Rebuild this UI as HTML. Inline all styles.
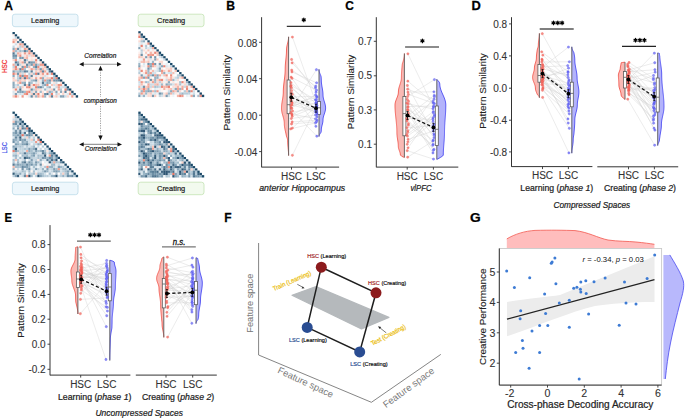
<!DOCTYPE html>
<html><head><meta charset="utf-8"><style>
html,body{margin:0;padding:0;background:#fff;}
svg{display:block;font-family:"Liberation Sans", sans-serif;}
</style></head><body>
<svg width="685" height="418" viewBox="0 0 685 418">
<rect width="685" height="418" fill="#fff"/>
<text x="0" y="0" font-size="12.5" font-weight="bold" fill="#000" stroke="#000" stroke-width="0.25" transform="translate(4.16 10.00) scale(0.960 1)">A</text>
<rect x="12.4" y="14.2" width="65.6" height="12.5" rx="2.5" fill="#eef7fc" stroke="#bcdbe8" stroke-width="0.8"/>
<text x="45.20" y="22.90" font-size="7.8" fill="#222" text-anchor="middle" stroke="#222" stroke-width="0.22" textLength="28.3" lengthAdjust="spacingAndGlyphs" >Learning</text>
<rect x="138.2" y="14.2" width="65.8" height="12.5" rx="2.5" fill="#f2faee" stroke="#c3e2b3" stroke-width="0.8"/>
<text x="171.10" y="22.90" font-size="7.8" fill="#222" text-anchor="middle" stroke="#222" stroke-width="0.22" textLength="28.2" lengthAdjust="spacingAndGlyphs" >Creating</text>
<rect x="12.4" y="182.2" width="65.6" height="12.5" rx="2.5" fill="#eef7fc" stroke="#bcdbe8" stroke-width="0.8"/>
<text x="45.20" y="190.90" font-size="7.8" fill="#222" text-anchor="middle" stroke="#222" stroke-width="0.22" textLength="28.3" lengthAdjust="spacingAndGlyphs" >Learning</text>
<rect x="138.2" y="182.2" width="65.8" height="12.5" rx="2.5" fill="#f2faee" stroke="#c3e2b3" stroke-width="0.8"/>
<text x="171.10" y="190.90" font-size="7.8" fill="#222" text-anchor="middle" stroke="#222" stroke-width="0.22" textLength="28.2" lengthAdjust="spacingAndGlyphs" >Creating</text>
<defs><filter id="mblur" x="-5%" y="-5%" width="110%" height="110%"><feGaussianBlur stdDeviation="0.3"/></filter></defs>
<g filter="url(#mblur)"><rect x="12.50" y="32.00" width="2.36" height="2.36" fill="#1b4a68"/><rect x="12.50" y="34.26" width="2.36" height="2.36" fill="#fceae5"/><rect x="14.76" y="34.26" width="2.36" height="2.36" fill="#1b4a68"/><rect x="12.50" y="36.52" width="2.36" height="2.36" fill="#f4f7fa"/><rect x="14.76" y="36.52" width="2.36" height="2.36" fill="#c6d7e1"/><rect x="17.02" y="36.52" width="2.36" height="2.36" fill="#1b4a68"/><rect x="12.50" y="38.78" width="2.36" height="2.36" fill="#f6c2b7"/><rect x="14.76" y="38.78" width="2.36" height="2.36" fill="#f8ccc2"/><rect x="17.02" y="38.78" width="2.36" height="2.36" fill="#fdf0ed"/><rect x="19.28" y="38.78" width="2.36" height="2.36" fill="#1b4a68"/><rect x="12.50" y="41.03" width="2.36" height="2.36" fill="#ee9787"/><rect x="14.76" y="41.03" width="2.36" height="2.36" fill="#fce3dd"/><rect x="17.02" y="41.03" width="2.36" height="2.36" fill="#5c8098"/><rect x="19.28" y="41.03" width="2.36" height="2.36" fill="#c1d3de"/><rect x="21.53" y="41.03" width="2.36" height="2.36" fill="#1b4a68"/><rect x="12.50" y="43.29" width="2.36" height="2.36" fill="#f8fafc"/><rect x="14.76" y="43.29" width="2.36" height="2.36" fill="#d3e0e9"/><rect x="17.02" y="43.29" width="2.36" height="2.36" fill="#fdede9"/><rect x="19.28" y="43.29" width="2.36" height="2.36" fill="#ee9889"/><rect x="21.53" y="43.29" width="2.36" height="2.36" fill="#f5b9ac"/><rect x="23.79" y="43.29" width="2.36" height="2.36" fill="#1b4a68"/><rect x="12.50" y="45.55" width="2.36" height="2.36" fill="#c5d6e1"/><rect x="14.76" y="45.55" width="2.36" height="2.36" fill="#f5f8fa"/><rect x="17.02" y="45.55" width="2.36" height="2.36" fill="#fce5df"/><rect x="19.28" y="45.55" width="2.36" height="2.36" fill="#bbcfdb"/><rect x="21.53" y="45.55" width="2.36" height="2.36" fill="#f4b8ac"/><rect x="23.79" y="45.55" width="2.36" height="2.36" fill="#d1dfe8"/><rect x="26.05" y="45.55" width="2.36" height="2.36" fill="#1b4a68"/><rect x="12.50" y="47.81" width="2.36" height="2.36" fill="#8ba9bb"/><rect x="14.76" y="47.81" width="2.36" height="2.36" fill="#f5b9ad"/><rect x="17.02" y="47.81" width="2.36" height="2.36" fill="#6a8da4"/><rect x="19.28" y="47.81" width="2.36" height="2.36" fill="#d3e1e9"/><rect x="21.53" y="47.81" width="2.36" height="2.36" fill="#edf3f6"/><rect x="23.79" y="47.81" width="2.36" height="2.36" fill="#f0a293"/><rect x="26.05" y="47.81" width="2.36" height="2.36" fill="#f7c5ba"/><rect x="28.31" y="47.81" width="2.36" height="2.36" fill="#1b4a68"/><rect x="12.50" y="50.07" width="2.36" height="2.36" fill="#f2ada0"/><rect x="14.76" y="50.07" width="2.36" height="2.36" fill="#a3bccc"/><rect x="17.02" y="50.07" width="2.36" height="2.36" fill="#cfdde7"/><rect x="19.28" y="50.07" width="2.36" height="2.36" fill="#9fb9c9"/><rect x="21.53" y="50.07" width="2.36" height="2.36" fill="#b6cbd8"/><rect x="23.79" y="50.07" width="2.36" height="2.36" fill="#5c8099"/><rect x="26.05" y="50.07" width="2.36" height="2.36" fill="#92aec0"/><rect x="28.31" y="50.07" width="2.36" height="2.36" fill="#f2a99b"/><rect x="30.57" y="50.07" width="2.36" height="2.36" fill="#1b4a68"/><rect x="12.50" y="52.33" width="2.36" height="2.36" fill="#527791"/><rect x="14.76" y="52.33" width="2.36" height="2.36" fill="#d3e1ea"/><rect x="17.02" y="52.33" width="2.36" height="2.36" fill="#f2ada0"/><rect x="19.28" y="52.33" width="2.36" height="2.36" fill="#f7c8be"/><rect x="21.53" y="52.33" width="2.36" height="2.36" fill="#fdede9"/><rect x="23.79" y="52.33" width="2.36" height="2.36" fill="#f0a091"/><rect x="26.05" y="52.33" width="2.36" height="2.36" fill="#fbe0da"/><rect x="28.31" y="52.33" width="2.36" height="2.36" fill="#ec8f80"/><rect x="30.57" y="52.33" width="2.36" height="2.36" fill="#f8cabf"/><rect x="32.83" y="52.33" width="2.36" height="2.36" fill="#1b4a68"/><rect x="12.50" y="54.59" width="2.36" height="2.36" fill="#698ca3"/><rect x="14.76" y="54.59" width="2.36" height="2.36" fill="#6c8fa5"/><rect x="17.02" y="54.59" width="2.36" height="2.36" fill="#f9cec4"/><rect x="19.28" y="54.59" width="2.36" height="2.36" fill="#ec8d7e"/><rect x="21.53" y="54.59" width="2.36" height="2.36" fill="#e8eff4"/><rect x="23.79" y="54.59" width="2.36" height="2.36" fill="#fbe2dc"/><rect x="26.05" y="54.59" width="2.36" height="2.36" fill="#f7c5ba"/><rect x="28.31" y="54.59" width="2.36" height="2.36" fill="#d7e3eb"/><rect x="30.57" y="54.59" width="2.36" height="2.36" fill="#f8cec4"/><rect x="32.83" y="54.59" width="2.36" height="2.36" fill="#f5bbae"/><rect x="35.09" y="54.59" width="2.36" height="2.36" fill="#1b4a68"/><rect x="12.50" y="56.84" width="2.36" height="2.36" fill="#8daabc"/><rect x="14.76" y="56.84" width="2.36" height="2.36" fill="#9bb5c6"/><rect x="17.02" y="56.84" width="2.36" height="2.36" fill="#f7f9fb"/><rect x="19.28" y="56.84" width="2.36" height="2.36" fill="#7c9cb1"/><rect x="21.53" y="56.84" width="2.36" height="2.36" fill="#7999ae"/><rect x="23.79" y="56.84" width="2.36" height="2.36" fill="#f9d0c7"/><rect x="26.05" y="56.84" width="2.36" height="2.36" fill="#f3b2a5"/><rect x="28.31" y="56.84" width="2.36" height="2.36" fill="#fdf2ef"/><rect x="30.57" y="56.84" width="2.36" height="2.36" fill="#fce9e4"/><rect x="32.83" y="56.84" width="2.36" height="2.36" fill="#fef4f1"/><rect x="35.09" y="56.84" width="2.36" height="2.36" fill="#fceae5"/><rect x="37.34" y="56.84" width="2.36" height="2.36" fill="#1b4a68"/><rect x="12.50" y="59.10" width="2.36" height="2.36" fill="#fad5cc"/><rect x="14.76" y="59.10" width="2.36" height="2.36" fill="#ec8f7f"/><rect x="17.02" y="59.10" width="2.36" height="2.36" fill="#e8eff4"/><rect x="19.28" y="59.10" width="2.36" height="2.36" fill="#fad7ce"/><rect x="21.53" y="59.10" width="2.36" height="2.36" fill="#fdede9"/><rect x="23.79" y="59.10" width="2.36" height="2.36" fill="#527791"/><rect x="26.05" y="59.10" width="2.36" height="2.36" fill="#b2c7d5"/><rect x="28.31" y="59.10" width="2.36" height="2.36" fill="#fdefeb"/><rect x="30.57" y="59.10" width="2.36" height="2.36" fill="#fbdfd8"/><rect x="32.83" y="59.10" width="2.36" height="2.36" fill="#e6eef3"/><rect x="35.09" y="59.10" width="2.36" height="2.36" fill="#e98272"/><rect x="37.34" y="59.10" width="2.36" height="2.36" fill="#e9f0f4"/><rect x="39.60" y="59.10" width="2.36" height="2.36" fill="#1b4a68"/><rect x="12.50" y="61.36" width="2.36" height="2.36" fill="#fbfcfd"/><rect x="14.76" y="61.36" width="2.36" height="2.36" fill="#557a93"/><rect x="17.02" y="61.36" width="2.36" height="2.36" fill="#8ca9bc"/><rect x="19.28" y="61.36" width="2.36" height="2.36" fill="#fad4cb"/><rect x="21.53" y="61.36" width="2.36" height="2.36" fill="#f0a091"/><rect x="23.79" y="61.36" width="2.36" height="2.36" fill="#7c9cb1"/><rect x="26.05" y="61.36" width="2.36" height="2.36" fill="#fce3dd"/><rect x="28.31" y="61.36" width="2.36" height="2.36" fill="#547992"/><rect x="30.57" y="61.36" width="2.36" height="2.36" fill="#7798ad"/><rect x="32.83" y="61.36" width="2.36" height="2.36" fill="#84a2b6"/><rect x="35.09" y="61.36" width="2.36" height="2.36" fill="#f6c1b5"/><rect x="37.34" y="61.36" width="2.36" height="2.36" fill="#fef6f4"/><rect x="39.60" y="61.36" width="2.36" height="2.36" fill="#fbddd6"/><rect x="41.86" y="61.36" width="2.36" height="2.36" fill="#1b4a68"/><rect x="12.50" y="63.62" width="2.36" height="2.36" fill="#f2aa9c"/><rect x="14.76" y="63.62" width="2.36" height="2.36" fill="#b8ccd9"/><rect x="17.02" y="63.62" width="2.36" height="2.36" fill="#537892"/><rect x="19.28" y="63.62" width="2.36" height="2.36" fill="#c6d7e2"/><rect x="21.53" y="63.62" width="2.36" height="2.36" fill="#fce3dc"/><rect x="23.79" y="63.62" width="2.36" height="2.36" fill="#fce5df"/><rect x="26.05" y="63.62" width="2.36" height="2.36" fill="#6589a0"/><rect x="28.31" y="63.62" width="2.36" height="2.36" fill="#b2c8d5"/><rect x="30.57" y="63.62" width="2.36" height="2.36" fill="#7899ae"/><rect x="32.83" y="63.62" width="2.36" height="2.36" fill="#f3aea1"/><rect x="35.09" y="63.62" width="2.36" height="2.36" fill="#7c9cb0"/><rect x="37.34" y="63.62" width="2.36" height="2.36" fill="#b3c8d6"/><rect x="39.60" y="63.62" width="2.36" height="2.36" fill="#ef9d8e"/><rect x="41.86" y="63.62" width="2.36" height="2.36" fill="#ef9b8c"/><rect x="44.12" y="63.62" width="2.36" height="2.36" fill="#1b4a68"/><rect x="12.50" y="65.88" width="2.36" height="2.36" fill="#c1d3de"/><rect x="14.76" y="65.88" width="2.36" height="2.36" fill="#e98273"/><rect x="17.02" y="65.88" width="2.36" height="2.36" fill="#e5edf2"/><rect x="19.28" y="65.88" width="2.36" height="2.36" fill="#fceae5"/><rect x="21.53" y="65.88" width="2.36" height="2.36" fill="#7798ad"/><rect x="23.79" y="65.88" width="2.36" height="2.36" fill="#ee9788"/><rect x="26.05" y="65.88" width="2.36" height="2.36" fill="#93afc1"/><rect x="28.31" y="65.88" width="2.36" height="2.36" fill="#f5bdb1"/><rect x="30.57" y="65.88" width="2.36" height="2.36" fill="#fef7f6"/><rect x="32.83" y="65.88" width="2.36" height="2.36" fill="#95b0c2"/><rect x="35.09" y="65.88" width="2.36" height="2.36" fill="#5f829b"/><rect x="37.34" y="65.88" width="2.36" height="2.36" fill="#ec8f80"/><rect x="39.60" y="65.88" width="2.36" height="2.36" fill="#dfe9ef"/><rect x="41.86" y="65.88" width="2.36" height="2.36" fill="#fbdcd4"/><rect x="44.12" y="65.88" width="2.36" height="2.36" fill="#f4b8ac"/><rect x="46.38" y="65.88" width="2.36" height="2.36" fill="#1b4a68"/><rect x="12.50" y="68.14" width="2.36" height="2.36" fill="#f8cec4"/><rect x="14.76" y="68.14" width="2.36" height="2.36" fill="#eb8979"/><rect x="17.02" y="68.14" width="2.36" height="2.36" fill="#f8c9be"/><rect x="19.28" y="68.14" width="2.36" height="2.36" fill="#65889f"/><rect x="21.53" y="68.14" width="2.36" height="2.36" fill="#ea8778"/><rect x="23.79" y="68.14" width="2.36" height="2.36" fill="#aac1d0"/><rect x="26.05" y="68.14" width="2.36" height="2.36" fill="#fcfdfe"/><rect x="28.31" y="68.14" width="2.36" height="2.36" fill="#fce7e2"/><rect x="30.57" y="68.14" width="2.36" height="2.36" fill="#ef9b8c"/><rect x="32.83" y="68.14" width="2.36" height="2.36" fill="#f7c7bc"/><rect x="35.09" y="68.14" width="2.36" height="2.36" fill="#a5becd"/><rect x="37.34" y="68.14" width="2.36" height="2.36" fill="#f6c1b5"/><rect x="39.60" y="68.14" width="2.36" height="2.36" fill="#7b9bb0"/><rect x="41.86" y="68.14" width="2.36" height="2.36" fill="#f5bbaf"/><rect x="44.12" y="68.14" width="2.36" height="2.36" fill="#fbded6"/><rect x="46.38" y="68.14" width="2.36" height="2.36" fill="#aec4d2"/><rect x="48.64" y="68.14" width="2.36" height="2.36" fill="#1b4a68"/><rect x="12.50" y="70.40" width="2.36" height="2.36" fill="#809fb3"/><rect x="14.76" y="70.40" width="2.36" height="2.36" fill="#b9cdd9"/><rect x="17.02" y="70.40" width="2.36" height="2.36" fill="#aec5d3"/><rect x="19.28" y="70.40" width="2.36" height="2.36" fill="#8caabc"/><rect x="21.53" y="70.40" width="2.36" height="2.36" fill="#a9c1d0"/><rect x="23.79" y="70.40" width="2.36" height="2.36" fill="#5d8199"/><rect x="26.05" y="70.40" width="2.36" height="2.36" fill="#6a8da4"/><rect x="28.31" y="70.40" width="2.36" height="2.36" fill="#d7e4ec"/><rect x="30.57" y="70.40" width="2.36" height="2.36" fill="#5d8199"/><rect x="32.83" y="70.40" width="2.36" height="2.36" fill="#eaf1f5"/><rect x="35.09" y="70.40" width="2.36" height="2.36" fill="#f8cbc0"/><rect x="37.34" y="70.40" width="2.36" height="2.36" fill="#fbe1db"/><rect x="39.60" y="70.40" width="2.36" height="2.36" fill="#f2ada0"/><rect x="41.86" y="70.40" width="2.36" height="2.36" fill="#6689a1"/><rect x="44.12" y="70.40" width="2.36" height="2.36" fill="#f1a799"/><rect x="46.38" y="70.40" width="2.36" height="2.36" fill="#e9f0f4"/><rect x="48.64" y="70.40" width="2.36" height="2.36" fill="#587c95"/><rect x="50.90" y="70.40" width="2.36" height="2.36" fill="#1b4a68"/><rect x="12.50" y="72.66" width="2.36" height="2.36" fill="#e98172"/><rect x="14.76" y="72.66" width="2.36" height="2.36" fill="#f7c5ba"/><rect x="17.02" y="72.66" width="2.36" height="2.36" fill="#7294aa"/><rect x="19.28" y="72.66" width="2.36" height="2.36" fill="#f8ccc2"/><rect x="21.53" y="72.66" width="2.36" height="2.36" fill="#cadae4"/><rect x="23.79" y="72.66" width="2.36" height="2.36" fill="#fadad1"/><rect x="26.05" y="72.66" width="2.36" height="2.36" fill="#fcfdfe"/><rect x="28.31" y="72.66" width="2.36" height="2.36" fill="#b9cdda"/><rect x="30.57" y="72.66" width="2.36" height="2.36" fill="#fad8d0"/><rect x="32.83" y="72.66" width="2.36" height="2.36" fill="#adc4d2"/><rect x="35.09" y="72.66" width="2.36" height="2.36" fill="#e87c6c"/><rect x="37.34" y="72.66" width="2.36" height="2.36" fill="#577b94"/><rect x="39.60" y="72.66" width="2.36" height="2.36" fill="#fbdfd8"/><rect x="41.86" y="72.66" width="2.36" height="2.36" fill="#f09f90"/><rect x="44.12" y="72.66" width="2.36" height="2.36" fill="#fdece8"/><rect x="46.38" y="72.66" width="2.36" height="2.36" fill="#eb8879"/><rect x="48.64" y="72.66" width="2.36" height="2.36" fill="#d7e4ec"/><rect x="50.90" y="72.66" width="2.36" height="2.36" fill="#ea8778"/><rect x="53.16" y="72.66" width="2.36" height="2.36" fill="#1b4a68"/><rect x="12.50" y="74.91" width="2.36" height="2.36" fill="#8ba8bb"/><rect x="14.76" y="74.91" width="2.36" height="2.36" fill="#fef3f1"/><rect x="17.02" y="74.91" width="2.36" height="2.36" fill="#bccfdb"/><rect x="19.28" y="74.91" width="2.36" height="2.36" fill="#ea8474"/><rect x="21.53" y="74.91" width="2.36" height="2.36" fill="#7899ae"/><rect x="23.79" y="74.91" width="2.36" height="2.36" fill="#ed9282"/><rect x="26.05" y="74.91" width="2.36" height="2.36" fill="#ec9181"/><rect x="28.31" y="74.91" width="2.36" height="2.36" fill="#cadae4"/><rect x="30.57" y="74.91" width="2.36" height="2.36" fill="#60849c"/><rect x="32.83" y="74.91" width="2.36" height="2.36" fill="#fdece8"/><rect x="35.09" y="74.91" width="2.36" height="2.36" fill="#dbe6ed"/><rect x="37.34" y="74.91" width="2.36" height="2.36" fill="#fce9e4"/><rect x="39.60" y="74.91" width="2.36" height="2.36" fill="#fce5df"/><rect x="41.86" y="74.91" width="2.36" height="2.36" fill="#fbdbd3"/><rect x="44.12" y="74.91" width="2.36" height="2.36" fill="#d3e0e9"/><rect x="46.38" y="74.91" width="2.36" height="2.36" fill="#e4ecf2"/><rect x="48.64" y="74.91" width="2.36" height="2.36" fill="#fef7f5"/><rect x="50.90" y="74.91" width="2.36" height="2.36" fill="#fef7f6"/><rect x="53.16" y="74.91" width="2.36" height="2.36" fill="#a6bfce"/><rect x="55.41" y="74.91" width="2.36" height="2.36" fill="#1b4a68"/><rect x="12.50" y="77.17" width="2.36" height="2.36" fill="#f7c6bc"/><rect x="14.76" y="77.17" width="2.36" height="2.36" fill="#eff4f7"/><rect x="17.02" y="77.17" width="2.36" height="2.36" fill="#bbceda"/><rect x="19.28" y="77.17" width="2.36" height="2.36" fill="#7293a9"/><rect x="21.53" y="77.17" width="2.36" height="2.36" fill="#f6c2b7"/><rect x="23.79" y="77.17" width="2.36" height="2.36" fill="#557993"/><rect x="26.05" y="77.17" width="2.36" height="2.36" fill="#ee9687"/><rect x="28.31" y="77.17" width="2.36" height="2.36" fill="#97b3c4"/><rect x="30.57" y="77.17" width="2.36" height="2.36" fill="#fad7ce"/><rect x="32.83" y="77.17" width="2.36" height="2.36" fill="#fdece8"/><rect x="35.09" y="77.17" width="2.36" height="2.36" fill="#f1a495"/><rect x="37.34" y="77.17" width="2.36" height="2.36" fill="#fce9e4"/><rect x="39.60" y="77.17" width="2.36" height="2.36" fill="#ed9485"/><rect x="41.86" y="77.17" width="2.36" height="2.36" fill="#91adbf"/><rect x="44.12" y="77.17" width="2.36" height="2.36" fill="#fbe1da"/><rect x="46.38" y="77.17" width="2.36" height="2.36" fill="#f7c8be"/><rect x="48.64" y="77.17" width="2.36" height="2.36" fill="#f8cac0"/><rect x="50.90" y="77.17" width="2.36" height="2.36" fill="#e98070"/><rect x="53.16" y="77.17" width="2.36" height="2.36" fill="#a7bfce"/><rect x="55.41" y="77.17" width="2.36" height="2.36" fill="#e97f70"/><rect x="57.67" y="77.17" width="2.36" height="2.36" fill="#1b4a68"/><rect x="12.50" y="79.43" width="2.36" height="2.36" fill="#fad6cd"/><rect x="14.76" y="79.43" width="2.36" height="2.36" fill="#f9d2c9"/><rect x="17.02" y="79.43" width="2.36" height="2.36" fill="#afc5d3"/><rect x="19.28" y="79.43" width="2.36" height="2.36" fill="#f6c2b7"/><rect x="21.53" y="79.43" width="2.36" height="2.36" fill="#fbdfd8"/><rect x="23.79" y="79.43" width="2.36" height="2.36" fill="#f9d0c6"/><rect x="26.05" y="79.43" width="2.36" height="2.36" fill="#fef7f5"/><rect x="28.31" y="79.43" width="2.36" height="2.36" fill="#fbe2dc"/><rect x="30.57" y="79.43" width="2.36" height="2.36" fill="#aac2d0"/><rect x="32.83" y="79.43" width="2.36" height="2.36" fill="#93afc1"/><rect x="35.09" y="79.43" width="2.36" height="2.36" fill="#6a8da3"/><rect x="37.34" y="79.43" width="2.36" height="2.36" fill="#fad9d0"/><rect x="39.60" y="79.43" width="2.36" height="2.36" fill="#e8eff4"/><rect x="41.86" y="79.43" width="2.36" height="2.36" fill="#96b1c3"/><rect x="44.12" y="79.43" width="2.36" height="2.36" fill="#ee9586"/><rect x="46.38" y="79.43" width="2.36" height="2.36" fill="#99b4c5"/><rect x="48.64" y="79.43" width="2.36" height="2.36" fill="#7697ac"/><rect x="50.90" y="79.43" width="2.36" height="2.36" fill="#f6c0b5"/><rect x="53.16" y="79.43" width="2.36" height="2.36" fill="#7293a9"/><rect x="55.41" y="79.43" width="2.36" height="2.36" fill="#7395aa"/><rect x="57.67" y="79.43" width="2.36" height="2.36" fill="#678aa1"/><rect x="59.93" y="79.43" width="2.36" height="2.36" fill="#1b4a68"/><rect x="12.50" y="81.69" width="2.36" height="2.36" fill="#8caabc"/><rect x="14.76" y="81.69" width="2.36" height="2.36" fill="#fef6f4"/><rect x="17.02" y="81.69" width="2.36" height="2.36" fill="#fad5cc"/><rect x="19.28" y="81.69" width="2.36" height="2.36" fill="#ee9586"/><rect x="21.53" y="81.69" width="2.36" height="2.36" fill="#99b4c5"/><rect x="23.79" y="81.69" width="2.36" height="2.36" fill="#8facbe"/><rect x="26.05" y="81.69" width="2.36" height="2.36" fill="#feffff"/><rect x="28.31" y="81.69" width="2.36" height="2.36" fill="#82a1b5"/><rect x="30.57" y="81.69" width="2.36" height="2.36" fill="#a9c1d0"/><rect x="32.83" y="81.69" width="2.36" height="2.36" fill="#f5f8fa"/><rect x="35.09" y="81.69" width="2.36" height="2.36" fill="#d8e4ec"/><rect x="37.34" y="81.69" width="2.36" height="2.36" fill="#fbdfd8"/><rect x="39.60" y="81.69" width="2.36" height="2.36" fill="#e0e9f0"/><rect x="41.86" y="81.69" width="2.36" height="2.36" fill="#567b94"/><rect x="44.12" y="81.69" width="2.36" height="2.36" fill="#c3d5e0"/><rect x="46.38" y="81.69" width="2.36" height="2.36" fill="#8eabbd"/><rect x="48.64" y="81.69" width="2.36" height="2.36" fill="#9bb6c6"/><rect x="50.90" y="81.69" width="2.36" height="2.36" fill="#f3f7f9"/><rect x="53.16" y="81.69" width="2.36" height="2.36" fill="#fbe0d9"/><rect x="55.41" y="81.69" width="2.36" height="2.36" fill="#d0dfe8"/><rect x="57.67" y="81.69" width="2.36" height="2.36" fill="#fdfefe"/><rect x="59.93" y="81.69" width="2.36" height="2.36" fill="#fbded7"/><rect x="62.19" y="81.69" width="2.36" height="2.36" fill="#1b4a68"/><rect x="12.50" y="83.95" width="2.36" height="2.36" fill="#8daabc"/><rect x="14.76" y="83.95" width="2.36" height="2.36" fill="#d2e0e9"/><rect x="17.02" y="83.95" width="2.36" height="2.36" fill="#b5cad7"/><rect x="19.28" y="83.95" width="2.36" height="2.36" fill="#edf3f6"/><rect x="21.53" y="83.95" width="2.36" height="2.36" fill="#e1eaf0"/><rect x="23.79" y="83.95" width="2.36" height="2.36" fill="#5e829a"/><rect x="26.05" y="83.95" width="2.36" height="2.36" fill="#f7c8be"/><rect x="28.31" y="83.95" width="2.36" height="2.36" fill="#587c95"/><rect x="30.57" y="83.95" width="2.36" height="2.36" fill="#fbded7"/><rect x="32.83" y="83.95" width="2.36" height="2.36" fill="#e98373"/><rect x="35.09" y="83.95" width="2.36" height="2.36" fill="#f5b9ac"/><rect x="37.34" y="83.95" width="2.36" height="2.36" fill="#f6c0b5"/><rect x="39.60" y="83.95" width="2.36" height="2.36" fill="#ebf1f5"/><rect x="41.86" y="83.95" width="2.36" height="2.36" fill="#aec4d2"/><rect x="44.12" y="83.95" width="2.36" height="2.36" fill="#8aa8bb"/><rect x="46.38" y="83.95" width="2.36" height="2.36" fill="#eb8b7b"/><rect x="48.64" y="83.95" width="2.36" height="2.36" fill="#fbfcfd"/><rect x="50.90" y="83.95" width="2.36" height="2.36" fill="#f7c4b9"/><rect x="53.16" y="83.95" width="2.36" height="2.36" fill="#d1dfe8"/><rect x="55.41" y="83.95" width="2.36" height="2.36" fill="#fad7ce"/><rect x="57.67" y="83.95" width="2.36" height="2.36" fill="#ed9485"/><rect x="59.93" y="83.95" width="2.36" height="2.36" fill="#f0a394"/><rect x="62.19" y="83.95" width="2.36" height="2.36" fill="#edf2f6"/><rect x="64.45" y="83.95" width="2.36" height="2.36" fill="#1b4a68"/><rect x="12.50" y="86.21" width="2.36" height="2.36" fill="#89a6b9"/><rect x="14.76" y="86.21" width="2.36" height="2.36" fill="#d3e0e9"/><rect x="17.02" y="86.21" width="2.36" height="2.36" fill="#f9d1c7"/><rect x="19.28" y="86.21" width="2.36" height="2.36" fill="#a0baca"/><rect x="21.53" y="86.21" width="2.36" height="2.36" fill="#f8ccc2"/><rect x="23.79" y="86.21" width="2.36" height="2.36" fill="#fef4f2"/><rect x="26.05" y="86.21" width="2.36" height="2.36" fill="#ee9586"/><rect x="28.31" y="86.21" width="2.36" height="2.36" fill="#ea8475"/><rect x="30.57" y="86.21" width="2.36" height="2.36" fill="#fbdfd8"/><rect x="32.83" y="86.21" width="2.36" height="2.36" fill="#e2ebf1"/><rect x="35.09" y="86.21" width="2.36" height="2.36" fill="#e98171"/><rect x="37.34" y="86.21" width="2.36" height="2.36" fill="#7697ac"/><rect x="39.60" y="86.21" width="2.36" height="2.36" fill="#63869e"/><rect x="41.86" y="86.21" width="2.36" height="2.36" fill="#a7bfce"/><rect x="44.12" y="86.21" width="2.36" height="2.36" fill="#f7fafb"/><rect x="46.38" y="86.21" width="2.36" height="2.36" fill="#b7ccd8"/><rect x="48.64" y="86.21" width="2.36" height="2.36" fill="#95b1c3"/><rect x="50.90" y="86.21" width="2.36" height="2.36" fill="#fef4f2"/><rect x="53.16" y="86.21" width="2.36" height="2.36" fill="#ecf2f5"/><rect x="55.41" y="86.21" width="2.36" height="2.36" fill="#cadae4"/><rect x="57.67" y="86.21" width="2.36" height="2.36" fill="#f1a496"/><rect x="59.93" y="86.21" width="2.36" height="2.36" fill="#d7e4ec"/><rect x="62.19" y="86.21" width="2.36" height="2.36" fill="#d1dfe8"/><rect x="64.45" y="86.21" width="2.36" height="2.36" fill="#c1d3de"/><rect x="66.71" y="86.21" width="2.36" height="2.36" fill="#1b4a68"/><rect x="12.50" y="88.47" width="2.36" height="2.36" fill="#fce9e4"/><rect x="14.76" y="88.47" width="2.36" height="2.36" fill="#eb897a"/><rect x="17.02" y="88.47" width="2.36" height="2.36" fill="#dde8ef"/><rect x="19.28" y="88.47" width="2.36" height="2.36" fill="#527790"/><rect x="21.53" y="88.47" width="2.36" height="2.36" fill="#fdebe7"/><rect x="23.79" y="88.47" width="2.36" height="2.36" fill="#fdf0ed"/><rect x="26.05" y="88.47" width="2.36" height="2.36" fill="#fdf0ed"/><rect x="28.31" y="88.47" width="2.36" height="2.36" fill="#fbdfd8"/><rect x="30.57" y="88.47" width="2.36" height="2.36" fill="#688ba2"/><rect x="32.83" y="88.47" width="2.36" height="2.36" fill="#bed1dc"/><rect x="35.09" y="88.47" width="2.36" height="2.36" fill="#f6c0b5"/><rect x="37.34" y="88.47" width="2.36" height="2.36" fill="#fad8cf"/><rect x="39.60" y="88.47" width="2.36" height="2.36" fill="#fbded6"/><rect x="41.86" y="88.47" width="2.36" height="2.36" fill="#ecf2f6"/><rect x="44.12" y="88.47" width="2.36" height="2.36" fill="#98b4c5"/><rect x="46.38" y="88.47" width="2.36" height="2.36" fill="#dee8ef"/><rect x="48.64" y="88.47" width="2.36" height="2.36" fill="#fbe0da"/><rect x="50.90" y="88.47" width="2.36" height="2.36" fill="#f8cac0"/><rect x="53.16" y="88.47" width="2.36" height="2.36" fill="#6f91a7"/><rect x="55.41" y="88.47" width="2.36" height="2.36" fill="#fcfdfd"/><rect x="57.67" y="88.47" width="2.36" height="2.36" fill="#f1a89a"/><rect x="59.93" y="88.47" width="2.36" height="2.36" fill="#b4c9d6"/><rect x="62.19" y="88.47" width="2.36" height="2.36" fill="#ffffff"/><rect x="64.45" y="88.47" width="2.36" height="2.36" fill="#ea8676"/><rect x="66.71" y="88.47" width="2.36" height="2.36" fill="#6e90a7"/><rect x="68.97" y="88.47" width="2.36" height="2.36" fill="#1b4a68"/><rect x="12.50" y="90.72" width="2.36" height="2.36" fill="#d9e5ec"/><rect x="14.76" y="90.72" width="2.36" height="2.36" fill="#fceae5"/><rect x="17.02" y="90.72" width="2.36" height="2.36" fill="#8eabbe"/><rect x="19.28" y="90.72" width="2.36" height="2.36" fill="#87a5b8"/><rect x="21.53" y="90.72" width="2.36" height="2.36" fill="#7f9eb3"/><rect x="23.79" y="90.72" width="2.36" height="2.36" fill="#a6bfce"/><rect x="26.05" y="90.72" width="2.36" height="2.36" fill="#f09e8f"/><rect x="28.31" y="90.72" width="2.36" height="2.36" fill="#ea8778"/><rect x="30.57" y="90.72" width="2.36" height="2.36" fill="#d0dfe8"/><rect x="32.83" y="90.72" width="2.36" height="2.36" fill="#fbe0d9"/><rect x="35.09" y="90.72" width="2.36" height="2.36" fill="#8ba9bb"/><rect x="37.34" y="90.72" width="2.36" height="2.36" fill="#fdf2ef"/><rect x="39.60" y="90.72" width="2.36" height="2.36" fill="#a1bbcb"/><rect x="41.86" y="90.72" width="2.36" height="2.36" fill="#fce3dd"/><rect x="44.12" y="90.72" width="2.36" height="2.36" fill="#fdfefe"/><rect x="46.38" y="90.72" width="2.36" height="2.36" fill="#f7c8be"/><rect x="48.64" y="90.72" width="2.36" height="2.36" fill="#95b1c3"/><rect x="50.90" y="90.72" width="2.36" height="2.36" fill="#b3c9d6"/><rect x="53.16" y="90.72" width="2.36" height="2.36" fill="#fbe1da"/><rect x="55.41" y="90.72" width="2.36" height="2.36" fill="#8aa8bb"/><rect x="57.67" y="90.72" width="2.36" height="2.36" fill="#fef7f5"/><rect x="59.93" y="90.72" width="2.36" height="2.36" fill="#90adbf"/><rect x="62.19" y="90.72" width="2.36" height="2.36" fill="#fbe0d9"/><rect x="64.45" y="90.72" width="2.36" height="2.36" fill="#60849c"/><rect x="66.71" y="90.72" width="2.36" height="2.36" fill="#fef5f3"/><rect x="68.97" y="90.72" width="2.36" height="2.36" fill="#f8cdc3"/><rect x="71.22" y="90.72" width="2.36" height="2.36" fill="#1b4a68"/><rect x="12.50" y="92.98" width="2.36" height="2.36" fill="#e1eaf0"/><rect x="14.76" y="92.98" width="2.36" height="2.36" fill="#84a2b6"/><rect x="17.02" y="92.98" width="2.36" height="2.36" fill="#e0e9f0"/><rect x="19.28" y="92.98" width="2.36" height="2.36" fill="#cfdee7"/><rect x="21.53" y="92.98" width="2.36" height="2.36" fill="#dce7ee"/><rect x="23.79" y="92.98" width="2.36" height="2.36" fill="#f0a192"/><rect x="26.05" y="92.98" width="2.36" height="2.36" fill="#e98272"/><rect x="28.31" y="92.98" width="2.36" height="2.36" fill="#e2ebf1"/><rect x="30.57" y="92.98" width="2.36" height="2.36" fill="#f8cec4"/><rect x="32.83" y="92.98" width="2.36" height="2.36" fill="#5b8098"/><rect x="35.09" y="92.98" width="2.36" height="2.36" fill="#f9d1c7"/><rect x="37.34" y="92.98" width="2.36" height="2.36" fill="#e87e6e"/><rect x="39.60" y="92.98" width="2.36" height="2.36" fill="#fef4f1"/><rect x="41.86" y="92.98" width="2.36" height="2.36" fill="#f9d1c7"/><rect x="44.12" y="92.98" width="2.36" height="2.36" fill="#698ca3"/><rect x="46.38" y="92.98" width="2.36" height="2.36" fill="#527690"/><rect x="48.64" y="92.98" width="2.36" height="2.36" fill="#ccdbe5"/><rect x="50.90" y="92.98" width="2.36" height="2.36" fill="#ea8475"/><rect x="53.16" y="92.98" width="2.36" height="2.36" fill="#fafcfd"/><rect x="55.41" y="92.98" width="2.36" height="2.36" fill="#c4d5e0"/><rect x="57.67" y="92.98" width="2.36" height="2.36" fill="#fad8d0"/><rect x="59.93" y="92.98" width="2.36" height="2.36" fill="#fef9f7"/><rect x="62.19" y="92.98" width="2.36" height="2.36" fill="#fad6cd"/><rect x="64.45" y="92.98" width="2.36" height="2.36" fill="#ecf2f6"/><rect x="66.71" y="92.98" width="2.36" height="2.36" fill="#dfe9ef"/><rect x="68.97" y="92.98" width="2.36" height="2.36" fill="#ee9788"/><rect x="71.22" y="92.98" width="2.36" height="2.36" fill="#baceda"/><rect x="73.48" y="92.98" width="2.36" height="2.36" fill="#1b4a68"/><rect x="12.50" y="95.24" width="2.36" height="2.36" fill="#f7c7bc"/><rect x="14.76" y="95.24" width="2.36" height="2.36" fill="#ea8778"/><rect x="17.02" y="95.24" width="2.36" height="2.36" fill="#fad5cc"/><rect x="19.28" y="95.24" width="2.36" height="2.36" fill="#fafcfd"/><rect x="21.53" y="95.24" width="2.36" height="2.36" fill="#ee998a"/><rect x="23.79" y="95.24" width="2.36" height="2.36" fill="#f9fbfc"/><rect x="26.05" y="95.24" width="2.36" height="2.36" fill="#fdf3f0"/><rect x="28.31" y="95.24" width="2.36" height="2.36" fill="#d8e4ec"/><rect x="30.57" y="95.24" width="2.36" height="2.36" fill="#6689a0"/><rect x="32.83" y="95.24" width="2.36" height="2.36" fill="#fbded7"/><rect x="35.09" y="95.24" width="2.36" height="2.36" fill="#9bb6c6"/><rect x="37.34" y="95.24" width="2.36" height="2.36" fill="#f1a799"/><rect x="39.60" y="95.24" width="2.36" height="2.36" fill="#fbded6"/><rect x="41.86" y="95.24" width="2.36" height="2.36" fill="#f0a293"/><rect x="44.12" y="95.24" width="2.36" height="2.36" fill="#97b3c4"/><rect x="46.38" y="95.24" width="2.36" height="2.36" fill="#fbfcfd"/><rect x="48.64" y="95.24" width="2.36" height="2.36" fill="#f7c6bc"/><rect x="50.90" y="95.24" width="2.36" height="2.36" fill="#5a7f97"/><rect x="53.16" y="95.24" width="2.36" height="2.36" fill="#fbe0d9"/><rect x="55.41" y="95.24" width="2.36" height="2.36" fill="#f7c4b9"/><rect x="57.67" y="95.24" width="2.36" height="2.36" fill="#e3ecf1"/><rect x="59.93" y="95.24" width="2.36" height="2.36" fill="#84a3b6"/><rect x="62.19" y="95.24" width="2.36" height="2.36" fill="#7d9db2"/><rect x="64.45" y="95.24" width="2.36" height="2.36" fill="#ccdce5"/><rect x="66.71" y="95.24" width="2.36" height="2.36" fill="#fad5cc"/><rect x="68.97" y="95.24" width="2.36" height="2.36" fill="#f3f7f9"/><rect x="71.22" y="95.24" width="2.36" height="2.36" fill="#f0a294"/><rect x="73.48" y="95.24" width="2.36" height="2.36" fill="#fdf2f0"/><rect x="75.74" y="95.24" width="2.36" height="2.36" fill="#1b4a68"/></g>
<g filter="url(#mblur)"><rect x="138.30" y="31.20" width="2.37" height="2.37" fill="#1b4a68"/><rect x="138.30" y="33.47" width="2.37" height="2.37" fill="#f8cbc0"/><rect x="140.57" y="33.47" width="2.37" height="2.37" fill="#1b4a68"/><rect x="138.30" y="35.74" width="2.37" height="2.37" fill="#e98374"/><rect x="140.57" y="35.74" width="2.37" height="2.37" fill="#7092a8"/><rect x="142.84" y="35.74" width="2.37" height="2.37" fill="#1b4a68"/><rect x="138.30" y="38.01" width="2.37" height="2.37" fill="#fefaf9"/><rect x="140.57" y="38.01" width="2.37" height="2.37" fill="#f9d2c9"/><rect x="142.84" y="38.01" width="2.37" height="2.37" fill="#d4e2ea"/><rect x="145.11" y="38.01" width="2.37" height="2.37" fill="#1b4a68"/><rect x="138.30" y="40.28" width="2.37" height="2.37" fill="#fbdcd4"/><rect x="140.57" y="40.28" width="2.37" height="2.37" fill="#b0c6d4"/><rect x="142.84" y="40.28" width="2.37" height="2.37" fill="#8eabbe"/><rect x="145.11" y="40.28" width="2.37" height="2.37" fill="#f8fafc"/><rect x="147.38" y="40.28" width="2.37" height="2.37" fill="#1b4a68"/><rect x="138.30" y="42.54" width="2.37" height="2.37" fill="#e7eff3"/><rect x="140.57" y="42.54" width="2.37" height="2.37" fill="#dee8ef"/><rect x="142.84" y="42.54" width="2.37" height="2.37" fill="#f1f6f8"/><rect x="145.11" y="42.54" width="2.37" height="2.37" fill="#fdece8"/><rect x="147.38" y="42.54" width="2.37" height="2.37" fill="#ee9788"/><rect x="149.64" y="42.54" width="2.37" height="2.37" fill="#1b4a68"/><rect x="138.30" y="44.81" width="2.37" height="2.37" fill="#e4ecf2"/><rect x="140.57" y="44.81" width="2.37" height="2.37" fill="#e98171"/><rect x="142.84" y="44.81" width="2.37" height="2.37" fill="#eef3f7"/><rect x="145.11" y="44.81" width="2.37" height="2.37" fill="#b3c9d6"/><rect x="147.38" y="44.81" width="2.37" height="2.37" fill="#fafbfc"/><rect x="149.64" y="44.81" width="2.37" height="2.37" fill="#94b0c2"/><rect x="151.91" y="44.81" width="2.37" height="2.37" fill="#1b4a68"/><rect x="138.30" y="47.08" width="2.37" height="2.37" fill="#809fb3"/><rect x="140.57" y="47.08" width="2.37" height="2.37" fill="#fce8e3"/><rect x="142.84" y="47.08" width="2.37" height="2.37" fill="#fdf1ee"/><rect x="145.11" y="47.08" width="2.37" height="2.37" fill="#bfd2dd"/><rect x="147.38" y="47.08" width="2.37" height="2.37" fill="#dee8ef"/><rect x="149.64" y="47.08" width="2.37" height="2.37" fill="#d4e1ea"/><rect x="151.91" y="47.08" width="2.37" height="2.37" fill="#f2a99b"/><rect x="154.18" y="47.08" width="2.37" height="2.37" fill="#1b4a68"/><rect x="138.30" y="49.35" width="2.37" height="2.37" fill="#f9fbfc"/><rect x="140.57" y="49.35" width="2.37" height="2.37" fill="#b9cdda"/><rect x="142.84" y="49.35" width="2.37" height="2.37" fill="#fbe0da"/><rect x="145.11" y="49.35" width="2.37" height="2.37" fill="#fdf0ed"/><rect x="147.38" y="49.35" width="2.37" height="2.37" fill="#f7c4b9"/><rect x="149.64" y="49.35" width="2.37" height="2.37" fill="#f1f5f8"/><rect x="151.91" y="49.35" width="2.37" height="2.37" fill="#fce5df"/><rect x="154.18" y="49.35" width="2.37" height="2.37" fill="#f3f6f9"/><rect x="156.45" y="49.35" width="2.37" height="2.37" fill="#1b4a68"/><rect x="138.30" y="51.62" width="2.37" height="2.37" fill="#fdf0ed"/><rect x="140.57" y="51.62" width="2.37" height="2.37" fill="#c5d6e1"/><rect x="142.84" y="51.62" width="2.37" height="2.37" fill="#fef9f7"/><rect x="145.11" y="51.62" width="2.37" height="2.37" fill="#f8cbc1"/><rect x="147.38" y="51.62" width="2.37" height="2.37" fill="#fafcfd"/><rect x="149.64" y="51.62" width="2.37" height="2.37" fill="#f4b6a9"/><rect x="151.91" y="51.62" width="2.37" height="2.37" fill="#fce9e4"/><rect x="154.18" y="51.62" width="2.37" height="2.37" fill="#eb897a"/><rect x="156.45" y="51.62" width="2.37" height="2.37" fill="#f8c9be"/><rect x="158.72" y="51.62" width="2.37" height="2.37" fill="#1b4a68"/><rect x="138.30" y="53.89" width="2.37" height="2.37" fill="#fbdcd4"/><rect x="140.57" y="53.89" width="2.37" height="2.37" fill="#6e90a6"/><rect x="142.84" y="53.89" width="2.37" height="2.37" fill="#fdf1ed"/><rect x="145.11" y="53.89" width="2.37" height="2.37" fill="#f1f5f8"/><rect x="147.38" y="53.89" width="2.37" height="2.37" fill="#ed9384"/><rect x="149.64" y="53.89" width="2.37" height="2.37" fill="#f1a394"/><rect x="151.91" y="53.89" width="2.37" height="2.37" fill="#ee9788"/><rect x="154.18" y="53.89" width="2.37" height="2.37" fill="#fef4f1"/><rect x="156.45" y="53.89" width="2.37" height="2.37" fill="#f8cbc0"/><rect x="158.72" y="53.89" width="2.37" height="2.37" fill="#81a0b4"/><rect x="160.99" y="53.89" width="2.37" height="2.37" fill="#1b4a68"/><rect x="138.30" y="56.16" width="2.37" height="2.37" fill="#f6c1b5"/><rect x="140.57" y="56.16" width="2.37" height="2.37" fill="#f9d1c8"/><rect x="142.84" y="56.16" width="2.37" height="2.37" fill="#fce9e4"/><rect x="145.11" y="56.16" width="2.37" height="2.37" fill="#7e9db2"/><rect x="147.38" y="56.16" width="2.37" height="2.37" fill="#f9d3ca"/><rect x="149.64" y="56.16" width="2.37" height="2.37" fill="#7496ab"/><rect x="151.91" y="56.16" width="2.37" height="2.37" fill="#fef7f5"/><rect x="154.18" y="56.16" width="2.37" height="2.37" fill="#7394aa"/><rect x="156.45" y="56.16" width="2.37" height="2.37" fill="#fdfefe"/><rect x="158.72" y="56.16" width="2.37" height="2.37" fill="#dce7ee"/><rect x="160.99" y="56.16" width="2.37" height="2.37" fill="#b9cdda"/><rect x="163.26" y="56.16" width="2.37" height="2.37" fill="#1b4a68"/><rect x="138.30" y="58.43" width="2.37" height="2.37" fill="#f5f8fa"/><rect x="140.57" y="58.43" width="2.37" height="2.37" fill="#eff4f7"/><rect x="142.84" y="58.43" width="2.37" height="2.37" fill="#f09f90"/><rect x="145.11" y="58.43" width="2.37" height="2.37" fill="#f3f7f9"/><rect x="147.38" y="58.43" width="2.37" height="2.37" fill="#fbddd6"/><rect x="149.64" y="58.43" width="2.37" height="2.37" fill="#dde7ee"/><rect x="151.91" y="58.43" width="2.37" height="2.37" fill="#fdece8"/><rect x="154.18" y="58.43" width="2.37" height="2.37" fill="#84a2b6"/><rect x="156.45" y="58.43" width="2.37" height="2.37" fill="#f8c9bf"/><rect x="158.72" y="58.43" width="2.37" height="2.37" fill="#fefefe"/><rect x="160.99" y="58.43" width="2.37" height="2.37" fill="#f8fafc"/><rect x="163.26" y="58.43" width="2.37" height="2.37" fill="#c5d6e1"/><rect x="165.53" y="58.43" width="2.37" height="2.37" fill="#1b4a68"/><rect x="138.30" y="60.70" width="2.37" height="2.37" fill="#e6eef3"/><rect x="140.57" y="60.70" width="2.37" height="2.37" fill="#f7c6bc"/><rect x="142.84" y="60.70" width="2.37" height="2.37" fill="#f5bbaf"/><rect x="145.11" y="60.70" width="2.37" height="2.37" fill="#fad9d1"/><rect x="147.38" y="60.70" width="2.37" height="2.37" fill="#f6c1b6"/><rect x="149.64" y="60.70" width="2.37" height="2.37" fill="#eef3f7"/><rect x="151.91" y="60.70" width="2.37" height="2.37" fill="#9cb7c7"/><rect x="154.18" y="60.70" width="2.37" height="2.37" fill="#fdf2ef"/><rect x="156.45" y="60.70" width="2.37" height="2.37" fill="#f9fbfc"/><rect x="158.72" y="60.70" width="2.37" height="2.37" fill="#fbdad2"/><rect x="160.99" y="60.70" width="2.37" height="2.37" fill="#fad9d1"/><rect x="163.26" y="60.70" width="2.37" height="2.37" fill="#fefefe"/><rect x="165.53" y="60.70" width="2.37" height="2.37" fill="#fbfcfd"/><rect x="167.80" y="60.70" width="2.37" height="2.37" fill="#1b4a68"/><rect x="138.30" y="62.97" width="2.37" height="2.37" fill="#9db7c8"/><rect x="140.57" y="62.97" width="2.37" height="2.37" fill="#fdfdfe"/><rect x="142.84" y="62.97" width="2.37" height="2.37" fill="#dde8ef"/><rect x="145.11" y="62.97" width="2.37" height="2.37" fill="#f7f9fb"/><rect x="147.38" y="62.97" width="2.37" height="2.37" fill="#6e90a6"/><rect x="149.64" y="62.97" width="2.37" height="2.37" fill="#95b1c2"/><rect x="151.91" y="62.97" width="2.37" height="2.37" fill="#e98374"/><rect x="154.18" y="62.97" width="2.37" height="2.37" fill="#7797ad"/><rect x="156.45" y="62.97" width="2.37" height="2.37" fill="#f4f8fa"/><rect x="158.72" y="62.97" width="2.37" height="2.37" fill="#7c9cb1"/><rect x="160.99" y="62.97" width="2.37" height="2.37" fill="#fbe2dc"/><rect x="163.26" y="62.97" width="2.37" height="2.37" fill="#f5f8fa"/><rect x="165.53" y="62.97" width="2.37" height="2.37" fill="#e9f0f4"/><rect x="167.80" y="62.97" width="2.37" height="2.37" fill="#f6f9fb"/><rect x="170.07" y="62.97" width="2.37" height="2.37" fill="#1b4a68"/><rect x="138.30" y="65.23" width="2.37" height="2.37" fill="#7f9eb2"/><rect x="140.57" y="65.23" width="2.37" height="2.37" fill="#fdebe6"/><rect x="142.84" y="65.23" width="2.37" height="2.37" fill="#e4edf2"/><rect x="145.11" y="65.23" width="2.37" height="2.37" fill="#fdf2ef"/><rect x="147.38" y="65.23" width="2.37" height="2.37" fill="#eb8c7d"/><rect x="149.64" y="65.23" width="2.37" height="2.37" fill="#84a3b6"/><rect x="151.91" y="65.23" width="2.37" height="2.37" fill="#f2a89a"/><rect x="154.18" y="65.23" width="2.37" height="2.37" fill="#f8cec4"/><rect x="156.45" y="65.23" width="2.37" height="2.37" fill="#e0e9f0"/><rect x="158.72" y="65.23" width="2.37" height="2.37" fill="#c4d5e0"/><rect x="160.99" y="65.23" width="2.37" height="2.37" fill="#87a5b8"/><rect x="163.26" y="65.23" width="2.37" height="2.37" fill="#e98171"/><rect x="165.53" y="65.23" width="2.37" height="2.37" fill="#dbe6ee"/><rect x="167.80" y="65.23" width="2.37" height="2.37" fill="#ebf1f5"/><rect x="170.07" y="65.23" width="2.37" height="2.37" fill="#c0d2de"/><rect x="172.33" y="65.23" width="2.37" height="2.37" fill="#1b4a68"/><rect x="138.30" y="67.50" width="2.37" height="2.37" fill="#f2ab9e"/><rect x="140.57" y="67.50" width="2.37" height="2.37" fill="#fdf2f0"/><rect x="142.84" y="67.50" width="2.37" height="2.37" fill="#fdfefe"/><rect x="145.11" y="67.50" width="2.37" height="2.37" fill="#ecf2f6"/><rect x="147.38" y="67.50" width="2.37" height="2.37" fill="#7192a8"/><rect x="149.64" y="67.50" width="2.37" height="2.37" fill="#b2c7d5"/><rect x="151.91" y="67.50" width="2.37" height="2.37" fill="#ffffff"/><rect x="154.18" y="67.50" width="2.37" height="2.37" fill="#fef5f2"/><rect x="156.45" y="67.50" width="2.37" height="2.37" fill="#d6e3eb"/><rect x="158.72" y="67.50" width="2.37" height="2.37" fill="#84a3b6"/><rect x="160.99" y="67.50" width="2.37" height="2.37" fill="#fdeeea"/><rect x="163.26" y="67.50" width="2.37" height="2.37" fill="#feffff"/><rect x="165.53" y="67.50" width="2.37" height="2.37" fill="#fbe2db"/><rect x="167.80" y="67.50" width="2.37" height="2.37" fill="#fbe2db"/><rect x="170.07" y="67.50" width="2.37" height="2.37" fill="#f7c6bb"/><rect x="172.33" y="67.50" width="2.37" height="2.37" fill="#f1f5f8"/><rect x="174.60" y="67.50" width="2.37" height="2.37" fill="#1b4a68"/><rect x="138.30" y="69.77" width="2.37" height="2.37" fill="#d0dfe8"/><rect x="140.57" y="69.77" width="2.37" height="2.37" fill="#eb8c7d"/><rect x="142.84" y="69.77" width="2.37" height="2.37" fill="#fef5f2"/><rect x="145.11" y="69.77" width="2.37" height="2.37" fill="#f6beb3"/><rect x="147.38" y="69.77" width="2.37" height="2.37" fill="#9cb7c7"/><rect x="149.64" y="69.77" width="2.37" height="2.37" fill="#fdebe6"/><rect x="151.91" y="69.77" width="2.37" height="2.37" fill="#f5bdb2"/><rect x="154.18" y="69.77" width="2.37" height="2.37" fill="#e1eaf0"/><rect x="156.45" y="69.77" width="2.37" height="2.37" fill="#d5e2ea"/><rect x="158.72" y="69.77" width="2.37" height="2.37" fill="#a5becd"/><rect x="160.99" y="69.77" width="2.37" height="2.37" fill="#ed9384"/><rect x="163.26" y="69.77" width="2.37" height="2.37" fill="#f8cec4"/><rect x="165.53" y="69.77" width="2.37" height="2.37" fill="#fdede9"/><rect x="167.80" y="69.77" width="2.37" height="2.37" fill="#f2a99b"/><rect x="170.07" y="69.77" width="2.37" height="2.37" fill="#f8cbc1"/><rect x="172.33" y="69.77" width="2.37" height="2.37" fill="#f6f9fb"/><rect x="174.60" y="69.77" width="2.37" height="2.37" fill="#f6c3b7"/><rect x="176.87" y="69.77" width="2.37" height="2.37" fill="#1b4a68"/><rect x="138.30" y="72.04" width="2.37" height="2.37" fill="#b5cad7"/><rect x="140.57" y="72.04" width="2.37" height="2.37" fill="#f4f7f9"/><rect x="142.84" y="72.04" width="2.37" height="2.37" fill="#fce7e2"/><rect x="145.11" y="72.04" width="2.37" height="2.37" fill="#ee9687"/><rect x="147.38" y="72.04" width="2.37" height="2.37" fill="#a8c0cf"/><rect x="149.64" y="72.04" width="2.37" height="2.37" fill="#f09f90"/><rect x="151.91" y="72.04" width="2.37" height="2.37" fill="#d2e0e9"/><rect x="154.18" y="72.04" width="2.37" height="2.37" fill="#d4e1ea"/><rect x="156.45" y="72.04" width="2.37" height="2.37" fill="#fef8f7"/><rect x="158.72" y="72.04" width="2.37" height="2.37" fill="#fffdfc"/><rect x="160.99" y="72.04" width="2.37" height="2.37" fill="#f3aea0"/><rect x="163.26" y="72.04" width="2.37" height="2.37" fill="#8facbe"/><rect x="165.53" y="72.04" width="2.37" height="2.37" fill="#eaf1f5"/><rect x="167.80" y="72.04" width="2.37" height="2.37" fill="#d6e3eb"/><rect x="170.07" y="72.04" width="2.37" height="2.37" fill="#c9d9e3"/><rect x="172.33" y="72.04" width="2.37" height="2.37" fill="#f5beb2"/><rect x="174.60" y="72.04" width="2.37" height="2.37" fill="#eff4f7"/><rect x="176.87" y="72.04" width="2.37" height="2.37" fill="#ffffff"/><rect x="179.14" y="72.04" width="2.37" height="2.37" fill="#1b4a68"/><rect x="138.30" y="74.31" width="2.37" height="2.37" fill="#fdede9"/><rect x="140.57" y="74.31" width="2.37" height="2.37" fill="#799aaf"/><rect x="142.84" y="74.31" width="2.37" height="2.37" fill="#e3ecf2"/><rect x="145.11" y="74.31" width="2.37" height="2.37" fill="#e3ecf1"/><rect x="147.38" y="74.31" width="2.37" height="2.37" fill="#ed9283"/><rect x="149.64" y="74.31" width="2.37" height="2.37" fill="#acc3d2"/><rect x="151.91" y="74.31" width="2.37" height="2.37" fill="#7293a9"/><rect x="154.18" y="74.31" width="2.37" height="2.37" fill="#f0a091"/><rect x="156.45" y="74.31" width="2.37" height="2.37" fill="#8ca9bc"/><rect x="158.72" y="74.31" width="2.37" height="2.37" fill="#f3b1a4"/><rect x="160.99" y="74.31" width="2.37" height="2.37" fill="#e6eef3"/><rect x="163.26" y="74.31" width="2.37" height="2.37" fill="#f6c1b5"/><rect x="165.53" y="74.31" width="2.37" height="2.37" fill="#ed9282"/><rect x="167.80" y="74.31" width="2.37" height="2.37" fill="#fffefd"/><rect x="170.07" y="74.31" width="2.37" height="2.37" fill="#ec8e7f"/><rect x="172.33" y="74.31" width="2.37" height="2.37" fill="#fef5f3"/><rect x="174.60" y="74.31" width="2.37" height="2.37" fill="#fffdfc"/><rect x="176.87" y="74.31" width="2.37" height="2.37" fill="#b7cbd8"/><rect x="179.14" y="74.31" width="2.37" height="2.37" fill="#a5bdcd"/><rect x="181.41" y="74.31" width="2.37" height="2.37" fill="#1b4a68"/><rect x="138.30" y="76.58" width="2.37" height="2.37" fill="#f7c5ba"/><rect x="140.57" y="76.58" width="2.37" height="2.37" fill="#f1a395"/><rect x="142.84" y="76.58" width="2.37" height="2.37" fill="#85a3b7"/><rect x="145.11" y="76.58" width="2.37" height="2.37" fill="#ef9a8b"/><rect x="147.38" y="76.58" width="2.37" height="2.37" fill="#799aaf"/><rect x="149.64" y="76.58" width="2.37" height="2.37" fill="#fdf0ec"/><rect x="151.91" y="76.58" width="2.37" height="2.37" fill="#fffdfd"/><rect x="154.18" y="76.58" width="2.37" height="2.37" fill="#96b1c3"/><rect x="156.45" y="76.58" width="2.37" height="2.37" fill="#93afc1"/><rect x="158.72" y="76.58" width="2.37" height="2.37" fill="#e8eff4"/><rect x="160.99" y="76.58" width="2.37" height="2.37" fill="#fef9f7"/><rect x="163.26" y="76.58" width="2.37" height="2.37" fill="#f1f5f8"/><rect x="165.53" y="76.58" width="2.37" height="2.37" fill="#fbdbd3"/><rect x="167.80" y="76.58" width="2.37" height="2.37" fill="#fdebe7"/><rect x="170.07" y="76.58" width="2.37" height="2.37" fill="#f3b3a6"/><rect x="172.33" y="76.58" width="2.37" height="2.37" fill="#fce5df"/><rect x="174.60" y="76.58" width="2.37" height="2.37" fill="#ccdbe5"/><rect x="176.87" y="76.58" width="2.37" height="2.37" fill="#b9cdda"/><rect x="179.14" y="76.58" width="2.37" height="2.37" fill="#fbdcd4"/><rect x="181.41" y="76.58" width="2.37" height="2.37" fill="#f2aa9c"/><rect x="183.68" y="76.58" width="2.37" height="2.37" fill="#1b4a68"/><rect x="138.30" y="78.85" width="2.37" height="2.37" fill="#f4b4a8"/><rect x="140.57" y="78.85" width="2.37" height="2.37" fill="#f0f4f7"/><rect x="142.84" y="78.85" width="2.37" height="2.37" fill="#fafcfd"/><rect x="145.11" y="78.85" width="2.37" height="2.37" fill="#f4f7fa"/><rect x="147.38" y="78.85" width="2.37" height="2.37" fill="#fdf0ed"/><rect x="149.64" y="78.85" width="2.37" height="2.37" fill="#7294a9"/><rect x="151.91" y="78.85" width="2.37" height="2.37" fill="#f9d3ca"/><rect x="154.18" y="78.85" width="2.37" height="2.37" fill="#99b4c5"/><rect x="156.45" y="78.85" width="2.37" height="2.37" fill="#f9d3c9"/><rect x="158.72" y="78.85" width="2.37" height="2.37" fill="#f0a192"/><rect x="160.99" y="78.85" width="2.37" height="2.37" fill="#eb8b7b"/><rect x="163.26" y="78.85" width="2.37" height="2.37" fill="#fdefec"/><rect x="165.53" y="78.85" width="2.37" height="2.37" fill="#cddce6"/><rect x="167.80" y="78.85" width="2.37" height="2.37" fill="#f6beb3"/><rect x="170.07" y="78.85" width="2.37" height="2.37" fill="#f1a89a"/><rect x="172.33" y="78.85" width="2.37" height="2.37" fill="#9bb6c6"/><rect x="174.60" y="78.85" width="2.37" height="2.37" fill="#e0eaf0"/><rect x="176.87" y="78.85" width="2.37" height="2.37" fill="#fbded7"/><rect x="179.14" y="78.85" width="2.37" height="2.37" fill="#fbfcfd"/><rect x="181.41" y="78.85" width="2.37" height="2.37" fill="#fefeff"/><rect x="183.68" y="78.85" width="2.37" height="2.37" fill="#fdebe6"/><rect x="185.95" y="78.85" width="2.37" height="2.37" fill="#1b4a68"/><rect x="138.30" y="81.12" width="2.37" height="2.37" fill="#ccdce6"/><rect x="140.57" y="81.12" width="2.37" height="2.37" fill="#ee9788"/><rect x="142.84" y="81.12" width="2.37" height="2.37" fill="#fad7ce"/><rect x="145.11" y="81.12" width="2.37" height="2.37" fill="#a1bbcb"/><rect x="147.38" y="81.12" width="2.37" height="2.37" fill="#b5cad7"/><rect x="149.64" y="81.12" width="2.37" height="2.37" fill="#fce5df"/><rect x="151.91" y="81.12" width="2.37" height="2.37" fill="#f09f90"/><rect x="154.18" y="81.12" width="2.37" height="2.37" fill="#a4bdcc"/><rect x="156.45" y="81.12" width="2.37" height="2.37" fill="#fad9d1"/><rect x="158.72" y="81.12" width="2.37" height="2.37" fill="#c0d2de"/><rect x="160.99" y="81.12" width="2.37" height="2.37" fill="#fad7ce"/><rect x="163.26" y="81.12" width="2.37" height="2.37" fill="#edf3f6"/><rect x="165.53" y="81.12" width="2.37" height="2.37" fill="#fce7e2"/><rect x="167.80" y="81.12" width="2.37" height="2.37" fill="#8facbe"/><rect x="170.07" y="81.12" width="2.37" height="2.37" fill="#fef4f2"/><rect x="172.33" y="81.12" width="2.37" height="2.37" fill="#fce5df"/><rect x="174.60" y="81.12" width="2.37" height="2.37" fill="#f5f8fa"/><rect x="176.87" y="81.12" width="2.37" height="2.37" fill="#fdf1ee"/><rect x="179.14" y="81.12" width="2.37" height="2.37" fill="#a6bfce"/><rect x="181.41" y="81.12" width="2.37" height="2.37" fill="#ea8778"/><rect x="183.68" y="81.12" width="2.37" height="2.37" fill="#fbdfd8"/><rect x="185.95" y="81.12" width="2.37" height="2.37" fill="#99b4c5"/><rect x="188.22" y="81.12" width="2.37" height="2.37" fill="#1b4a68"/><rect x="138.30" y="83.39" width="2.37" height="2.37" fill="#d6e3eb"/><rect x="140.57" y="83.39" width="2.37" height="2.37" fill="#f6beb3"/><rect x="142.84" y="83.39" width="2.37" height="2.37" fill="#fdf0ec"/><rect x="145.11" y="83.39" width="2.37" height="2.37" fill="#fffdfd"/><rect x="147.38" y="83.39" width="2.37" height="2.37" fill="#f1a799"/><rect x="149.64" y="83.39" width="2.37" height="2.37" fill="#ccdce6"/><rect x="151.91" y="83.39" width="2.37" height="2.37" fill="#d2e0e9"/><rect x="154.18" y="83.39" width="2.37" height="2.37" fill="#f7c3b8"/><rect x="156.45" y="83.39" width="2.37" height="2.37" fill="#f3afa2"/><rect x="158.72" y="83.39" width="2.37" height="2.37" fill="#d7e3eb"/><rect x="160.99" y="83.39" width="2.37" height="2.37" fill="#a2bccb"/><rect x="163.26" y="83.39" width="2.37" height="2.37" fill="#fdeeea"/><rect x="165.53" y="83.39" width="2.37" height="2.37" fill="#87a5b9"/><rect x="167.80" y="83.39" width="2.37" height="2.37" fill="#abc2d1"/><rect x="170.07" y="83.39" width="2.37" height="2.37" fill="#afc5d3"/><rect x="172.33" y="83.39" width="2.37" height="2.37" fill="#d3e1ea"/><rect x="174.60" y="83.39" width="2.37" height="2.37" fill="#f6c0b4"/><rect x="176.87" y="83.39" width="2.37" height="2.37" fill="#fbdbd3"/><rect x="179.14" y="83.39" width="2.37" height="2.37" fill="#a9c1cf"/><rect x="181.41" y="83.39" width="2.37" height="2.37" fill="#ecf2f6"/><rect x="183.68" y="83.39" width="2.37" height="2.37" fill="#fad8cf"/><rect x="185.95" y="83.39" width="2.37" height="2.37" fill="#d9e5ed"/><rect x="188.22" y="83.39" width="2.37" height="2.37" fill="#7d9cb1"/><rect x="190.49" y="83.39" width="2.37" height="2.37" fill="#1b4a68"/><rect x="138.30" y="85.66" width="2.37" height="2.37" fill="#f5bcb0"/><rect x="140.57" y="85.66" width="2.37" height="2.37" fill="#dce7ee"/><rect x="142.84" y="85.66" width="2.37" height="2.37" fill="#7394aa"/><rect x="145.11" y="85.66" width="2.37" height="2.37" fill="#f8ccc2"/><rect x="147.38" y="85.66" width="2.37" height="2.37" fill="#f2a99b"/><rect x="149.64" y="85.66" width="2.37" height="2.37" fill="#cadae4"/><rect x="151.91" y="85.66" width="2.37" height="2.37" fill="#f7c7bd"/><rect x="154.18" y="85.66" width="2.37" height="2.37" fill="#a8c0cf"/><rect x="156.45" y="85.66" width="2.37" height="2.37" fill="#b6cbd8"/><rect x="158.72" y="85.66" width="2.37" height="2.37" fill="#c9d9e4"/><rect x="160.99" y="85.66" width="2.37" height="2.37" fill="#eb8a7b"/><rect x="163.26" y="85.66" width="2.37" height="2.37" fill="#f4b7ab"/><rect x="165.53" y="85.66" width="2.37" height="2.37" fill="#f2ac9e"/><rect x="167.80" y="85.66" width="2.37" height="2.37" fill="#e98273"/><rect x="170.07" y="85.66" width="2.37" height="2.37" fill="#fffcfb"/><rect x="172.33" y="85.66" width="2.37" height="2.37" fill="#fbddd6"/><rect x="174.60" y="85.66" width="2.37" height="2.37" fill="#fbdbd4"/><rect x="176.87" y="85.66" width="2.37" height="2.37" fill="#f4b5a9"/><rect x="179.14" y="85.66" width="2.37" height="2.37" fill="#fceae6"/><rect x="181.41" y="85.66" width="2.37" height="2.37" fill="#f3afa2"/><rect x="183.68" y="85.66" width="2.37" height="2.37" fill="#c8d9e3"/><rect x="185.95" y="85.66" width="2.37" height="2.37" fill="#f1a697"/><rect x="188.22" y="85.66" width="2.37" height="2.37" fill="#fdefec"/><rect x="190.49" y="85.66" width="2.37" height="2.37" fill="#f2aa9c"/><rect x="192.76" y="85.66" width="2.37" height="2.37" fill="#1b4a68"/><rect x="138.30" y="87.92" width="2.37" height="2.37" fill="#b7cbd8"/><rect x="140.57" y="87.92" width="2.37" height="2.37" fill="#f8c9bf"/><rect x="142.84" y="87.92" width="2.37" height="2.37" fill="#ea8777"/><rect x="145.11" y="87.92" width="2.37" height="2.37" fill="#f6beb3"/><rect x="147.38" y="87.92" width="2.37" height="2.37" fill="#95b1c2"/><rect x="149.64" y="87.92" width="2.37" height="2.37" fill="#fce8e3"/><rect x="151.91" y="87.92" width="2.37" height="2.37" fill="#f8fafb"/><rect x="154.18" y="87.92" width="2.37" height="2.37" fill="#e0eaf0"/><rect x="156.45" y="87.92" width="2.37" height="2.37" fill="#eaf1f5"/><rect x="158.72" y="87.92" width="2.37" height="2.37" fill="#fdebe7"/><rect x="160.99" y="87.92" width="2.37" height="2.37" fill="#fdf2ef"/><rect x="163.26" y="87.92" width="2.37" height="2.37" fill="#f3b2a5"/><rect x="165.53" y="87.92" width="2.37" height="2.37" fill="#fdece8"/><rect x="167.80" y="87.92" width="2.37" height="2.37" fill="#fad5cc"/><rect x="170.07" y="87.92" width="2.37" height="2.37" fill="#f6beb3"/><rect x="172.33" y="87.92" width="2.37" height="2.37" fill="#dfe9ef"/><rect x="174.60" y="87.92" width="2.37" height="2.37" fill="#8daabc"/><rect x="176.87" y="87.92" width="2.37" height="2.37" fill="#f0a293"/><rect x="179.14" y="87.92" width="2.37" height="2.37" fill="#9bb6c7"/><rect x="181.41" y="87.92" width="2.37" height="2.37" fill="#f0a192"/><rect x="183.68" y="87.92" width="2.37" height="2.37" fill="#ffffff"/><rect x="185.95" y="87.92" width="2.37" height="2.37" fill="#eb897a"/><rect x="188.22" y="87.92" width="2.37" height="2.37" fill="#ecf2f6"/><rect x="190.49" y="87.92" width="2.37" height="2.37" fill="#fef5f3"/><rect x="192.76" y="87.92" width="2.37" height="2.37" fill="#f2aa9c"/><rect x="195.02" y="87.92" width="2.37" height="2.37" fill="#1b4a68"/><rect x="138.30" y="90.19" width="2.37" height="2.37" fill="#fef4f2"/><rect x="140.57" y="90.19" width="2.37" height="2.37" fill="#9ab5c6"/><rect x="142.84" y="90.19" width="2.37" height="2.37" fill="#ee9686"/><rect x="145.11" y="90.19" width="2.37" height="2.37" fill="#9cb7c7"/><rect x="147.38" y="90.19" width="2.37" height="2.37" fill="#84a3b6"/><rect x="149.64" y="90.19" width="2.37" height="2.37" fill="#90adbf"/><rect x="151.91" y="90.19" width="2.37" height="2.37" fill="#f4b6aa"/><rect x="154.18" y="90.19" width="2.37" height="2.37" fill="#a4bdcc"/><rect x="156.45" y="90.19" width="2.37" height="2.37" fill="#ee9788"/><rect x="158.72" y="90.19" width="2.37" height="2.37" fill="#ebf1f5"/><rect x="160.99" y="90.19" width="2.37" height="2.37" fill="#fef5f3"/><rect x="163.26" y="90.19" width="2.37" height="2.37" fill="#fdfdfe"/><rect x="165.53" y="90.19" width="2.37" height="2.37" fill="#fef5f3"/><rect x="167.80" y="90.19" width="2.37" height="2.37" fill="#cddce6"/><rect x="170.07" y="90.19" width="2.37" height="2.37" fill="#8ba8bb"/><rect x="172.33" y="90.19" width="2.37" height="2.37" fill="#f0a091"/><rect x="174.60" y="90.19" width="2.37" height="2.37" fill="#f8c9bf"/><rect x="176.87" y="90.19" width="2.37" height="2.37" fill="#90acbe"/><rect x="179.14" y="90.19" width="2.37" height="2.37" fill="#fbdbd4"/><rect x="181.41" y="90.19" width="2.37" height="2.37" fill="#fbfdfd"/><rect x="183.68" y="90.19" width="2.37" height="2.37" fill="#b6cbd8"/><rect x="185.95" y="90.19" width="2.37" height="2.37" fill="#f6c2b7"/><rect x="188.22" y="90.19" width="2.37" height="2.37" fill="#7c9cb1"/><rect x="190.49" y="90.19" width="2.37" height="2.37" fill="#e98374"/><rect x="192.76" y="90.19" width="2.37" height="2.37" fill="#cfdee7"/><rect x="195.02" y="90.19" width="2.37" height="2.37" fill="#fefefe"/><rect x="197.29" y="90.19" width="2.37" height="2.37" fill="#1b4a68"/><rect x="138.30" y="92.46" width="2.37" height="2.37" fill="#b8ccd9"/><rect x="140.57" y="92.46" width="2.37" height="2.37" fill="#ef9b8c"/><rect x="142.84" y="92.46" width="2.37" height="2.37" fill="#fad6cc"/><rect x="145.11" y="92.46" width="2.37" height="2.37" fill="#9eb9c9"/><rect x="147.38" y="92.46" width="2.37" height="2.37" fill="#fadad2"/><rect x="149.64" y="92.46" width="2.37" height="2.37" fill="#f8cac0"/><rect x="151.91" y="92.46" width="2.37" height="2.37" fill="#e7eff3"/><rect x="154.18" y="92.46" width="2.37" height="2.37" fill="#dae6ed"/><rect x="156.45" y="92.46" width="2.37" height="2.37" fill="#eaf0f5"/><rect x="158.72" y="92.46" width="2.37" height="2.37" fill="#7394aa"/><rect x="160.99" y="92.46" width="2.37" height="2.37" fill="#9ab5c6"/><rect x="163.26" y="92.46" width="2.37" height="2.37" fill="#fce5e0"/><rect x="165.53" y="92.46" width="2.37" height="2.37" fill="#f7c6bb"/><rect x="167.80" y="92.46" width="2.37" height="2.37" fill="#9bb6c7"/><rect x="170.07" y="92.46" width="2.37" height="2.37" fill="#f3b2a5"/><rect x="172.33" y="92.46" width="2.37" height="2.37" fill="#c5d6e1"/><rect x="174.60" y="92.46" width="2.37" height="2.37" fill="#fce7e2"/><rect x="176.87" y="92.46" width="2.37" height="2.37" fill="#fdf1ee"/><rect x="179.14" y="92.46" width="2.37" height="2.37" fill="#bbcedb"/><rect x="181.41" y="92.46" width="2.37" height="2.37" fill="#9ab5c6"/><rect x="183.68" y="92.46" width="2.37" height="2.37" fill="#baceda"/><rect x="185.95" y="92.46" width="2.37" height="2.37" fill="#b8ccd9"/><rect x="188.22" y="92.46" width="2.37" height="2.37" fill="#bdd0dc"/><rect x="190.49" y="92.46" width="2.37" height="2.37" fill="#f0f5f8"/><rect x="192.76" y="92.46" width="2.37" height="2.37" fill="#d3e1e9"/><rect x="195.02" y="92.46" width="2.37" height="2.37" fill="#fafbfc"/><rect x="197.29" y="92.46" width="2.37" height="2.37" fill="#fffdfd"/><rect x="199.56" y="92.46" width="2.37" height="2.37" fill="#1b4a68"/><rect x="138.30" y="94.73" width="2.37" height="2.37" fill="#809fb3"/><rect x="140.57" y="94.73" width="2.37" height="2.37" fill="#dee9ef"/><rect x="142.84" y="94.73" width="2.37" height="2.37" fill="#9bb6c6"/><rect x="145.11" y="94.73" width="2.37" height="2.37" fill="#ebf1f5"/><rect x="147.38" y="94.73" width="2.37" height="2.37" fill="#fbdbd3"/><rect x="149.64" y="94.73" width="2.37" height="2.37" fill="#fbdad2"/><rect x="151.91" y="94.73" width="2.37" height="2.37" fill="#7c9cb0"/><rect x="154.18" y="94.73" width="2.37" height="2.37" fill="#f7c8be"/><rect x="156.45" y="94.73" width="2.37" height="2.37" fill="#fef7f5"/><rect x="158.72" y="94.73" width="2.37" height="2.37" fill="#c1d3de"/><rect x="160.99" y="94.73" width="2.37" height="2.37" fill="#d4e2ea"/><rect x="163.26" y="94.73" width="2.37" height="2.37" fill="#fbdfd7"/><rect x="165.53" y="94.73" width="2.37" height="2.37" fill="#7b9bb0"/><rect x="167.80" y="94.73" width="2.37" height="2.37" fill="#d0dfe8"/><rect x="170.07" y="94.73" width="2.37" height="2.37" fill="#fef8f7"/><rect x="172.33" y="94.73" width="2.37" height="2.37" fill="#f0f5f8"/><rect x="174.60" y="94.73" width="2.37" height="2.37" fill="#fffefe"/><rect x="176.87" y="94.73" width="2.37" height="2.37" fill="#f4b8ab"/><rect x="179.14" y="94.73" width="2.37" height="2.37" fill="#ea8677"/><rect x="181.41" y="94.73" width="2.37" height="2.37" fill="#ef9a8b"/><rect x="183.68" y="94.73" width="2.37" height="2.37" fill="#fffefe"/><rect x="185.95" y="94.73" width="2.37" height="2.37" fill="#edf3f6"/><rect x="188.22" y="94.73" width="2.37" height="2.37" fill="#f2f6f9"/><rect x="190.49" y="94.73" width="2.37" height="2.37" fill="#f2aa9c"/><rect x="192.76" y="94.73" width="2.37" height="2.37" fill="#8daabc"/><rect x="195.02" y="94.73" width="2.37" height="2.37" fill="#fbfcfd"/><rect x="197.29" y="94.73" width="2.37" height="2.37" fill="#aac1d0"/><rect x="199.56" y="94.73" width="2.37" height="2.37" fill="#ec8d7e"/><rect x="201.83" y="94.73" width="2.37" height="2.37" fill="#1b4a68"/></g>
<g filter="url(#mblur)"><rect x="12.50" y="111.60" width="2.36" height="2.36" fill="#1b4a68"/><rect x="12.50" y="113.86" width="2.36" height="2.36" fill="#f4f7f9"/><rect x="14.76" y="113.86" width="2.36" height="2.36" fill="#1b4a68"/><rect x="12.50" y="116.12" width="2.36" height="2.36" fill="#fce5df"/><rect x="14.76" y="116.12" width="2.36" height="2.36" fill="#98b3c4"/><rect x="17.02" y="116.12" width="2.36" height="2.36" fill="#1b4a68"/><rect x="12.50" y="118.38" width="2.36" height="2.36" fill="#d0dee8"/><rect x="14.76" y="118.38" width="2.36" height="2.36" fill="#bfd1dd"/><rect x="17.02" y="118.38" width="2.36" height="2.36" fill="#cfdee7"/><rect x="19.28" y="118.38" width="2.36" height="2.36" fill="#1b4a68"/><rect x="12.50" y="120.63" width="2.36" height="2.36" fill="#f6c2b7"/><rect x="14.76" y="120.63" width="2.36" height="2.36" fill="#7a9aaf"/><rect x="17.02" y="120.63" width="2.36" height="2.36" fill="#9db8c8"/><rect x="19.28" y="120.63" width="2.36" height="2.36" fill="#8facbe"/><rect x="21.53" y="120.63" width="2.36" height="2.36" fill="#1b4a68"/><rect x="12.50" y="122.89" width="2.36" height="2.36" fill="#7b9bb0"/><rect x="14.76" y="122.89" width="2.36" height="2.36" fill="#6e90a6"/><rect x="17.02" y="122.89" width="2.36" height="2.36" fill="#c5d6e1"/><rect x="19.28" y="122.89" width="2.36" height="2.36" fill="#2d5573"/><rect x="21.53" y="122.89" width="2.36" height="2.36" fill="#a5becd"/><rect x="23.79" y="122.89" width="2.36" height="2.36" fill="#1b4a68"/><rect x="12.50" y="125.15" width="2.36" height="2.36" fill="#bbcfdb"/><rect x="14.76" y="125.15" width="2.36" height="2.36" fill="#bfd2dd"/><rect x="17.02" y="125.15" width="2.36" height="2.36" fill="#7f9fb3"/><rect x="19.28" y="125.15" width="2.36" height="2.36" fill="#cbdbe5"/><rect x="21.53" y="125.15" width="2.36" height="2.36" fill="#6a8da4"/><rect x="23.79" y="125.15" width="2.36" height="2.36" fill="#cfdee7"/><rect x="26.05" y="125.15" width="2.36" height="2.36" fill="#1b4a68"/><rect x="12.50" y="127.41" width="2.36" height="2.36" fill="#88a6b9"/><rect x="14.76" y="127.41" width="2.36" height="2.36" fill="#eff4f7"/><rect x="17.02" y="127.41" width="2.36" height="2.36" fill="#6e90a7"/><rect x="19.28" y="127.41" width="2.36" height="2.36" fill="#f8cec4"/><rect x="21.53" y="127.41" width="2.36" height="2.36" fill="#537791"/><rect x="23.79" y="127.41" width="2.36" height="2.36" fill="#7797ad"/><rect x="26.05" y="127.41" width="2.36" height="2.36" fill="#ea8878"/><rect x="28.31" y="127.41" width="2.36" height="2.36" fill="#1b4a68"/><rect x="12.50" y="129.67" width="2.36" height="2.36" fill="#d5e2eb"/><rect x="14.76" y="129.67" width="2.36" height="2.36" fill="#7697ac"/><rect x="17.02" y="129.67" width="2.36" height="2.36" fill="#c5d6e1"/><rect x="19.28" y="129.67" width="2.36" height="2.36" fill="#5c8098"/><rect x="21.53" y="129.67" width="2.36" height="2.36" fill="#dfe9ef"/><rect x="23.79" y="129.67" width="2.36" height="2.36" fill="#cadae4"/><rect x="26.05" y="129.67" width="2.36" height="2.36" fill="#aac2d0"/><rect x="28.31" y="129.67" width="2.36" height="2.36" fill="#2d5573"/><rect x="30.57" y="129.67" width="2.36" height="2.36" fill="#1b4a68"/><rect x="12.50" y="131.93" width="2.36" height="2.36" fill="#90adbf"/><rect x="14.76" y="131.93" width="2.36" height="2.36" fill="#7495ab"/><rect x="17.02" y="131.93" width="2.36" height="2.36" fill="#abc2d1"/><rect x="19.28" y="131.93" width="2.36" height="2.36" fill="#476d88"/><rect x="21.53" y="131.93" width="2.36" height="2.36" fill="#c8d8e3"/><rect x="23.79" y="131.93" width="2.36" height="2.36" fill="#50758f"/><rect x="26.05" y="131.93" width="2.36" height="2.36" fill="#f9fbfc"/><rect x="28.31" y="131.93" width="2.36" height="2.36" fill="#6689a0"/><rect x="30.57" y="131.93" width="2.36" height="2.36" fill="#8daabc"/><rect x="32.83" y="131.93" width="2.36" height="2.36" fill="#1b4a68"/><rect x="12.50" y="134.19" width="2.36" height="2.36" fill="#98b3c4"/><rect x="14.76" y="134.19" width="2.36" height="2.36" fill="#9bb6c7"/><rect x="17.02" y="134.19" width="2.36" height="2.36" fill="#799aaf"/><rect x="19.28" y="134.19" width="2.36" height="2.36" fill="#8ca9bc"/><rect x="21.53" y="134.19" width="2.36" height="2.36" fill="#e56f60"/><rect x="23.79" y="134.19" width="2.36" height="2.36" fill="#a7bfce"/><rect x="26.05" y="134.19" width="2.36" height="2.36" fill="#6a8da4"/><rect x="28.31" y="134.19" width="2.36" height="2.36" fill="#63869e"/><rect x="30.57" y="134.19" width="2.36" height="2.36" fill="#86a4b7"/><rect x="32.83" y="134.19" width="2.36" height="2.36" fill="#fce4dd"/><rect x="35.09" y="134.19" width="2.36" height="2.36" fill="#1b4a68"/><rect x="12.50" y="136.44" width="2.36" height="2.36" fill="#dbe6ed"/><rect x="14.76" y="136.44" width="2.36" height="2.36" fill="#64879f"/><rect x="17.02" y="136.44" width="2.36" height="2.36" fill="#b0c6d4"/><rect x="19.28" y="136.44" width="2.36" height="2.36" fill="#2f5775"/><rect x="21.53" y="136.44" width="2.36" height="2.36" fill="#dfe9ef"/><rect x="23.79" y="136.44" width="2.36" height="2.36" fill="#cfdee7"/><rect x="26.05" y="136.44" width="2.36" height="2.36" fill="#fad5cc"/><rect x="28.31" y="136.44" width="2.36" height="2.36" fill="#a1bbcb"/><rect x="30.57" y="136.44" width="2.36" height="2.36" fill="#e5edf2"/><rect x="32.83" y="136.44" width="2.36" height="2.36" fill="#bed1dd"/><rect x="35.09" y="136.44" width="2.36" height="2.36" fill="#fef7f5"/><rect x="37.34" y="136.44" width="2.36" height="2.36" fill="#1b4a68"/><rect x="12.50" y="138.70" width="2.36" height="2.36" fill="#84a2b6"/><rect x="14.76" y="138.70" width="2.36" height="2.36" fill="#95b1c2"/><rect x="17.02" y="138.70" width="2.36" height="2.36" fill="#b9cdda"/><rect x="19.28" y="138.70" width="2.36" height="2.36" fill="#62869d"/><rect x="21.53" y="138.70" width="2.36" height="2.36" fill="#8ca9bc"/><rect x="23.79" y="138.70" width="2.36" height="2.36" fill="#7c9cb0"/><rect x="26.05" y="138.70" width="2.36" height="2.36" fill="#ccdbe5"/><rect x="28.31" y="138.70" width="2.36" height="2.36" fill="#cddce6"/><rect x="30.57" y="138.70" width="2.36" height="2.36" fill="#f9cfc5"/><rect x="32.83" y="138.70" width="2.36" height="2.36" fill="#a8c0cf"/><rect x="35.09" y="138.70" width="2.36" height="2.36" fill="#f5f8fa"/><rect x="37.34" y="138.70" width="2.36" height="2.36" fill="#ec8e7f"/><rect x="39.60" y="138.70" width="2.36" height="2.36" fill="#1b4a68"/><rect x="12.50" y="140.96" width="2.36" height="2.36" fill="#7092a8"/><rect x="14.76" y="140.96" width="2.36" height="2.36" fill="#bbcedb"/><rect x="17.02" y="140.96" width="2.36" height="2.36" fill="#a8c0cf"/><rect x="19.28" y="140.96" width="2.36" height="2.36" fill="#edf2f6"/><rect x="21.53" y="140.96" width="2.36" height="2.36" fill="#8ca9bc"/><rect x="23.79" y="140.96" width="2.36" height="2.36" fill="#abc2d1"/><rect x="26.05" y="140.96" width="2.36" height="2.36" fill="#91aebf"/><rect x="28.31" y="140.96" width="2.36" height="2.36" fill="#d3e0e9"/><rect x="30.57" y="140.96" width="2.36" height="2.36" fill="#d2e0e9"/><rect x="32.83" y="140.96" width="2.36" height="2.36" fill="#d8e4ec"/><rect x="35.09" y="140.96" width="2.36" height="2.36" fill="#ee9989"/><rect x="37.34" y="140.96" width="2.36" height="2.36" fill="#e3ecf1"/><rect x="39.60" y="140.96" width="2.36" height="2.36" fill="#e77a6a"/><rect x="41.86" y="140.96" width="2.36" height="2.36" fill="#1b4a68"/><rect x="12.50" y="143.22" width="2.36" height="2.36" fill="#fffefe"/><rect x="14.76" y="143.22" width="2.36" height="2.36" fill="#7e9eb2"/><rect x="17.02" y="143.22" width="2.36" height="2.36" fill="#94b0c1"/><rect x="19.28" y="143.22" width="2.36" height="2.36" fill="#b1c7d5"/><rect x="21.53" y="143.22" width="2.36" height="2.36" fill="#81a0b4"/><rect x="23.79" y="143.22" width="2.36" height="2.36" fill="#7f9fb3"/><rect x="26.05" y="143.22" width="2.36" height="2.36" fill="#5d819a"/><rect x="28.31" y="143.22" width="2.36" height="2.36" fill="#b4c9d6"/><rect x="30.57" y="143.22" width="2.36" height="2.36" fill="#f1f5f8"/><rect x="32.83" y="143.22" width="2.36" height="2.36" fill="#c6d7e1"/><rect x="35.09" y="143.22" width="2.36" height="2.36" fill="#c5d6e1"/><rect x="37.34" y="143.22" width="2.36" height="2.36" fill="#8ca9bc"/><rect x="39.60" y="143.22" width="2.36" height="2.36" fill="#9db8c8"/><rect x="41.86" y="143.22" width="2.36" height="2.36" fill="#fffcfb"/><rect x="44.12" y="143.22" width="2.36" height="2.36" fill="#1b4a68"/><rect x="12.50" y="145.48" width="2.36" height="2.36" fill="#7b9bb0"/><rect x="14.76" y="145.48" width="2.36" height="2.36" fill="#acc3d2"/><rect x="17.02" y="145.48" width="2.36" height="2.36" fill="#bbcedb"/><rect x="19.28" y="145.48" width="2.36" height="2.36" fill="#a8c0cf"/><rect x="21.53" y="145.48" width="2.36" height="2.36" fill="#b8ccd9"/><rect x="23.79" y="145.48" width="2.36" height="2.36" fill="#e0e9f0"/><rect x="26.05" y="145.48" width="2.36" height="2.36" fill="#b8ccd9"/><rect x="28.31" y="145.48" width="2.36" height="2.36" fill="#d7e3eb"/><rect x="30.57" y="145.48" width="2.36" height="2.36" fill="#bed1dd"/><rect x="32.83" y="145.48" width="2.36" height="2.36" fill="#a0baca"/><rect x="35.09" y="145.48" width="2.36" height="2.36" fill="#f2f6f9"/><rect x="37.34" y="145.48" width="2.36" height="2.36" fill="#c6d7e2"/><rect x="39.60" y="145.48" width="2.36" height="2.36" fill="#ffffff"/><rect x="41.86" y="145.48" width="2.36" height="2.36" fill="#b3c9d6"/><rect x="44.12" y="145.48" width="2.36" height="2.36" fill="#fffcfc"/><rect x="46.38" y="145.48" width="2.36" height="2.36" fill="#1b4a68"/><rect x="12.50" y="147.74" width="2.36" height="2.36" fill="#abc2d1"/><rect x="14.76" y="147.74" width="2.36" height="2.36" fill="#385f7b"/><rect x="17.02" y="147.74" width="2.36" height="2.36" fill="#d5e2eb"/><rect x="19.28" y="147.74" width="2.36" height="2.36" fill="#bed1dd"/><rect x="21.53" y="147.74" width="2.36" height="2.36" fill="#c2d4df"/><rect x="23.79" y="147.74" width="2.36" height="2.36" fill="#b1c7d4"/><rect x="26.05" y="147.74" width="2.36" height="2.36" fill="#bdd0dc"/><rect x="28.31" y="147.74" width="2.36" height="2.36" fill="#7f9eb3"/><rect x="30.57" y="147.74" width="2.36" height="2.36" fill="#abc2d1"/><rect x="32.83" y="147.74" width="2.36" height="2.36" fill="#91adbf"/><rect x="35.09" y="147.74" width="2.36" height="2.36" fill="#476d88"/><rect x="37.34" y="147.74" width="2.36" height="2.36" fill="#f1f5f8"/><rect x="39.60" y="147.74" width="2.36" height="2.36" fill="#cbdae4"/><rect x="41.86" y="147.74" width="2.36" height="2.36" fill="#fbfcfd"/><rect x="44.12" y="147.74" width="2.36" height="2.36" fill="#c9d9e3"/><rect x="46.38" y="147.74" width="2.36" height="2.36" fill="#d0dfe8"/><rect x="48.64" y="147.74" width="2.36" height="2.36" fill="#1b4a68"/><rect x="12.50" y="150.00" width="2.36" height="2.36" fill="#e87c6d"/><rect x="14.76" y="150.00" width="2.36" height="2.36" fill="#7b9bb0"/><rect x="17.02" y="150.00" width="2.36" height="2.36" fill="#a7bfce"/><rect x="19.28" y="150.00" width="2.36" height="2.36" fill="#cadae4"/><rect x="21.53" y="150.00" width="2.36" height="2.36" fill="#c3d5e0"/><rect x="23.79" y="150.00" width="2.36" height="2.36" fill="#d3e1ea"/><rect x="26.05" y="150.00" width="2.36" height="2.36" fill="#f3b1a4"/><rect x="28.31" y="150.00" width="2.36" height="2.36" fill="#8facbe"/><rect x="30.57" y="150.00" width="2.36" height="2.36" fill="#a8c0cf"/><rect x="32.83" y="150.00" width="2.36" height="2.36" fill="#c7d8e2"/><rect x="35.09" y="150.00" width="2.36" height="2.36" fill="#87a5b8"/><rect x="37.34" y="150.00" width="2.36" height="2.36" fill="#aac2d0"/><rect x="39.60" y="150.00" width="2.36" height="2.36" fill="#97b3c4"/><rect x="41.86" y="150.00" width="2.36" height="2.36" fill="#698ca3"/><rect x="44.12" y="150.00" width="2.36" height="2.36" fill="#acc3d1"/><rect x="46.38" y="150.00" width="2.36" height="2.36" fill="#fce7e1"/><rect x="48.64" y="150.00" width="2.36" height="2.36" fill="#bbcedb"/><rect x="50.90" y="150.00" width="2.36" height="2.36" fill="#1b4a68"/><rect x="12.50" y="152.26" width="2.36" height="2.36" fill="#c8d9e3"/><rect x="14.76" y="152.26" width="2.36" height="2.36" fill="#c1d3de"/><rect x="17.02" y="152.26" width="2.36" height="2.36" fill="#fbded7"/><rect x="19.28" y="152.26" width="2.36" height="2.36" fill="#adc4d2"/><rect x="21.53" y="152.26" width="2.36" height="2.36" fill="#b3c8d6"/><rect x="23.79" y="152.26" width="2.36" height="2.36" fill="#557993"/><rect x="26.05" y="152.26" width="2.36" height="2.36" fill="#9fb9c9"/><rect x="28.31" y="152.26" width="2.36" height="2.36" fill="#a7bfce"/><rect x="30.57" y="152.26" width="2.36" height="2.36" fill="#9bb6c6"/><rect x="32.83" y="152.26" width="2.36" height="2.36" fill="#7e9eb2"/><rect x="35.09" y="152.26" width="2.36" height="2.36" fill="#aac1d0"/><rect x="37.34" y="152.26" width="2.36" height="2.36" fill="#d5e2eb"/><rect x="39.60" y="152.26" width="2.36" height="2.36" fill="#dce7ee"/><rect x="41.86" y="152.26" width="2.36" height="2.36" fill="#587c95"/><rect x="44.12" y="152.26" width="2.36" height="2.36" fill="#83a2b5"/><rect x="46.38" y="152.26" width="2.36" height="2.36" fill="#d7e4ec"/><rect x="48.64" y="152.26" width="2.36" height="2.36" fill="#96b2c3"/><rect x="50.90" y="152.26" width="2.36" height="2.36" fill="#7596ab"/><rect x="53.16" y="152.26" width="2.36" height="2.36" fill="#1b4a68"/><rect x="12.50" y="154.51" width="2.36" height="2.36" fill="#a2bbcb"/><rect x="14.76" y="154.51" width="2.36" height="2.36" fill="#95b1c3"/><rect x="17.02" y="154.51" width="2.36" height="2.36" fill="#c9dae4"/><rect x="19.28" y="154.51" width="2.36" height="2.36" fill="#ffffff"/><rect x="21.53" y="154.51" width="2.36" height="2.36" fill="#9fb9ca"/><rect x="23.79" y="154.51" width="2.36" height="2.36" fill="#b4c9d6"/><rect x="26.05" y="154.51" width="2.36" height="2.36" fill="#9cb7c7"/><rect x="28.31" y="154.51" width="2.36" height="2.36" fill="#cddce6"/><rect x="30.57" y="154.51" width="2.36" height="2.36" fill="#9ab5c6"/><rect x="32.83" y="154.51" width="2.36" height="2.36" fill="#7e9eb2"/><rect x="35.09" y="154.51" width="2.36" height="2.36" fill="#d8e4ec"/><rect x="37.34" y="154.51" width="2.36" height="2.36" fill="#a0baca"/><rect x="39.60" y="154.51" width="2.36" height="2.36" fill="#aac1d0"/><rect x="41.86" y="154.51" width="2.36" height="2.36" fill="#bed0dc"/><rect x="44.12" y="154.51" width="2.36" height="2.36" fill="#2d5573"/><rect x="46.38" y="154.51" width="2.36" height="2.36" fill="#f4f7fa"/><rect x="48.64" y="154.51" width="2.36" height="2.36" fill="#f1a394"/><rect x="50.90" y="154.51" width="2.36" height="2.36" fill="#5e829a"/><rect x="53.16" y="154.51" width="2.36" height="2.36" fill="#a1bbcb"/><rect x="55.41" y="154.51" width="2.36" height="2.36" fill="#1b4a68"/><rect x="12.50" y="156.77" width="2.36" height="2.36" fill="#e6eef3"/><rect x="14.76" y="156.77" width="2.36" height="2.36" fill="#aac1d0"/><rect x="17.02" y="156.77" width="2.36" height="2.36" fill="#e5edf2"/><rect x="19.28" y="156.77" width="2.36" height="2.36" fill="#a0baca"/><rect x="21.53" y="156.77" width="2.36" height="2.36" fill="#d3e1ea"/><rect x="23.79" y="156.77" width="2.36" height="2.36" fill="#355c79"/><rect x="26.05" y="156.77" width="2.36" height="2.36" fill="#5d819a"/><rect x="28.31" y="156.77" width="2.36" height="2.36" fill="#698ca3"/><rect x="30.57" y="156.77" width="2.36" height="2.36" fill="#b7cbd8"/><rect x="32.83" y="156.77" width="2.36" height="2.36" fill="#c6d7e2"/><rect x="35.09" y="156.77" width="2.36" height="2.36" fill="#c9d9e3"/><rect x="37.34" y="156.77" width="2.36" height="2.36" fill="#abc2d1"/><rect x="39.60" y="156.77" width="2.36" height="2.36" fill="#bfd2dd"/><rect x="41.86" y="156.77" width="2.36" height="2.36" fill="#7495ab"/><rect x="44.12" y="156.77" width="2.36" height="2.36" fill="#7d9db2"/><rect x="46.38" y="156.77" width="2.36" height="2.36" fill="#9cb7c7"/><rect x="48.64" y="156.77" width="2.36" height="2.36" fill="#7092a8"/><rect x="50.90" y="156.77" width="2.36" height="2.36" fill="#7c9cb1"/><rect x="53.16" y="156.77" width="2.36" height="2.36" fill="#b2c8d5"/><rect x="55.41" y="156.77" width="2.36" height="2.36" fill="#7596ac"/><rect x="57.67" y="156.77" width="2.36" height="2.36" fill="#1b4a68"/><rect x="12.50" y="159.03" width="2.36" height="2.36" fill="#a6bfce"/><rect x="14.76" y="159.03" width="2.36" height="2.36" fill="#f7c4b9"/><rect x="17.02" y="159.03" width="2.36" height="2.36" fill="#afc5d3"/><rect x="19.28" y="159.03" width="2.36" height="2.36" fill="#e7eff3"/><rect x="21.53" y="159.03" width="2.36" height="2.36" fill="#d4e1ea"/><rect x="23.79" y="159.03" width="2.36" height="2.36" fill="#a7bfce"/><rect x="26.05" y="159.03" width="2.36" height="2.36" fill="#fffdfd"/><rect x="28.31" y="159.03" width="2.36" height="2.36" fill="#d3e1ea"/><rect x="30.57" y="159.03" width="2.36" height="2.36" fill="#7e9db2"/><rect x="32.83" y="159.03" width="2.36" height="2.36" fill="#cddce6"/><rect x="35.09" y="159.03" width="2.36" height="2.36" fill="#bed1dc"/><rect x="37.34" y="159.03" width="2.36" height="2.36" fill="#fce9e5"/><rect x="39.60" y="159.03" width="2.36" height="2.36" fill="#90adbf"/><rect x="41.86" y="159.03" width="2.36" height="2.36" fill="#d2e0e9"/><rect x="44.12" y="159.03" width="2.36" height="2.36" fill="#dfe9ef"/><rect x="46.38" y="159.03" width="2.36" height="2.36" fill="#577b95"/><rect x="48.64" y="159.03" width="2.36" height="2.36" fill="#a6bfce"/><rect x="50.90" y="159.03" width="2.36" height="2.36" fill="#4c718c"/><rect x="53.16" y="159.03" width="2.36" height="2.36" fill="#8ca9bc"/><rect x="55.41" y="159.03" width="2.36" height="2.36" fill="#305876"/><rect x="57.67" y="159.03" width="2.36" height="2.36" fill="#fbfcfd"/><rect x="59.93" y="159.03" width="2.36" height="2.36" fill="#1b4a68"/><rect x="12.50" y="161.29" width="2.36" height="2.36" fill="#acc3d2"/><rect x="14.76" y="161.29" width="2.36" height="2.36" fill="#e7eef3"/><rect x="17.02" y="161.29" width="2.36" height="2.36" fill="#9ab5c6"/><rect x="19.28" y="161.29" width="2.36" height="2.36" fill="#d9e5ec"/><rect x="21.53" y="161.29" width="2.36" height="2.36" fill="#7596ac"/><rect x="23.79" y="161.29" width="2.36" height="2.36" fill="#547992"/><rect x="26.05" y="161.29" width="2.36" height="2.36" fill="#bfd2dd"/><rect x="28.31" y="161.29" width="2.36" height="2.36" fill="#7899ae"/><rect x="30.57" y="161.29" width="2.36" height="2.36" fill="#99b4c5"/><rect x="32.83" y="161.29" width="2.36" height="2.36" fill="#ccdce6"/><rect x="35.09" y="161.29" width="2.36" height="2.36" fill="#7797ad"/><rect x="37.34" y="161.29" width="2.36" height="2.36" fill="#a1bbca"/><rect x="39.60" y="161.29" width="2.36" height="2.36" fill="#c4d6e1"/><rect x="41.86" y="161.29" width="2.36" height="2.36" fill="#fffbfb"/><rect x="44.12" y="161.29" width="2.36" height="2.36" fill="#e3ecf1"/><rect x="46.38" y="161.29" width="2.36" height="2.36" fill="#eaf0f5"/><rect x="48.64" y="161.29" width="2.36" height="2.36" fill="#305876"/><rect x="50.90" y="161.29" width="2.36" height="2.36" fill="#b0c6d4"/><rect x="53.16" y="161.29" width="2.36" height="2.36" fill="#f2ac9e"/><rect x="55.41" y="161.29" width="2.36" height="2.36" fill="#a6bfce"/><rect x="57.67" y="161.29" width="2.36" height="2.36" fill="#b3c9d6"/><rect x="59.93" y="161.29" width="2.36" height="2.36" fill="#678aa2"/><rect x="62.19" y="161.29" width="2.36" height="2.36" fill="#1b4a68"/><rect x="12.50" y="163.55" width="2.36" height="2.36" fill="#567b94"/><rect x="14.76" y="163.55" width="2.36" height="2.36" fill="#a2bbcb"/><rect x="17.02" y="163.55" width="2.36" height="2.36" fill="#81a0b4"/><rect x="19.28" y="163.55" width="2.36" height="2.36" fill="#8eabbd"/><rect x="21.53" y="163.55" width="2.36" height="2.36" fill="#92aec0"/><rect x="23.79" y="163.55" width="2.36" height="2.36" fill="#a6bfce"/><rect x="26.05" y="163.55" width="2.36" height="2.36" fill="#688ba2"/><rect x="28.31" y="163.55" width="2.36" height="2.36" fill="#90adbf"/><rect x="30.57" y="163.55" width="2.36" height="2.36" fill="#7092a8"/><rect x="32.83" y="163.55" width="2.36" height="2.36" fill="#aec5d3"/><rect x="35.09" y="163.55" width="2.36" height="2.36" fill="#86a4b7"/><rect x="37.34" y="163.55" width="2.36" height="2.36" fill="#dce7ee"/><rect x="39.60" y="163.55" width="2.36" height="2.36" fill="#6c8ea5"/><rect x="41.86" y="163.55" width="2.36" height="2.36" fill="#fce9e4"/><rect x="44.12" y="163.55" width="2.36" height="2.36" fill="#f7fafb"/><rect x="46.38" y="163.55" width="2.36" height="2.36" fill="#ebf1f5"/><rect x="48.64" y="163.55" width="2.36" height="2.36" fill="#fef6f4"/><rect x="50.90" y="163.55" width="2.36" height="2.36" fill="#a4bdcc"/><rect x="53.16" y="163.55" width="2.36" height="2.36" fill="#9bb6c6"/><rect x="55.41" y="163.55" width="2.36" height="2.36" fill="#e2ebf1"/><rect x="57.67" y="163.55" width="2.36" height="2.36" fill="#c7d8e2"/><rect x="59.93" y="163.55" width="2.36" height="2.36" fill="#e8eff4"/><rect x="62.19" y="163.55" width="2.36" height="2.36" fill="#eef3f7"/><rect x="64.45" y="163.55" width="2.36" height="2.36" fill="#1b4a68"/><rect x="12.50" y="165.81" width="2.36" height="2.36" fill="#f5bdb1"/><rect x="14.76" y="165.81" width="2.36" height="2.36" fill="#a7bfce"/><rect x="17.02" y="165.81" width="2.36" height="2.36" fill="#a8c0cf"/><rect x="19.28" y="165.81" width="2.36" height="2.36" fill="#a6bece"/><rect x="21.53" y="165.81" width="2.36" height="2.36" fill="#6588a0"/><rect x="23.79" y="165.81" width="2.36" height="2.36" fill="#81a0b4"/><rect x="26.05" y="165.81" width="2.36" height="2.36" fill="#82a1b5"/><rect x="28.31" y="165.81" width="2.36" height="2.36" fill="#9db7c8"/><rect x="30.57" y="165.81" width="2.36" height="2.36" fill="#e9f0f4"/><rect x="32.83" y="165.81" width="2.36" height="2.36" fill="#a9c1cf"/><rect x="35.09" y="165.81" width="2.36" height="2.36" fill="#d8e4ec"/><rect x="37.34" y="165.81" width="2.36" height="2.36" fill="#edf3f6"/><rect x="39.60" y="165.81" width="2.36" height="2.36" fill="#c7d8e2"/><rect x="41.86" y="165.81" width="2.36" height="2.36" fill="#dee8ef"/><rect x="44.12" y="165.81" width="2.36" height="2.36" fill="#b0c6d4"/><rect x="46.38" y="165.81" width="2.36" height="2.36" fill="#ed9182"/><rect x="48.64" y="165.81" width="2.36" height="2.36" fill="#99b4c5"/><rect x="50.90" y="165.81" width="2.36" height="2.36" fill="#97b2c3"/><rect x="53.16" y="165.81" width="2.36" height="2.36" fill="#c2d4df"/><rect x="55.41" y="165.81" width="2.36" height="2.36" fill="#dfe9ef"/><rect x="57.67" y="165.81" width="2.36" height="2.36" fill="#82a1b5"/><rect x="59.93" y="165.81" width="2.36" height="2.36" fill="#9db8c8"/><rect x="62.19" y="165.81" width="2.36" height="2.36" fill="#b5cad7"/><rect x="64.45" y="165.81" width="2.36" height="2.36" fill="#dde7ee"/><rect x="66.71" y="165.81" width="2.36" height="2.36" fill="#1b4a68"/><rect x="12.50" y="168.07" width="2.36" height="2.36" fill="#9cb7c7"/><rect x="14.76" y="168.07" width="2.36" height="2.36" fill="#fdf2ef"/><rect x="17.02" y="168.07" width="2.36" height="2.36" fill="#cadae4"/><rect x="19.28" y="168.07" width="2.36" height="2.36" fill="#f1f5f8"/><rect x="21.53" y="168.07" width="2.36" height="2.36" fill="#6f91a7"/><rect x="23.79" y="168.07" width="2.36" height="2.36" fill="#e1eaf0"/><rect x="26.05" y="168.07" width="2.36" height="2.36" fill="#9bb6c6"/><rect x="28.31" y="168.07" width="2.36" height="2.36" fill="#678ba2"/><rect x="30.57" y="168.07" width="2.36" height="2.36" fill="#dce7ee"/><rect x="32.83" y="168.07" width="2.36" height="2.36" fill="#d3e0e9"/><rect x="35.09" y="168.07" width="2.36" height="2.36" fill="#7e9eb2"/><rect x="37.34" y="168.07" width="2.36" height="2.36" fill="#c0d2de"/><rect x="39.60" y="168.07" width="2.36" height="2.36" fill="#d4e1ea"/><rect x="41.86" y="168.07" width="2.36" height="2.36" fill="#99b4c5"/><rect x="44.12" y="168.07" width="2.36" height="2.36" fill="#e6eef3"/><rect x="46.38" y="168.07" width="2.36" height="2.36" fill="#81a0b4"/><rect x="48.64" y="168.07" width="2.36" height="2.36" fill="#cbdbe5"/><rect x="50.90" y="168.07" width="2.36" height="2.36" fill="#bfd2dd"/><rect x="53.16" y="168.07" width="2.36" height="2.36" fill="#7e9db2"/><rect x="55.41" y="168.07" width="2.36" height="2.36" fill="#a2bccb"/><rect x="57.67" y="168.07" width="2.36" height="2.36" fill="#f0a091"/><rect x="59.93" y="168.07" width="2.36" height="2.36" fill="#cedde7"/><rect x="62.19" y="168.07" width="2.36" height="2.36" fill="#a4bdcc"/><rect x="64.45" y="168.07" width="2.36" height="2.36" fill="#94b0c1"/><rect x="66.71" y="168.07" width="2.36" height="2.36" fill="#d0dee8"/><rect x="68.97" y="168.07" width="2.36" height="2.36" fill="#1b4a68"/><rect x="12.50" y="170.32" width="2.36" height="2.36" fill="#d1dfe8"/><rect x="14.76" y="170.32" width="2.36" height="2.36" fill="#c3d5e0"/><rect x="17.02" y="170.32" width="2.36" height="2.36" fill="#d1dfe9"/><rect x="19.28" y="170.32" width="2.36" height="2.36" fill="#cbdbe5"/><rect x="21.53" y="170.32" width="2.36" height="2.36" fill="#a1bbcb"/><rect x="23.79" y="170.32" width="2.36" height="2.36" fill="#b2c8d5"/><rect x="26.05" y="170.32" width="2.36" height="2.36" fill="#dfe9ef"/><rect x="28.31" y="170.32" width="2.36" height="2.36" fill="#a3bccc"/><rect x="30.57" y="170.32" width="2.36" height="2.36" fill="#fef5f2"/><rect x="32.83" y="170.32" width="2.36" height="2.36" fill="#acc3d1"/><rect x="35.09" y="170.32" width="2.36" height="2.36" fill="#ecf2f6"/><rect x="37.34" y="170.32" width="2.36" height="2.36" fill="#d5e2ea"/><rect x="39.60" y="170.32" width="2.36" height="2.36" fill="#d4e1ea"/><rect x="41.86" y="170.32" width="2.36" height="2.36" fill="#b1c7d4"/><rect x="44.12" y="170.32" width="2.36" height="2.36" fill="#7596ac"/><rect x="46.38" y="170.32" width="2.36" height="2.36" fill="#97b2c3"/><rect x="48.64" y="170.32" width="2.36" height="2.36" fill="#d8e4ec"/><rect x="50.90" y="170.32" width="2.36" height="2.36" fill="#c4d5e0"/><rect x="53.16" y="170.32" width="2.36" height="2.36" fill="#84a3b6"/><rect x="55.41" y="170.32" width="2.36" height="2.36" fill="#7b9bb0"/><rect x="57.67" y="170.32" width="2.36" height="2.36" fill="#97b3c4"/><rect x="59.93" y="170.32" width="2.36" height="2.36" fill="#d2e0e9"/><rect x="62.19" y="170.32" width="2.36" height="2.36" fill="#bbcfdb"/><rect x="64.45" y="170.32" width="2.36" height="2.36" fill="#a2bbcb"/><rect x="66.71" y="170.32" width="2.36" height="2.36" fill="#7f9fb3"/><rect x="68.97" y="170.32" width="2.36" height="2.36" fill="#baceda"/><rect x="71.22" y="170.32" width="2.36" height="2.36" fill="#1b4a68"/><rect x="12.50" y="172.58" width="2.36" height="2.36" fill="#365e7a"/><rect x="14.76" y="172.58" width="2.36" height="2.36" fill="#a8c0cf"/><rect x="17.02" y="172.58" width="2.36" height="2.36" fill="#b6cbd8"/><rect x="19.28" y="172.58" width="2.36" height="2.36" fill="#89a7ba"/><rect x="21.53" y="172.58" width="2.36" height="2.36" fill="#d3e1ea"/><rect x="23.79" y="172.58" width="2.36" height="2.36" fill="#abc2d1"/><rect x="26.05" y="172.58" width="2.36" height="2.36" fill="#fefbfa"/><rect x="28.31" y="172.58" width="2.36" height="2.36" fill="#b4c9d7"/><rect x="30.57" y="172.58" width="2.36" height="2.36" fill="#c0d3de"/><rect x="32.83" y="172.58" width="2.36" height="2.36" fill="#a7bfce"/><rect x="35.09" y="172.58" width="2.36" height="2.36" fill="#fad8d0"/><rect x="37.34" y="172.58" width="2.36" height="2.36" fill="#9cb6c7"/><rect x="39.60" y="172.58" width="2.36" height="2.36" fill="#a0baca"/><rect x="41.86" y="172.58" width="2.36" height="2.36" fill="#b4c9d6"/><rect x="44.12" y="172.58" width="2.36" height="2.36" fill="#d3e1e9"/><rect x="46.38" y="172.58" width="2.36" height="2.36" fill="#fcfdfd"/><rect x="48.64" y="172.58" width="2.36" height="2.36" fill="#a8c0cf"/><rect x="50.90" y="172.58" width="2.36" height="2.36" fill="#dee8ef"/><rect x="53.16" y="172.58" width="2.36" height="2.36" fill="#fffcfb"/><rect x="55.41" y="172.58" width="2.36" height="2.36" fill="#abc2d1"/><rect x="57.67" y="172.58" width="2.36" height="2.36" fill="#fffcfc"/><rect x="59.93" y="172.58" width="2.36" height="2.36" fill="#c4d5e0"/><rect x="62.19" y="172.58" width="2.36" height="2.36" fill="#f9d0c6"/><rect x="64.45" y="172.58" width="2.36" height="2.36" fill="#b3c8d6"/><rect x="66.71" y="172.58" width="2.36" height="2.36" fill="#86a5b8"/><rect x="68.97" y="172.58" width="2.36" height="2.36" fill="#e9f0f4"/><rect x="71.22" y="172.58" width="2.36" height="2.36" fill="#d2e0e9"/><rect x="73.48" y="172.58" width="2.36" height="2.36" fill="#1b4a68"/><rect x="12.50" y="174.84" width="2.36" height="2.36" fill="#bdd0dc"/><rect x="14.76" y="174.84" width="2.36" height="2.36" fill="#84a2b6"/><rect x="17.02" y="174.84" width="2.36" height="2.36" fill="#365d7a"/><rect x="19.28" y="174.84" width="2.36" height="2.36" fill="#dee8ef"/><rect x="21.53" y="174.84" width="2.36" height="2.36" fill="#ccdbe5"/><rect x="23.79" y="174.84" width="2.36" height="2.36" fill="#678aa1"/><rect x="26.05" y="174.84" width="2.36" height="2.36" fill="#ef9b8c"/><rect x="28.31" y="174.84" width="2.36" height="2.36" fill="#2d5573"/><rect x="30.57" y="174.84" width="2.36" height="2.36" fill="#a1bbcb"/><rect x="32.83" y="174.84" width="2.36" height="2.36" fill="#f1f6f8"/><rect x="35.09" y="174.84" width="2.36" height="2.36" fill="#bfd2dd"/><rect x="37.34" y="174.84" width="2.36" height="2.36" fill="#2d5573"/><rect x="39.60" y="174.84" width="2.36" height="2.36" fill="#81a0b4"/><rect x="41.86" y="174.84" width="2.36" height="2.36" fill="#aac2d0"/><rect x="44.12" y="174.84" width="2.36" height="2.36" fill="#bbcfdb"/><rect x="46.38" y="174.84" width="2.36" height="2.36" fill="#b7cbd8"/><rect x="48.64" y="174.84" width="2.36" height="2.36" fill="#d3e1e9"/><rect x="50.90" y="174.84" width="2.36" height="2.36" fill="#98b3c4"/><rect x="53.16" y="174.84" width="2.36" height="2.36" fill="#87a5b9"/><rect x="55.41" y="174.84" width="2.36" height="2.36" fill="#2d5573"/><rect x="57.67" y="174.84" width="2.36" height="2.36" fill="#d2e0e9"/><rect x="59.93" y="174.84" width="2.36" height="2.36" fill="#bfd1dd"/><rect x="62.19" y="174.84" width="2.36" height="2.36" fill="#97b2c4"/><rect x="64.45" y="174.84" width="2.36" height="2.36" fill="#c3d5e0"/><rect x="66.71" y="174.84" width="2.36" height="2.36" fill="#6b8ea5"/><rect x="68.97" y="174.84" width="2.36" height="2.36" fill="#86a4b7"/><rect x="71.22" y="174.84" width="2.36" height="2.36" fill="#6b8da4"/><rect x="73.48" y="174.84" width="2.36" height="2.36" fill="#b6cbd8"/><rect x="75.74" y="174.84" width="2.36" height="2.36" fill="#1b4a68"/></g>
<g filter="url(#mblur)"><rect x="138.30" y="111.60" width="2.37" height="2.37" fill="#1b4a68"/><rect x="138.30" y="113.87" width="2.37" height="2.37" fill="#6c8fa5"/><rect x="140.57" y="113.87" width="2.37" height="2.37" fill="#1b4a68"/><rect x="138.30" y="116.14" width="2.37" height="2.37" fill="#8ba9bb"/><rect x="140.57" y="116.14" width="2.37" height="2.37" fill="#9ab5c6"/><rect x="142.84" y="116.14" width="2.37" height="2.37" fill="#1b4a68"/><rect x="138.30" y="118.41" width="2.37" height="2.37" fill="#7294aa"/><rect x="140.57" y="118.41" width="2.37" height="2.37" fill="#456b86"/><rect x="142.84" y="118.41" width="2.37" height="2.37" fill="#4c718c"/><rect x="145.11" y="118.41" width="2.37" height="2.37" fill="#1b4a68"/><rect x="138.30" y="120.68" width="2.37" height="2.37" fill="#91adbf"/><rect x="140.57" y="120.68" width="2.37" height="2.37" fill="#fce4de"/><rect x="142.84" y="120.68" width="2.37" height="2.37" fill="#92aec0"/><rect x="145.11" y="120.68" width="2.37" height="2.37" fill="#63869e"/><rect x="147.38" y="120.68" width="2.37" height="2.37" fill="#1b4a68"/><rect x="138.30" y="122.94" width="2.37" height="2.37" fill="#2d5573"/><rect x="140.57" y="122.94" width="2.37" height="2.37" fill="#436985"/><rect x="142.84" y="122.94" width="2.37" height="2.37" fill="#8aa8ba"/><rect x="145.11" y="122.94" width="2.37" height="2.37" fill="#fcfdfe"/><rect x="147.38" y="122.94" width="2.37" height="2.37" fill="#8daabc"/><rect x="149.64" y="122.94" width="2.37" height="2.37" fill="#1b4a68"/><rect x="138.30" y="125.21" width="2.37" height="2.37" fill="#d0dfe8"/><rect x="140.57" y="125.21" width="2.37" height="2.37" fill="#63869e"/><rect x="142.84" y="125.21" width="2.37" height="2.37" fill="#8fabbe"/><rect x="145.11" y="125.21" width="2.37" height="2.37" fill="#90adbf"/><rect x="147.38" y="125.21" width="2.37" height="2.37" fill="#7b9bb0"/><rect x="149.64" y="125.21" width="2.37" height="2.37" fill="#a9c1d0"/><rect x="151.91" y="125.21" width="2.37" height="2.37" fill="#1b4a68"/><rect x="138.30" y="127.48" width="2.37" height="2.37" fill="#a5becd"/><rect x="140.57" y="127.48" width="2.37" height="2.37" fill="#7697ac"/><rect x="142.84" y="127.48" width="2.37" height="2.37" fill="#83a2b5"/><rect x="145.11" y="127.48" width="2.37" height="2.37" fill="#4f748e"/><rect x="147.38" y="127.48" width="2.37" height="2.37" fill="#6d90a6"/><rect x="149.64" y="127.48" width="2.37" height="2.37" fill="#b7cbd8"/><rect x="151.91" y="127.48" width="2.37" height="2.37" fill="#9bb6c7"/><rect x="154.18" y="127.48" width="2.37" height="2.37" fill="#1b4a68"/><rect x="138.30" y="129.75" width="2.37" height="2.37" fill="#5e829b"/><rect x="140.57" y="129.75" width="2.37" height="2.37" fill="#355c79"/><rect x="142.84" y="129.75" width="2.37" height="2.37" fill="#325977"/><rect x="145.11" y="129.75" width="2.37" height="2.37" fill="#c3d5e0"/><rect x="147.38" y="129.75" width="2.37" height="2.37" fill="#6e90a7"/><rect x="149.64" y="129.75" width="2.37" height="2.37" fill="#6e90a6"/><rect x="151.91" y="129.75" width="2.37" height="2.37" fill="#ccdbe5"/><rect x="154.18" y="129.75" width="2.37" height="2.37" fill="#a6bfce"/><rect x="156.45" y="129.75" width="2.37" height="2.37" fill="#1b4a68"/><rect x="138.30" y="132.02" width="2.37" height="2.37" fill="#baceda"/><rect x="140.57" y="132.02" width="2.37" height="2.37" fill="#c0d3de"/><rect x="142.84" y="132.02" width="2.37" height="2.37" fill="#95b1c3"/><rect x="145.11" y="132.02" width="2.37" height="2.37" fill="#edf2f6"/><rect x="147.38" y="132.02" width="2.37" height="2.37" fill="#88a6b9"/><rect x="149.64" y="132.02" width="2.37" height="2.37" fill="#597d96"/><rect x="151.91" y="132.02" width="2.37" height="2.37" fill="#9bb6c7"/><rect x="154.18" y="132.02" width="2.37" height="2.37" fill="#547992"/><rect x="156.45" y="132.02" width="2.37" height="2.37" fill="#9fb9c9"/><rect x="158.72" y="132.02" width="2.37" height="2.37" fill="#1b4a68"/><rect x="138.30" y="134.29" width="2.37" height="2.37" fill="#bed1dc"/><rect x="140.57" y="134.29" width="2.37" height="2.37" fill="#2d5573"/><rect x="142.84" y="134.29" width="2.37" height="2.37" fill="#3a617d"/><rect x="145.11" y="134.29" width="2.37" height="2.37" fill="#a0baca"/><rect x="147.38" y="134.29" width="2.37" height="2.37" fill="#b1c7d5"/><rect x="149.64" y="134.29" width="2.37" height="2.37" fill="#a0baca"/><rect x="151.91" y="134.29" width="2.37" height="2.37" fill="#e1eaf0"/><rect x="154.18" y="134.29" width="2.37" height="2.37" fill="#426884"/><rect x="156.45" y="134.29" width="2.37" height="2.37" fill="#325977"/><rect x="158.72" y="134.29" width="2.37" height="2.37" fill="#375e7b"/><rect x="160.99" y="134.29" width="2.37" height="2.37" fill="#1b4a68"/><rect x="138.30" y="136.56" width="2.37" height="2.37" fill="#5e829a"/><rect x="140.57" y="136.56" width="2.37" height="2.37" fill="#6689a0"/><rect x="142.84" y="136.56" width="2.37" height="2.37" fill="#2d5573"/><rect x="145.11" y="136.56" width="2.37" height="2.37" fill="#90adbf"/><rect x="147.38" y="136.56" width="2.37" height="2.37" fill="#90adbf"/><rect x="149.64" y="136.56" width="2.37" height="2.37" fill="#7c9cb1"/><rect x="151.91" y="136.56" width="2.37" height="2.37" fill="#6e90a6"/><rect x="154.18" y="136.56" width="2.37" height="2.37" fill="#8eabbd"/><rect x="156.45" y="136.56" width="2.37" height="2.37" fill="#4d738d"/><rect x="158.72" y="136.56" width="2.37" height="2.37" fill="#688ba2"/><rect x="160.99" y="136.56" width="2.37" height="2.37" fill="#6e90a7"/><rect x="163.26" y="136.56" width="2.37" height="2.37" fill="#1b4a68"/><rect x="138.30" y="138.83" width="2.37" height="2.37" fill="#97b3c4"/><rect x="140.57" y="138.83" width="2.37" height="2.37" fill="#6a8da4"/><rect x="142.84" y="138.83" width="2.37" height="2.37" fill="#7d9db1"/><rect x="145.11" y="138.83" width="2.37" height="2.37" fill="#bfd2dd"/><rect x="147.38" y="138.83" width="2.37" height="2.37" fill="#adc4d2"/><rect x="149.64" y="138.83" width="2.37" height="2.37" fill="#5c8099"/><rect x="151.91" y="138.83" width="2.37" height="2.37" fill="#7798ad"/><rect x="154.18" y="138.83" width="2.37" height="2.37" fill="#325a77"/><rect x="156.45" y="138.83" width="2.37" height="2.37" fill="#7f9eb3"/><rect x="158.72" y="138.83" width="2.37" height="2.37" fill="#bccfdb"/><rect x="160.99" y="138.83" width="2.37" height="2.37" fill="#a2bbcb"/><rect x="163.26" y="138.83" width="2.37" height="2.37" fill="#7091a8"/><rect x="165.53" y="138.83" width="2.37" height="2.37" fill="#1b4a68"/><rect x="138.30" y="141.10" width="2.37" height="2.37" fill="#2d5573"/><rect x="140.57" y="141.10" width="2.37" height="2.37" fill="#81a0b4"/><rect x="142.84" y="141.10" width="2.37" height="2.37" fill="#6a8da4"/><rect x="145.11" y="141.10" width="2.37" height="2.37" fill="#c9d9e3"/><rect x="147.38" y="141.10" width="2.37" height="2.37" fill="#fcfdfe"/><rect x="149.64" y="141.10" width="2.37" height="2.37" fill="#c5d6e1"/><rect x="151.91" y="141.10" width="2.37" height="2.37" fill="#cfdee7"/><rect x="154.18" y="141.10" width="2.37" height="2.37" fill="#7e9eb2"/><rect x="156.45" y="141.10" width="2.37" height="2.37" fill="#8daabd"/><rect x="158.72" y="141.10" width="2.37" height="2.37" fill="#698ca3"/><rect x="160.99" y="141.10" width="2.37" height="2.37" fill="#d8e4ec"/><rect x="163.26" y="141.10" width="2.37" height="2.37" fill="#2d5573"/><rect x="165.53" y="141.10" width="2.37" height="2.37" fill="#2e5573"/><rect x="167.80" y="141.10" width="2.37" height="2.37" fill="#1b4a68"/><rect x="138.30" y="143.37" width="2.37" height="2.37" fill="#9eb9c9"/><rect x="140.57" y="143.37" width="2.37" height="2.37" fill="#6b8ea5"/><rect x="142.84" y="143.37" width="2.37" height="2.37" fill="#8daabd"/><rect x="145.11" y="143.37" width="2.37" height="2.37" fill="#2d5573"/><rect x="147.38" y="143.37" width="2.37" height="2.37" fill="#3e6581"/><rect x="149.64" y="143.37" width="2.37" height="2.37" fill="#c7d8e2"/><rect x="151.91" y="143.37" width="2.37" height="2.37" fill="#cfdee7"/><rect x="154.18" y="143.37" width="2.37" height="2.37" fill="#9bb6c7"/><rect x="156.45" y="143.37" width="2.37" height="2.37" fill="#8facbe"/><rect x="158.72" y="143.37" width="2.37" height="2.37" fill="#6a8da4"/><rect x="160.99" y="143.37" width="2.37" height="2.37" fill="#84a3b6"/><rect x="163.26" y="143.37" width="2.37" height="2.37" fill="#abc3d1"/><rect x="165.53" y="143.37" width="2.37" height="2.37" fill="#6c8fa5"/><rect x="167.80" y="143.37" width="2.37" height="2.37" fill="#fbddd5"/><rect x="170.07" y="143.37" width="2.37" height="2.37" fill="#1b4a68"/><rect x="138.30" y="145.63" width="2.37" height="2.37" fill="#7798ad"/><rect x="140.57" y="145.63" width="2.37" height="2.37" fill="#567a94"/><rect x="142.84" y="145.63" width="2.37" height="2.37" fill="#7596ac"/><rect x="145.11" y="145.63" width="2.37" height="2.37" fill="#ccdbe5"/><rect x="147.38" y="145.63" width="2.37" height="2.37" fill="#dde8ef"/><rect x="149.64" y="145.63" width="2.37" height="2.37" fill="#b7ccd8"/><rect x="151.91" y="145.63" width="2.37" height="2.37" fill="#f7c5ba"/><rect x="154.18" y="145.63" width="2.37" height="2.37" fill="#2d5573"/><rect x="156.45" y="145.63" width="2.37" height="2.37" fill="#ccdbe5"/><rect x="158.72" y="145.63" width="2.37" height="2.37" fill="#fad7ce"/><rect x="160.99" y="145.63" width="2.37" height="2.37" fill="#355c79"/><rect x="163.26" y="145.63" width="2.37" height="2.37" fill="#4f748e"/><rect x="165.53" y="145.63" width="2.37" height="2.37" fill="#aec5d3"/><rect x="167.80" y="145.63" width="2.37" height="2.37" fill="#2d5573"/><rect x="170.07" y="145.63" width="2.37" height="2.37" fill="#ccdce5"/><rect x="172.33" y="145.63" width="2.37" height="2.37" fill="#1b4a68"/><rect x="138.30" y="147.90" width="2.37" height="2.37" fill="#7293a9"/><rect x="140.57" y="147.90" width="2.37" height="2.37" fill="#a9c1d0"/><rect x="142.84" y="147.90" width="2.37" height="2.37" fill="#a8c0cf"/><rect x="145.11" y="147.90" width="2.37" height="2.37" fill="#8facbe"/><rect x="147.38" y="147.90" width="2.37" height="2.37" fill="#4f758e"/><rect x="149.64" y="147.90" width="2.37" height="2.37" fill="#6a8da4"/><rect x="151.91" y="147.90" width="2.37" height="2.37" fill="#f2aa9c"/><rect x="154.18" y="147.90" width="2.37" height="2.37" fill="#c3d5e0"/><rect x="156.45" y="147.90" width="2.37" height="2.37" fill="#8eabbd"/><rect x="158.72" y="147.90" width="2.37" height="2.37" fill="#b9cdda"/><rect x="160.99" y="147.90" width="2.37" height="2.37" fill="#c8d8e3"/><rect x="163.26" y="147.90" width="2.37" height="2.37" fill="#567a94"/><rect x="165.53" y="147.90" width="2.37" height="2.37" fill="#86a4b7"/><rect x="167.80" y="147.90" width="2.37" height="2.37" fill="#fce8e2"/><rect x="170.07" y="147.90" width="2.37" height="2.37" fill="#f2ac9e"/><rect x="172.33" y="147.90" width="2.37" height="2.37" fill="#527791"/><rect x="174.60" y="147.90" width="2.37" height="2.37" fill="#1b4a68"/><rect x="138.30" y="150.17" width="2.37" height="2.37" fill="#92afc0"/><rect x="140.57" y="150.17" width="2.37" height="2.37" fill="#2e5573"/><rect x="142.84" y="150.17" width="2.37" height="2.37" fill="#7192a8"/><rect x="145.11" y="150.17" width="2.37" height="2.37" fill="#e4edf2"/><rect x="147.38" y="150.17" width="2.37" height="2.37" fill="#7092a8"/><rect x="149.64" y="150.17" width="2.37" height="2.37" fill="#567b94"/><rect x="151.91" y="150.17" width="2.37" height="2.37" fill="#2d5573"/><rect x="154.18" y="150.17" width="2.37" height="2.37" fill="#81a0b4"/><rect x="156.45" y="150.17" width="2.37" height="2.37" fill="#7495ab"/><rect x="158.72" y="150.17" width="2.37" height="2.37" fill="#91aec0"/><rect x="160.99" y="150.17" width="2.37" height="2.37" fill="#c6d7e1"/><rect x="163.26" y="150.17" width="2.37" height="2.37" fill="#81a0b4"/><rect x="165.53" y="150.17" width="2.37" height="2.37" fill="#8ba8bb"/><rect x="167.80" y="150.17" width="2.37" height="2.37" fill="#baceda"/><rect x="170.07" y="150.17" width="2.37" height="2.37" fill="#e98273"/><rect x="172.33" y="150.17" width="2.37" height="2.37" fill="#39607d"/><rect x="174.60" y="150.17" width="2.37" height="2.37" fill="#9fbaca"/><rect x="176.87" y="150.17" width="2.37" height="2.37" fill="#1b4a68"/><rect x="138.30" y="152.44" width="2.37" height="2.37" fill="#b2c8d5"/><rect x="140.57" y="152.44" width="2.37" height="2.37" fill="#9ab5c6"/><rect x="142.84" y="152.44" width="2.37" height="2.37" fill="#2d5573"/><rect x="145.11" y="152.44" width="2.37" height="2.37" fill="#587c95"/><rect x="147.38" y="152.44" width="2.37" height="2.37" fill="#7192a8"/><rect x="149.64" y="152.44" width="2.37" height="2.37" fill="#799aaf"/><rect x="151.91" y="152.44" width="2.37" height="2.37" fill="#bbceda"/><rect x="154.18" y="152.44" width="2.37" height="2.37" fill="#81a0b4"/><rect x="156.45" y="152.44" width="2.37" height="2.37" fill="#95b1c2"/><rect x="158.72" y="152.44" width="2.37" height="2.37" fill="#7596ac"/><rect x="160.99" y="152.44" width="2.37" height="2.37" fill="#7e9eb2"/><rect x="163.26" y="152.44" width="2.37" height="2.37" fill="#fad8d0"/><rect x="165.53" y="152.44" width="2.37" height="2.37" fill="#b1c7d5"/><rect x="167.80" y="152.44" width="2.37" height="2.37" fill="#91aec0"/><rect x="170.07" y="152.44" width="2.37" height="2.37" fill="#bdd0dc"/><rect x="172.33" y="152.44" width="2.37" height="2.37" fill="#bbcfdb"/><rect x="174.60" y="152.44" width="2.37" height="2.37" fill="#426883"/><rect x="176.87" y="152.44" width="2.37" height="2.37" fill="#cfdee7"/><rect x="179.14" y="152.44" width="2.37" height="2.37" fill="#1b4a68"/><rect x="138.30" y="154.71" width="2.37" height="2.37" fill="#7394aa"/><rect x="140.57" y="154.71" width="2.37" height="2.37" fill="#abc2d1"/><rect x="142.84" y="154.71" width="2.37" height="2.37" fill="#5e829b"/><rect x="145.11" y="154.71" width="2.37" height="2.37" fill="#2d5573"/><rect x="147.38" y="154.71" width="2.37" height="2.37" fill="#6a8da4"/><rect x="149.64" y="154.71" width="2.37" height="2.37" fill="#92aec0"/><rect x="151.91" y="154.71" width="2.37" height="2.37" fill="#b7cbd8"/><rect x="154.18" y="154.71" width="2.37" height="2.37" fill="#375e7b"/><rect x="156.45" y="154.71" width="2.37" height="2.37" fill="#b6cad7"/><rect x="158.72" y="154.71" width="2.37" height="2.37" fill="#7697ac"/><rect x="160.99" y="154.71" width="2.37" height="2.37" fill="#8facbe"/><rect x="163.26" y="154.71" width="2.37" height="2.37" fill="#315876"/><rect x="165.53" y="154.71" width="2.37" height="2.37" fill="#88a6b9"/><rect x="167.80" y="154.71" width="2.37" height="2.37" fill="#fefefe"/><rect x="170.07" y="154.71" width="2.37" height="2.37" fill="#91aebf"/><rect x="172.33" y="154.71" width="2.37" height="2.37" fill="#cedde6"/><rect x="174.60" y="154.71" width="2.37" height="2.37" fill="#a2bbcb"/><rect x="176.87" y="154.71" width="2.37" height="2.37" fill="#a2bccb"/><rect x="179.14" y="154.71" width="2.37" height="2.37" fill="#99b4c5"/><rect x="181.41" y="154.71" width="2.37" height="2.37" fill="#1b4a68"/><rect x="138.30" y="156.98" width="2.37" height="2.37" fill="#dbe6ed"/><rect x="140.57" y="156.98" width="2.37" height="2.37" fill="#bdd0dc"/><rect x="142.84" y="156.98" width="2.37" height="2.37" fill="#426884"/><rect x="145.11" y="156.98" width="2.37" height="2.37" fill="#5d8199"/><rect x="147.38" y="156.98" width="2.37" height="2.37" fill="#547993"/><rect x="149.64" y="156.98" width="2.37" height="2.37" fill="#d5e2eb"/><rect x="151.91" y="156.98" width="2.37" height="2.37" fill="#8eabbd"/><rect x="154.18" y="156.98" width="2.37" height="2.37" fill="#2d5573"/><rect x="156.45" y="156.98" width="2.37" height="2.37" fill="#c3d4e0"/><rect x="158.72" y="156.98" width="2.37" height="2.37" fill="#7c9cb1"/><rect x="160.99" y="156.98" width="2.37" height="2.37" fill="#a3bccc"/><rect x="163.26" y="156.98" width="2.37" height="2.37" fill="#f4b6a9"/><rect x="165.53" y="156.98" width="2.37" height="2.37" fill="#7a9aaf"/><rect x="167.80" y="156.98" width="2.37" height="2.37" fill="#2d5573"/><rect x="170.07" y="156.98" width="2.37" height="2.37" fill="#ffffff"/><rect x="172.33" y="156.98" width="2.37" height="2.37" fill="#92aec0"/><rect x="174.60" y="156.98" width="2.37" height="2.37" fill="#8daabd"/><rect x="176.87" y="156.98" width="2.37" height="2.37" fill="#365d7a"/><rect x="179.14" y="156.98" width="2.37" height="2.37" fill="#85a3b7"/><rect x="181.41" y="156.98" width="2.37" height="2.37" fill="#6f91a7"/><rect x="183.68" y="156.98" width="2.37" height="2.37" fill="#1b4a68"/><rect x="138.30" y="159.25" width="2.37" height="2.37" fill="#9fb9c9"/><rect x="140.57" y="159.25" width="2.37" height="2.37" fill="#a4bdcd"/><rect x="142.84" y="159.25" width="2.37" height="2.37" fill="#ec9080"/><rect x="145.11" y="159.25" width="2.37" height="2.37" fill="#7596ab"/><rect x="147.38" y="159.25" width="2.37" height="2.37" fill="#2d5573"/><rect x="149.64" y="159.25" width="2.37" height="2.37" fill="#86a4b8"/><rect x="151.91" y="159.25" width="2.37" height="2.37" fill="#517690"/><rect x="154.18" y="159.25" width="2.37" height="2.37" fill="#93afc1"/><rect x="156.45" y="159.25" width="2.37" height="2.37" fill="#83a2b6"/><rect x="158.72" y="159.25" width="2.37" height="2.37" fill="#7092a8"/><rect x="160.99" y="159.25" width="2.37" height="2.37" fill="#93afc1"/><rect x="163.26" y="159.25" width="2.37" height="2.37" fill="#7697ac"/><rect x="165.53" y="159.25" width="2.37" height="2.37" fill="#f6f9fa"/><rect x="167.80" y="159.25" width="2.37" height="2.37" fill="#3c637f"/><rect x="170.07" y="159.25" width="2.37" height="2.37" fill="#85a3b7"/><rect x="172.33" y="159.25" width="2.37" height="2.37" fill="#b2c8d5"/><rect x="174.60" y="159.25" width="2.37" height="2.37" fill="#a2bccb"/><rect x="176.87" y="159.25" width="2.37" height="2.37" fill="#dee8ef"/><rect x="179.14" y="159.25" width="2.37" height="2.37" fill="#aec4d2"/><rect x="181.41" y="159.25" width="2.37" height="2.37" fill="#84a3b6"/><rect x="183.68" y="159.25" width="2.37" height="2.37" fill="#cfdee7"/><rect x="185.95" y="159.25" width="2.37" height="2.37" fill="#1b4a68"/><rect x="138.30" y="161.52" width="2.37" height="2.37" fill="#2d5573"/><rect x="140.57" y="161.52" width="2.37" height="2.37" fill="#9bb6c6"/><rect x="142.84" y="161.52" width="2.37" height="2.37" fill="#597d96"/><rect x="145.11" y="161.52" width="2.37" height="2.37" fill="#a1bbcb"/><rect x="147.38" y="161.52" width="2.37" height="2.37" fill="#6f91a7"/><rect x="149.64" y="161.52" width="2.37" height="2.37" fill="#375e7b"/><rect x="151.91" y="161.52" width="2.37" height="2.37" fill="#9cb7c7"/><rect x="154.18" y="161.52" width="2.37" height="2.37" fill="#aec5d3"/><rect x="156.45" y="161.52" width="2.37" height="2.37" fill="#5f839b"/><rect x="158.72" y="161.52" width="2.37" height="2.37" fill="#b5cad7"/><rect x="160.99" y="161.52" width="2.37" height="2.37" fill="#e8eff4"/><rect x="163.26" y="161.52" width="2.37" height="2.37" fill="#a2bbcb"/><rect x="165.53" y="161.52" width="2.37" height="2.37" fill="#8aa8ba"/><rect x="167.80" y="161.52" width="2.37" height="2.37" fill="#e87c6c"/><rect x="170.07" y="161.52" width="2.37" height="2.37" fill="#83a2b6"/><rect x="172.33" y="161.52" width="2.37" height="2.37" fill="#6b8da4"/><rect x="174.60" y="161.52" width="2.37" height="2.37" fill="#b1c7d5"/><rect x="176.87" y="161.52" width="2.37" height="2.37" fill="#a2bccb"/><rect x="179.14" y="161.52" width="2.37" height="2.37" fill="#f3f7f9"/><rect x="181.41" y="161.52" width="2.37" height="2.37" fill="#f9d1c7"/><rect x="183.68" y="161.52" width="2.37" height="2.37" fill="#2d5573"/><rect x="185.95" y="161.52" width="2.37" height="2.37" fill="#c6d7e2"/><rect x="188.22" y="161.52" width="2.37" height="2.37" fill="#1b4a68"/><rect x="138.30" y="163.79" width="2.37" height="2.37" fill="#96b2c3"/><rect x="140.57" y="163.79" width="2.37" height="2.37" fill="#8facbe"/><rect x="142.84" y="163.79" width="2.37" height="2.37" fill="#8daabc"/><rect x="145.11" y="163.79" width="2.37" height="2.37" fill="#9bb6c7"/><rect x="147.38" y="163.79" width="2.37" height="2.37" fill="#7193a9"/><rect x="149.64" y="163.79" width="2.37" height="2.37" fill="#64879f"/><rect x="151.91" y="163.79" width="2.37" height="2.37" fill="#96b1c3"/><rect x="154.18" y="163.79" width="2.37" height="2.37" fill="#80a0b4"/><rect x="156.45" y="163.79" width="2.37" height="2.37" fill="#3c637f"/><rect x="158.72" y="163.79" width="2.37" height="2.37" fill="#2d5573"/><rect x="160.99" y="163.79" width="2.37" height="2.37" fill="#89a7b9"/><rect x="163.26" y="163.79" width="2.37" height="2.37" fill="#f2f6f9"/><rect x="165.53" y="163.79" width="2.37" height="2.37" fill="#6d8fa6"/><rect x="167.80" y="163.79" width="2.37" height="2.37" fill="#9ab5c6"/><rect x="170.07" y="163.79" width="2.37" height="2.37" fill="#aec5d3"/><rect x="172.33" y="163.79" width="2.37" height="2.37" fill="#466c87"/><rect x="174.60" y="163.79" width="2.37" height="2.37" fill="#82a1b5"/><rect x="176.87" y="163.79" width="2.37" height="2.37" fill="#d9e5ed"/><rect x="179.14" y="163.79" width="2.37" height="2.37" fill="#8ca9bc"/><rect x="181.41" y="163.79" width="2.37" height="2.37" fill="#2d5573"/><rect x="183.68" y="163.79" width="2.37" height="2.37" fill="#6a8da4"/><rect x="185.95" y="163.79" width="2.37" height="2.37" fill="#7a9aaf"/><rect x="188.22" y="163.79" width="2.37" height="2.37" fill="#486e89"/><rect x="190.49" y="163.79" width="2.37" height="2.37" fill="#1b4a68"/><rect x="138.30" y="166.06" width="2.37" height="2.37" fill="#bdd0dc"/><rect x="140.57" y="166.06" width="2.37" height="2.37" fill="#7c9cb0"/><rect x="142.84" y="166.06" width="2.37" height="2.37" fill="#fcfdfd"/><rect x="145.11" y="166.06" width="2.37" height="2.37" fill="#f1a798"/><rect x="147.38" y="166.06" width="2.37" height="2.37" fill="#fdeeeb"/><rect x="149.64" y="166.06" width="2.37" height="2.37" fill="#587c95"/><rect x="151.91" y="166.06" width="2.37" height="2.37" fill="#60849c"/><rect x="154.18" y="166.06" width="2.37" height="2.37" fill="#d5e2eb"/><rect x="156.45" y="166.06" width="2.37" height="2.37" fill="#cddce6"/><rect x="158.72" y="166.06" width="2.37" height="2.37" fill="#d7e3eb"/><rect x="160.99" y="166.06" width="2.37" height="2.37" fill="#a1bbcb"/><rect x="163.26" y="166.06" width="2.37" height="2.37" fill="#527791"/><rect x="165.53" y="166.06" width="2.37" height="2.37" fill="#7697ac"/><rect x="167.80" y="166.06" width="2.37" height="2.37" fill="#ed9485"/><rect x="170.07" y="166.06" width="2.37" height="2.37" fill="#325977"/><rect x="172.33" y="166.06" width="2.37" height="2.37" fill="#81a0b4"/><rect x="174.60" y="166.06" width="2.37" height="2.37" fill="#3f6581"/><rect x="176.87" y="166.06" width="2.37" height="2.37" fill="#3b617e"/><rect x="179.14" y="166.06" width="2.37" height="2.37" fill="#4a708a"/><rect x="181.41" y="166.06" width="2.37" height="2.37" fill="#b1c7d5"/><rect x="183.68" y="166.06" width="2.37" height="2.37" fill="#60849c"/><rect x="185.95" y="166.06" width="2.37" height="2.37" fill="#ccdce6"/><rect x="188.22" y="166.06" width="2.37" height="2.37" fill="#62859d"/><rect x="190.49" y="166.06" width="2.37" height="2.37" fill="#678aa2"/><rect x="192.76" y="166.06" width="2.37" height="2.37" fill="#1b4a68"/><rect x="138.30" y="168.32" width="2.37" height="2.37" fill="#7999ae"/><rect x="140.57" y="168.32" width="2.37" height="2.37" fill="#3b627e"/><rect x="142.84" y="168.32" width="2.37" height="2.37" fill="#d5e2eb"/><rect x="145.11" y="168.32" width="2.37" height="2.37" fill="#e6eef3"/><rect x="147.38" y="168.32" width="2.37" height="2.37" fill="#2d5573"/><rect x="149.64" y="168.32" width="2.37" height="2.37" fill="#7394aa"/><rect x="151.91" y="168.32" width="2.37" height="2.37" fill="#a2bccb"/><rect x="154.18" y="168.32" width="2.37" height="2.37" fill="#476d88"/><rect x="156.45" y="168.32" width="2.37" height="2.37" fill="#dce7ee"/><rect x="158.72" y="168.32" width="2.37" height="2.37" fill="#385f7c"/><rect x="160.99" y="168.32" width="2.37" height="2.37" fill="#b9cdda"/><rect x="163.26" y="168.32" width="2.37" height="2.37" fill="#2d5573"/><rect x="165.53" y="168.32" width="2.37" height="2.37" fill="#85a4b7"/><rect x="167.80" y="168.32" width="2.37" height="2.37" fill="#a1bbcb"/><rect x="170.07" y="168.32" width="2.37" height="2.37" fill="#426884"/><rect x="172.33" y="168.32" width="2.37" height="2.37" fill="#7d9db1"/><rect x="174.60" y="168.32" width="2.37" height="2.37" fill="#dae6ed"/><rect x="176.87" y="168.32" width="2.37" height="2.37" fill="#84a2b6"/><rect x="179.14" y="168.32" width="2.37" height="2.37" fill="#a3bccc"/><rect x="181.41" y="168.32" width="2.37" height="2.37" fill="#2d5573"/><rect x="183.68" y="168.32" width="2.37" height="2.37" fill="#547892"/><rect x="185.95" y="168.32" width="2.37" height="2.37" fill="#b9cdd9"/><rect x="188.22" y="168.32" width="2.37" height="2.37" fill="#6689a1"/><rect x="190.49" y="168.32" width="2.37" height="2.37" fill="#fad5cc"/><rect x="192.76" y="168.32" width="2.37" height="2.37" fill="#b5cad7"/><rect x="195.02" y="168.32" width="2.37" height="2.37" fill="#1b4a68"/><rect x="138.30" y="170.59" width="2.37" height="2.37" fill="#adc4d2"/><rect x="140.57" y="170.59" width="2.37" height="2.37" fill="#d5e2ea"/><rect x="142.84" y="170.59" width="2.37" height="2.37" fill="#8ba9bb"/><rect x="145.11" y="170.59" width="2.37" height="2.37" fill="#ebf2f5"/><rect x="147.38" y="170.59" width="2.37" height="2.37" fill="#9fb9c9"/><rect x="149.64" y="170.59" width="2.37" height="2.37" fill="#668aa1"/><rect x="151.91" y="170.59" width="2.37" height="2.37" fill="#5a7e97"/><rect x="154.18" y="170.59" width="2.37" height="2.37" fill="#5e829a"/><rect x="156.45" y="170.59" width="2.37" height="2.37" fill="#436a85"/><rect x="158.72" y="170.59" width="2.37" height="2.37" fill="#c7d8e2"/><rect x="160.99" y="170.59" width="2.37" height="2.37" fill="#426883"/><rect x="163.26" y="170.59" width="2.37" height="2.37" fill="#2d5573"/><rect x="165.53" y="170.59" width="2.37" height="2.37" fill="#2d5573"/><rect x="167.80" y="170.59" width="2.37" height="2.37" fill="#426884"/><rect x="170.07" y="170.59" width="2.37" height="2.37" fill="#7899ae"/><rect x="172.33" y="170.59" width="2.37" height="2.37" fill="#4b718b"/><rect x="174.60" y="170.59" width="2.37" height="2.37" fill="#d9e5ec"/><rect x="176.87" y="170.59" width="2.37" height="2.37" fill="#afc5d3"/><rect x="179.14" y="170.59" width="2.37" height="2.37" fill="#2d5573"/><rect x="181.41" y="170.59" width="2.37" height="2.37" fill="#88a6b9"/><rect x="183.68" y="170.59" width="2.37" height="2.37" fill="#f2a89a"/><rect x="185.95" y="170.59" width="2.37" height="2.37" fill="#2d5573"/><rect x="188.22" y="170.59" width="2.37" height="2.37" fill="#a0baca"/><rect x="190.49" y="170.59" width="2.37" height="2.37" fill="#b5cad7"/><rect x="192.76" y="170.59" width="2.37" height="2.37" fill="#5c8098"/><rect x="195.02" y="170.59" width="2.37" height="2.37" fill="#acc3d2"/><rect x="197.29" y="170.59" width="2.37" height="2.37" fill="#1b4a68"/><rect x="138.30" y="172.86" width="2.37" height="2.37" fill="#325a77"/><rect x="140.57" y="172.86" width="2.37" height="2.37" fill="#d6e3eb"/><rect x="142.84" y="172.86" width="2.37" height="2.37" fill="#9cb7c7"/><rect x="145.11" y="172.86" width="2.37" height="2.37" fill="#89a7ba"/><rect x="147.38" y="172.86" width="2.37" height="2.37" fill="#688ba2"/><rect x="149.64" y="172.86" width="2.37" height="2.37" fill="#91adbf"/><rect x="151.91" y="172.86" width="2.37" height="2.37" fill="#6d8fa5"/><rect x="154.18" y="172.86" width="2.37" height="2.37" fill="#7395aa"/><rect x="156.45" y="172.86" width="2.37" height="2.37" fill="#7e9db2"/><rect x="158.72" y="172.86" width="2.37" height="2.37" fill="#7293a9"/><rect x="160.99" y="172.86" width="2.37" height="2.37" fill="#88a6b9"/><rect x="163.26" y="172.86" width="2.37" height="2.37" fill="#2d5573"/><rect x="165.53" y="172.86" width="2.37" height="2.37" fill="#2d5573"/><rect x="167.80" y="172.86" width="2.37" height="2.37" fill="#a6bece"/><rect x="170.07" y="172.86" width="2.37" height="2.37" fill="#afc5d3"/><rect x="172.33" y="172.86" width="2.37" height="2.37" fill="#e57161"/><rect x="174.60" y="172.86" width="2.37" height="2.37" fill="#82a1b4"/><rect x="176.87" y="172.86" width="2.37" height="2.37" fill="#b7cbd8"/><rect x="179.14" y="172.86" width="2.37" height="2.37" fill="#3f6682"/><rect x="181.41" y="172.86" width="2.37" height="2.37" fill="#6d90a6"/><rect x="183.68" y="172.86" width="2.37" height="2.37" fill="#5d8199"/><rect x="185.95" y="172.86" width="2.37" height="2.37" fill="#ebf1f5"/><rect x="188.22" y="172.86" width="2.37" height="2.37" fill="#84a2b6"/><rect x="190.49" y="172.86" width="2.37" height="2.37" fill="#acc3d2"/><rect x="192.76" y="172.86" width="2.37" height="2.37" fill="#557a93"/><rect x="195.02" y="172.86" width="2.37" height="2.37" fill="#b3c8d6"/><rect x="197.29" y="172.86" width="2.37" height="2.37" fill="#3b627e"/><rect x="199.56" y="172.86" width="2.37" height="2.37" fill="#1b4a68"/><rect x="138.30" y="175.13" width="2.37" height="2.37" fill="#d1dfe8"/><rect x="140.57" y="175.13" width="2.37" height="2.37" fill="#7495aa"/><rect x="142.84" y="175.13" width="2.37" height="2.37" fill="#7f9eb3"/><rect x="145.11" y="175.13" width="2.37" height="2.37" fill="#426884"/><rect x="147.38" y="175.13" width="2.37" height="2.37" fill="#aec4d3"/><rect x="149.64" y="175.13" width="2.37" height="2.37" fill="#94b0c1"/><rect x="151.91" y="175.13" width="2.37" height="2.37" fill="#557993"/><rect x="154.18" y="175.13" width="2.37" height="2.37" fill="#4c728c"/><rect x="156.45" y="175.13" width="2.37" height="2.37" fill="#61859d"/><rect x="158.72" y="175.13" width="2.37" height="2.37" fill="#94b0c2"/><rect x="160.99" y="175.13" width="2.37" height="2.37" fill="#7798ad"/><rect x="163.26" y="175.13" width="2.37" height="2.37" fill="#ecf2f6"/><rect x="165.53" y="175.13" width="2.37" height="2.37" fill="#a9c1cf"/><rect x="167.80" y="175.13" width="2.37" height="2.37" fill="#bccfdb"/><rect x="170.07" y="175.13" width="2.37" height="2.37" fill="#f3f7f9"/><rect x="172.33" y="175.13" width="2.37" height="2.37" fill="#2d5573"/><rect x="174.60" y="175.13" width="2.37" height="2.37" fill="#87a5b8"/><rect x="176.87" y="175.13" width="2.37" height="2.37" fill="#a1bbcb"/><rect x="179.14" y="175.13" width="2.37" height="2.37" fill="#e9f0f4"/><rect x="181.41" y="175.13" width="2.37" height="2.37" fill="#8daabc"/><rect x="183.68" y="175.13" width="2.37" height="2.37" fill="#a0baca"/><rect x="185.95" y="175.13" width="2.37" height="2.37" fill="#bdd0dc"/><rect x="188.22" y="175.13" width="2.37" height="2.37" fill="#7394aa"/><rect x="190.49" y="175.13" width="2.37" height="2.37" fill="#ccdce5"/><rect x="192.76" y="175.13" width="2.37" height="2.37" fill="#517690"/><rect x="195.02" y="175.13" width="2.37" height="2.37" fill="#809fb3"/><rect x="197.29" y="175.13" width="2.37" height="2.37" fill="#7596ac"/><rect x="199.56" y="175.13" width="2.37" height="2.37" fill="#8eabbd"/><rect x="201.83" y="175.13" width="2.37" height="2.37" fill="#1b4a68"/></g>
<line x1="82.2" y1="64.3" x2="118.5" y2="64.3" stroke="#9a9a9a" stroke-width="1.1"/>
<path d="M79.2,64.3 L83.7,62.099999999999994 L83.7,66.5 Z" fill="#111"/>
<path d="M121.5,64.3 L117.0,62.099999999999994 L117.0,66.5 Z" fill="#111"/>
<line x1="82.2" y1="144.4" x2="119.0" y2="144.4" stroke="#9a9a9a" stroke-width="1.1"/>
<path d="M79.2,144.4 L83.7,142.20000000000002 L83.7,146.6 Z" fill="#111"/>
<path d="M122.0,144.4 L117.5,142.20000000000002 L117.5,146.6 Z" fill="#111"/>
<text x="100.30" y="57.60" font-size="7" fill="#222" text-anchor="middle" stroke="#222" stroke-width="0.22" font-style="italic" textLength="32" lengthAdjust="spacingAndGlyphs" >Correlation</text>
<text x="100.80" y="150.60" font-size="7" fill="#222" text-anchor="middle" stroke="#222" stroke-width="0.22" font-style="italic" textLength="32" lengthAdjust="spacingAndGlyphs" >Correlation</text>
<line x1="100.5" y1="70" x2="100.5" y2="136" stroke="#777" stroke-width="0.7" stroke-dasharray="1.2,1.2"/>
<path d="M100.5,65.8 L98.3,70.5 L102.7,70.5 Z" fill="#111"/>
<path d="M100.5,140.2 L98.3,135.5 L102.7,135.5 Z" fill="#111"/>
<rect x="83" y="97" width="35" height="7.5" fill="#fff"/>
<text x="100.30" y="102.80" font-size="7" fill="#222" text-anchor="middle" stroke="#222" stroke-width="0.22" font-style="italic" textLength="33" lengthAdjust="spacingAndGlyphs" >comparison</text>
<text x="6.60" y="66.30" font-size="7.8" fill="#ee3030" text-anchor="middle" stroke="#ee3030" stroke-width="0.22" textLength="13.4" lengthAdjust="spacingAndGlyphs" transform="rotate(-90 6.60 66.30)" >HSC</text>
<text x="6.80" y="147.70" font-size="7.8" fill="#3f4fe8" text-anchor="middle" stroke="#3f4fe8" stroke-width="0.22" textLength="11.4" lengthAdjust="spacingAndGlyphs" transform="rotate(-90 6.80 147.70)" >LSC</text>
<text x="0" y="0" font-size="12.5" font-weight="bold" fill="#000" stroke="#000" stroke-width="0.25" transform="translate(226.15 9.80) scale(0.973 1)">B</text>
<line x1="261.6" y1="17.2" x2="261.6" y2="167.3" stroke="#333" stroke-width="1"/>
<line x1="259.1" y1="42.3" x2="261.6" y2="42.3" stroke="#333" stroke-width="0.9"/>
<text x="257.30" y="46.70" font-size="10" fill="#333" text-anchor="end" stroke="#333" stroke-width="0.1" >0.08</text>
<line x1="259.1" y1="78.7" x2="261.6" y2="78.7" stroke="#333" stroke-width="0.9"/>
<text x="257.30" y="83.10" font-size="10" fill="#333" text-anchor="end" stroke="#333" stroke-width="0.1" >0.04</text>
<line x1="259.1" y1="115.2" x2="261.6" y2="115.2" stroke="#333" stroke-width="0.9"/>
<text x="257.30" y="119.60" font-size="10" fill="#333" text-anchor="end" stroke="#333" stroke-width="0.1" >0.00</text>
<line x1="259.1" y1="151.6" x2="261.6" y2="151.6" stroke="#333" stroke-width="0.9"/>
<text x="257.30" y="156.00" font-size="10" fill="#333" text-anchor="end" stroke="#333" stroke-width="0.1" >-0.04</text>
<line x1="261.6" y1="167.1" x2="339.1" y2="167.1" stroke="#333" stroke-width="1"/>
<line x1="291.5" y1="167.1" x2="291.5" y2="169.6" stroke="#333" stroke-width="0.9"/>
<text x="291.50" y="179.50" font-size="10" fill="#333" text-anchor="middle" stroke="#333" stroke-width="0.1" >HSC</text>
<line x1="316.1" y1="167.1" x2="316.1" y2="169.6" stroke="#333" stroke-width="0.9"/>
<text x="316.10" y="179.50" font-size="10" fill="#333" text-anchor="middle" stroke="#333" stroke-width="0.1" >LSC</text>
<text x="230.40" y="92.80" font-size="9.5" fill="#222" text-anchor="middle" stroke="#222" stroke-width="0.12" textLength="75.5" lengthAdjust="spacingAndGlyphs" transform="rotate(-90 230.40 92.80)" >Pattern Similarity</text>
<text x="259.20" y="191.10" font-size="8.7" fill="#222" text-anchor="start" stroke="#222" stroke-width="0.22" font-style="italic" textLength="86" lengthAdjust="spacingAndGlyphs" >anterior Hippocampus</text>
<line x1="286.8" y1="26.3" x2="320.8" y2="26.3" stroke="#333" stroke-width="1.2"/>
<path d="M303.80,18.15 L303.80,21.65 M305.32,19.02 L302.28,20.77 M305.32,20.77 L302.28,19.02 " stroke="#000" stroke-width="1.25" stroke-linecap="round"/>
<circle cx="303.8" cy="19.9" r="1.0" fill="#000"/>
<path d="M288.60,36.80 L288.60,36.80 L288.57,37.82 L288.48,38.83 L288.34,39.85 L288.15,40.86 L287.92,41.88 L287.68,42.89 L287.42,43.91 L287.18,44.92 L286.95,45.94 L286.76,46.95 L286.62,47.97 L286.53,48.98 L286.50,50.00 L286.49,51.00 L286.46,52.00 L286.42,53.00 L286.36,54.00 L286.29,55.00 L286.21,56.00 L286.11,57.00 L286.01,58.00 L285.90,59.00 L285.80,60.00 L285.69,61.00 L285.59,62.00 L285.49,63.00 L285.41,64.00 L285.34,65.00 L285.28,66.00 L285.24,67.00 L285.21,68.00 L285.20,69.00 L285.19,70.00 L285.16,71.00 L285.12,72.00 L285.06,73.00 L284.99,74.00 L284.90,75.00 L284.80,76.00 L284.69,77.00 L284.57,78.00 L284.44,79.00 L284.31,80.00 L284.19,81.00 L284.06,82.00 L283.93,83.00 L283.81,84.00 L283.70,85.00 L283.60,86.00 L283.51,87.00 L283.44,88.00 L283.38,89.00 L283.34,90.00 L283.31,91.00 L283.30,92.00 L283.28,93.03 L283.23,94.05 L283.15,95.08 L283.04,96.10 L282.90,97.12 L282.74,98.15 L282.58,99.17 L282.40,100.20 L282.22,101.23 L282.06,102.25 L281.90,103.28 L281.76,104.30 L281.65,105.33 L281.57,106.35 L281.52,107.38 L281.50,108.40 L281.53,109.41 L281.62,110.41 L281.77,111.42 L281.96,112.43 L282.20,113.43 L282.47,114.44 L282.75,115.45 L283.05,116.45 L283.33,117.46 L283.60,118.47 L283.84,119.47 L284.03,120.48 L284.18,121.49 L284.27,122.49 L284.30,123.50 L284.32,124.55 L284.40,125.60 L284.51,126.65 L284.67,127.70 L284.86,128.75 L285.07,129.80 L285.31,130.85 L285.55,131.90 L285.79,132.95 L286.03,134.00 L286.24,135.05 L286.43,136.10 L286.81,137.15 L287.22,138.20 L287.47,139.25 L287.55,140.30 L287.56,141.32 L287.60,142.34 L287.65,143.36 L287.72,144.38 L287.81,145.40 L287.91,146.42 L288.02,147.44 L288.13,148.46 L288.24,149.48 L288.34,150.50 L288.43,151.52 L288.50,152.54 L288.55,153.56 L288.59,154.58 L288.60,155.60 L288.60,155.60 Z" fill="#f9b9b4" stroke="none"/>
<path d="M288.60,36.80 L288.60,36.80 L288.57,37.82 L288.48,38.83 L288.34,39.85 L288.15,40.86 L287.92,41.88 L287.68,42.89 L287.42,43.91 L287.18,44.92 L286.95,45.94 L286.76,46.95 L286.62,47.97 L286.53,48.98 L286.50,50.00 L286.49,51.00 L286.46,52.00 L286.42,53.00 L286.36,54.00 L286.29,55.00 L286.21,56.00 L286.11,57.00 L286.01,58.00 L285.90,59.00 L285.80,60.00 L285.69,61.00 L285.59,62.00 L285.49,63.00 L285.41,64.00 L285.34,65.00 L285.28,66.00 L285.24,67.00 L285.21,68.00 L285.20,69.00 L285.19,70.00 L285.16,71.00 L285.12,72.00 L285.06,73.00 L284.99,74.00 L284.90,75.00 L284.80,76.00 L284.69,77.00 L284.57,78.00 L284.44,79.00 L284.31,80.00 L284.19,81.00 L284.06,82.00 L283.93,83.00 L283.81,84.00 L283.70,85.00 L283.60,86.00 L283.51,87.00 L283.44,88.00 L283.38,89.00 L283.34,90.00 L283.31,91.00 L283.30,92.00 L283.28,93.03 L283.23,94.05 L283.15,95.08 L283.04,96.10 L282.90,97.12 L282.74,98.15 L282.58,99.17 L282.40,100.20 L282.22,101.23 L282.06,102.25 L281.90,103.28 L281.76,104.30 L281.65,105.33 L281.57,106.35 L281.52,107.38 L281.50,108.40 L281.53,109.41 L281.62,110.41 L281.77,111.42 L281.96,112.43 L282.20,113.43 L282.47,114.44 L282.75,115.45 L283.05,116.45 L283.33,117.46 L283.60,118.47 L283.84,119.47 L284.03,120.48 L284.18,121.49 L284.27,122.49 L284.30,123.50 L284.32,124.55 L284.40,125.60 L284.51,126.65 L284.67,127.70 L284.86,128.75 L285.07,129.80 L285.31,130.85 L285.55,131.90 L285.79,132.95 L286.03,134.00 L286.24,135.05 L286.43,136.10 L286.81,137.15 L287.22,138.20 L287.47,139.25 L287.55,140.30 L287.56,141.32 L287.60,142.34 L287.65,143.36 L287.72,144.38 L287.81,145.40 L287.91,146.42 L288.02,147.44 L288.13,148.46 L288.24,149.48 L288.34,150.50 L288.43,151.52 L288.50,152.54 L288.55,153.56 L288.59,154.58 L288.60,155.60 L288.60,155.60" fill="none" stroke="#f04a40" stroke-width="0.8"/>
<path d="M319.00,69.40 L319.00,69.40 L319.07,70.46 L319.27,71.52 L319.58,72.58 L319.97,73.64 L320.40,74.70 L320.83,75.76 L321.14,76.82 L321.22,77.88 L321.28,78.94 L321.30,80.00 L321.32,81.00 L321.37,82.00 L321.46,83.00 L321.58,84.00 L321.73,85.00 L321.89,86.00 L322.06,87.00 L322.24,88.00 L322.41,89.00 L322.57,90.00 L322.72,91.00 L322.84,92.00 L322.93,93.00 L322.98,94.00 L323.00,95.00 L323.04,96.00 L323.15,97.00 L323.33,98.00 L323.56,99.00 L323.84,100.00 L324.14,101.00 L324.46,102.00 L324.76,103.00 L325.04,104.00 L325.27,105.00 L325.45,106.00 L325.56,107.00 L325.60,108.00 L325.56,109.00 L325.43,110.00 L325.22,111.00 L324.95,112.00 L324.64,113.00 L324.30,114.00 L323.96,115.00 L323.65,116.00 L323.38,117.00 L323.17,118.00 L323.04,119.00 L323.00,120.00 L322.96,121.00 L322.84,122.00 L322.65,123.00 L322.41,124.00 L322.15,125.00 L321.89,126.00 L321.65,127.00 L321.46,128.00 L321.34,129.00 L321.30,130.00 L321.25,131.08 L321.10,132.17 L320.40,133.25 L319.70,134.33 L319.19,135.42 L319.00,136.50 L319.00,136.50 Z" fill="#b3b3fb" stroke="none"/>
<path d="M319.00,69.40 L319.00,69.40 L319.07,70.46 L319.27,71.52 L319.58,72.58 L319.97,73.64 L320.40,74.70 L320.83,75.76 L321.14,76.82 L321.22,77.88 L321.28,78.94 L321.30,80.00 L321.32,81.00 L321.37,82.00 L321.46,83.00 L321.58,84.00 L321.73,85.00 L321.89,86.00 L322.06,87.00 L322.24,88.00 L322.41,89.00 L322.57,90.00 L322.72,91.00 L322.84,92.00 L322.93,93.00 L322.98,94.00 L323.00,95.00 L323.04,96.00 L323.15,97.00 L323.33,98.00 L323.56,99.00 L323.84,100.00 L324.14,101.00 L324.46,102.00 L324.76,103.00 L325.04,104.00 L325.27,105.00 L325.45,106.00 L325.56,107.00 L325.60,108.00 L325.56,109.00 L325.43,110.00 L325.22,111.00 L324.95,112.00 L324.64,113.00 L324.30,114.00 L323.96,115.00 L323.65,116.00 L323.38,117.00 L323.17,118.00 L323.04,119.00 L323.00,120.00 L322.96,121.00 L322.84,122.00 L322.65,123.00 L322.41,124.00 L322.15,125.00 L321.89,126.00 L321.65,127.00 L321.46,128.00 L321.34,129.00 L321.30,130.00 L321.25,131.08 L321.10,132.17 L320.40,133.25 L319.70,134.33 L319.19,135.42 L319.00,136.50 L319.00,136.50" fill="none" stroke="#3c3cf0" stroke-width="0.8"/>
<g stroke="#d2d2d2" stroke-width="0.42"><line x1="292.40" y1="37.10" x2="316.04" y2="103.00"/><line x1="291.58" y1="59.50" x2="316.03" y2="92.25"/><line x1="292.12" y1="62.93" x2="315.46" y2="87.83"/><line x1="291.73" y1="70.09" x2="315.74" y2="86.24"/><line x1="291.94" y1="71.96" x2="316.62" y2="82.81"/><line x1="291.11" y1="77.16" x2="316.52" y2="90.14"/><line x1="292.05" y1="78.33" x2="315.57" y2="112.06"/><line x1="290.98" y1="82.62" x2="315.92" y2="103.42"/><line x1="291.18" y1="85.35" x2="315.55" y2="99.82"/><line x1="290.76" y1="86.39" x2="315.66" y2="110.16"/><line x1="291.41" y1="87.85" x2="315.70" y2="108.53"/><line x1="291.63" y1="90.56" x2="315.90" y2="126.30"/><line x1="291.23" y1="93.07" x2="317.06" y2="116.95"/><line x1="292.30" y1="94.32" x2="317.10" y2="114.38"/><line x1="290.85" y1="96.80" x2="316.72" y2="96.52"/><line x1="291.74" y1="97.88" x2="316.16" y2="104.84"/><line x1="291.12" y1="100.17" x2="316.20" y2="109.74"/><line x1="291.77" y1="102.13" x2="316.70" y2="112.84"/><line x1="292.11" y1="103.24" x2="316.93" y2="97.23"/><line x1="291.98" y1="105.02" x2="316.65" y2="111.54"/><line x1="290.81" y1="105.71" x2="316.45" y2="99.57"/><line x1="291.14" y1="107.99" x2="315.66" y2="94.93"/><line x1="291.78" y1="108.50" x2="316.43" y2="69.70"/><line x1="292.47" y1="110.90" x2="316.82" y2="136.20"/><line x1="290.77" y1="112.45" x2="316.72" y2="107.86"/><line x1="291.81" y1="113.93" x2="315.47" y2="118.84"/><line x1="291.95" y1="114.98" x2="316.59" y2="101.61"/><line x1="292.17" y1="116.40" x2="315.93" y2="106.94"/><line x1="291.32" y1="118.55" x2="315.59" y2="115.07"/><line x1="292.16" y1="121.91" x2="317.04" y2="120.22"/><line x1="291.53" y1="124.02" x2="316.51" y2="121.73"/><line x1="292.36" y1="128.09" x2="316.64" y2="105.88"/><line x1="290.72" y1="128.92" x2="315.54" y2="122.87"/><line x1="292.39" y1="155.30" x2="316.79" y2="105.49"/></g>
<line x1="288.6" y1="36.8" x2="288.6" y2="155.6" stroke="#5a5a5a" stroke-width="0.9"/>
<rect x="287.1" y="80.0" width="3" height="33.7" fill="#fff" stroke="#5a5a5a" stroke-width="0.8"/>
<line x1="287.1" y1="104.7" x2="290.1" y2="104.7" stroke="#5a5a5a" stroke-width="0.8"/>
<line x1="319.0" y1="69.4" x2="319.0" y2="136.5" stroke="#5a5a5a" stroke-width="0.9"/>
<rect x="317.5" y="101.5" width="3" height="12.900000000000006" fill="#fff" stroke="#5a5a5a" stroke-width="0.8"/>
<line x1="317.5" y1="107.8" x2="320.5" y2="107.8" stroke="#5a5a5a" stroke-width="0.8"/>
<g fill="#f26a62" fill-opacity="0.75" stroke="#f04a40" stroke-width="0.3"><circle cx="292.40" cy="37.10" r="1.15"/><circle cx="291.58" cy="59.50" r="1.15"/><circle cx="292.12" cy="62.93" r="1.15"/><circle cx="291.73" cy="70.09" r="1.15"/><circle cx="291.94" cy="71.96" r="1.15"/><circle cx="291.11" cy="77.16" r="1.15"/><circle cx="292.05" cy="78.33" r="1.15"/><circle cx="290.98" cy="82.62" r="1.15"/><circle cx="291.18" cy="85.35" r="1.15"/><circle cx="290.76" cy="86.39" r="1.15"/><circle cx="291.41" cy="87.85" r="1.15"/><circle cx="291.63" cy="90.56" r="1.15"/><circle cx="291.23" cy="93.07" r="1.15"/><circle cx="292.30" cy="94.32" r="1.15"/><circle cx="290.85" cy="96.80" r="1.15"/><circle cx="291.74" cy="97.88" r="1.15"/><circle cx="291.12" cy="100.17" r="1.15"/><circle cx="291.77" cy="102.13" r="1.15"/><circle cx="292.11" cy="103.24" r="1.15"/><circle cx="291.98" cy="105.02" r="1.15"/><circle cx="290.81" cy="105.71" r="1.15"/><circle cx="291.14" cy="107.99" r="1.15"/><circle cx="291.78" cy="108.50" r="1.15"/><circle cx="292.47" cy="110.90" r="1.15"/><circle cx="290.77" cy="112.45" r="1.15"/><circle cx="291.81" cy="113.93" r="1.15"/><circle cx="291.95" cy="114.98" r="1.15"/><circle cx="292.17" cy="116.40" r="1.15"/><circle cx="291.32" cy="118.55" r="1.15"/><circle cx="292.16" cy="121.91" r="1.15"/><circle cx="291.53" cy="124.02" r="1.15"/><circle cx="292.36" cy="128.09" r="1.15"/><circle cx="290.72" cy="128.92" r="1.15"/><circle cx="292.39" cy="155.30" r="1.15"/></g>
<g fill="#6f6ff2" fill-opacity="0.75" stroke="#3c3cf0" stroke-width="0.3"><circle cx="316.04" cy="103.00" r="1.15"/><circle cx="316.03" cy="92.25" r="1.15"/><circle cx="315.46" cy="87.83" r="1.15"/><circle cx="315.74" cy="86.24" r="1.15"/><circle cx="316.62" cy="82.81" r="1.15"/><circle cx="316.52" cy="90.14" r="1.15"/><circle cx="315.57" cy="112.06" r="1.15"/><circle cx="315.92" cy="103.42" r="1.15"/><circle cx="315.55" cy="99.82" r="1.15"/><circle cx="315.66" cy="110.16" r="1.15"/><circle cx="315.70" cy="108.53" r="1.15"/><circle cx="315.90" cy="126.30" r="1.15"/><circle cx="317.06" cy="116.95" r="1.15"/><circle cx="317.10" cy="114.38" r="1.15"/><circle cx="316.72" cy="96.52" r="1.15"/><circle cx="316.16" cy="104.84" r="1.15"/><circle cx="316.20" cy="109.74" r="1.15"/><circle cx="316.70" cy="112.84" r="1.15"/><circle cx="316.93" cy="97.23" r="1.15"/><circle cx="316.65" cy="111.54" r="1.15"/><circle cx="316.45" cy="99.57" r="1.15"/><circle cx="315.66" cy="94.93" r="1.15"/><circle cx="316.43" cy="69.70" r="1.15"/><circle cx="316.82" cy="136.20" r="1.15"/><circle cx="316.72" cy="107.86" r="1.15"/><circle cx="315.47" cy="118.84" r="1.15"/><circle cx="316.59" cy="101.61" r="1.15"/><circle cx="315.93" cy="106.94" r="1.15"/><circle cx="315.59" cy="115.07" r="1.15"/><circle cx="317.04" cy="120.22" r="1.15"/><circle cx="316.51" cy="121.73" r="1.15"/><circle cx="316.64" cy="105.88" r="1.15"/><circle cx="315.54" cy="122.87" r="1.15"/><circle cx="316.79" cy="105.49" r="1.15"/></g>
<line x1="291.3" y1="97.3" x2="316.0" y2="108.2" stroke="#111" stroke-width="1.3" stroke-dasharray="3.2,2.2"/>
<line x1="291.3" y1="93.3" x2="291.3" y2="101.3" stroke="#111" stroke-width="0.8"/>
<line x1="290.3" y1="93.3" x2="292.3" y2="93.3" stroke="#111" stroke-width="0.8"/>
<line x1="290.3" y1="101.3" x2="292.3" y2="101.3" stroke="#111" stroke-width="0.8"/>
<circle cx="291.3" cy="97.3" r="1.9" fill="#000"/>
<line x1="316.0" y1="104.2" x2="316.0" y2="112.2" stroke="#111" stroke-width="0.8"/>
<line x1="315.0" y1="104.2" x2="317.0" y2="104.2" stroke="#111" stroke-width="0.8"/>
<line x1="315.0" y1="112.2" x2="317.0" y2="112.2" stroke="#111" stroke-width="0.8"/>
<circle cx="316.0" cy="108.2" r="1.9" fill="#000"/>
<text x="0" y="0" font-size="12.5" font-weight="bold" fill="#000" stroke="#000" stroke-width="0.25" transform="translate(345.36 10.00) scale(0.955 1)">C</text>
<line x1="376.3" y1="17.2" x2="376.3" y2="167.3" stroke="#333" stroke-width="1"/>
<line x1="373.8" y1="41.3" x2="376.3" y2="41.3" stroke="#333" stroke-width="0.9"/>
<text x="372.00" y="44.90" font-size="10" fill="#333" text-anchor="end" stroke="#333" stroke-width="0.1" >0.7</text>
<line x1="373.8" y1="75.8" x2="376.3" y2="75.8" stroke="#333" stroke-width="0.9"/>
<text x="372.00" y="79.40" font-size="10" fill="#333" text-anchor="end" stroke="#333" stroke-width="0.1" >0.5</text>
<line x1="373.8" y1="109.9" x2="376.3" y2="109.9" stroke="#333" stroke-width="0.9"/>
<text x="372.00" y="113.50" font-size="10" fill="#333" text-anchor="end" stroke="#333" stroke-width="0.1" >0.3</text>
<line x1="373.8" y1="144.2" x2="376.3" y2="144.2" stroke="#333" stroke-width="0.9"/>
<text x="372.00" y="147.80" font-size="10" fill="#333" text-anchor="end" stroke="#333" stroke-width="0.1" >0.1</text>
<line x1="376.3" y1="167.1" x2="458.3" y2="167.1" stroke="#333" stroke-width="1"/>
<line x1="407.2" y1="167.1" x2="407.2" y2="169.6" stroke="#333" stroke-width="0.9"/>
<text x="407.20" y="179.50" font-size="10" fill="#333" text-anchor="middle" stroke="#333" stroke-width="0.1" >HSC</text>
<line x1="433.4" y1="167.1" x2="433.4" y2="169.6" stroke="#333" stroke-width="0.9"/>
<text x="433.40" y="179.50" font-size="10" fill="#333" text-anchor="middle" stroke="#333" stroke-width="0.1" >LSC</text>
<text x="354.00" y="92.00" font-size="9.5" fill="#222" text-anchor="middle" stroke="#222" stroke-width="0.12" textLength="74.5" lengthAdjust="spacingAndGlyphs" transform="rotate(-90 354.00 92.00)" >Pattern Similarity</text>
<text x="421.00" y="191.00" font-size="8.7" fill="#222" text-anchor="middle" stroke="#222" stroke-width="0.22" font-style="italic" textLength="21" lengthAdjust="spacingAndGlyphs" >vlPFC</text>
<line x1="405.1" y1="47.0" x2="439.0" y2="47.0" stroke="#666" stroke-width="1.3"/>
<path d="M422.40,39.15 L422.40,42.65 M423.92,40.02 L420.88,41.77 M423.92,41.77 L420.88,40.02 " stroke="#000" stroke-width="1.25" stroke-linecap="round"/>
<circle cx="422.4" cy="40.9" r="1.0" fill="#000"/>
<path d="M404.40,53.50 L404.40,53.50 L404.38,54.50 L404.31,55.50 L404.20,56.50 L404.05,57.50 L403.86,58.50 L403.63,59.50 L403.37,60.50 L403.09,61.50 L402.78,62.50 L402.45,63.50 L402.25,64.50 L402.15,65.50 L402.05,66.50 L401.96,67.50 L401.86,68.50 L401.77,69.50 L401.69,70.50 L401.62,71.50 L401.55,72.50 L401.50,73.50 L401.46,74.50 L401.43,75.50 L401.41,76.50 L401.40,77.50 L401.36,78.54 L401.25,79.57 L401.07,80.61 L400.84,81.64 L400.55,82.68 L400.23,83.71 L399.90,84.75 L399.57,85.79 L399.25,86.82 L398.96,87.86 L398.73,88.89 L398.55,89.93 L398.44,90.96 L398.40,92.00 L398.35,93.00 L398.21,94.00 L397.97,95.00 L397.67,96.00 L397.30,97.00 L396.90,98.00 L396.50,99.00 L396.10,100.00 L395.73,101.00 L395.43,102.00 L395.19,103.00 L395.05,104.00 L395.00,105.00 L395.01,106.02 L395.03,107.04 L395.06,108.07 L395.10,109.09 L395.16,110.11 L395.22,111.13 L395.30,112.16 L395.38,113.18 L395.47,114.20 L395.57,115.22 L395.68,116.24 L395.79,117.27 L395.89,118.29 L396.01,119.31 L396.11,120.33 L396.22,121.36 L396.33,122.38 L396.42,123.40 L396.52,124.42 L396.60,125.44 L396.68,126.47 L396.74,127.49 L396.80,128.51 L396.84,129.53 L396.87,130.56 L396.89,131.58 L396.90,132.60 L396.92,133.65 L396.98,134.71 L397.08,135.76 L397.20,136.82 L397.35,137.87 L397.52,138.92 L397.68,139.98 L397.85,141.03 L398.00,142.08 L398.12,143.14 L398.22,144.19 L398.28,145.25 L398.30,146.30 L398.38,147.39 L398.61,148.48 L398.95,149.56 L399.35,150.65 L399.75,151.74 L400.09,152.82 L400.32,153.91 L400.40,155.00 L401.65,156.25 L404.40,157.50 L404.40,157.50 Z" fill="#f9b9b4" stroke="none"/>
<path d="M404.40,53.50 L404.40,53.50 L404.38,54.50 L404.31,55.50 L404.20,56.50 L404.05,57.50 L403.86,58.50 L403.63,59.50 L403.37,60.50 L403.09,61.50 L402.78,62.50 L402.45,63.50 L402.25,64.50 L402.15,65.50 L402.05,66.50 L401.96,67.50 L401.86,68.50 L401.77,69.50 L401.69,70.50 L401.62,71.50 L401.55,72.50 L401.50,73.50 L401.46,74.50 L401.43,75.50 L401.41,76.50 L401.40,77.50 L401.36,78.54 L401.25,79.57 L401.07,80.61 L400.84,81.64 L400.55,82.68 L400.23,83.71 L399.90,84.75 L399.57,85.79 L399.25,86.82 L398.96,87.86 L398.73,88.89 L398.55,89.93 L398.44,90.96 L398.40,92.00 L398.35,93.00 L398.21,94.00 L397.97,95.00 L397.67,96.00 L397.30,97.00 L396.90,98.00 L396.50,99.00 L396.10,100.00 L395.73,101.00 L395.43,102.00 L395.19,103.00 L395.05,104.00 L395.00,105.00 L395.01,106.02 L395.03,107.04 L395.06,108.07 L395.10,109.09 L395.16,110.11 L395.22,111.13 L395.30,112.16 L395.38,113.18 L395.47,114.20 L395.57,115.22 L395.68,116.24 L395.79,117.27 L395.89,118.29 L396.01,119.31 L396.11,120.33 L396.22,121.36 L396.33,122.38 L396.42,123.40 L396.52,124.42 L396.60,125.44 L396.68,126.47 L396.74,127.49 L396.80,128.51 L396.84,129.53 L396.87,130.56 L396.89,131.58 L396.90,132.60 L396.92,133.65 L396.98,134.71 L397.08,135.76 L397.20,136.82 L397.35,137.87 L397.52,138.92 L397.68,139.98 L397.85,141.03 L398.00,142.08 L398.12,143.14 L398.22,144.19 L398.28,145.25 L398.30,146.30 L398.38,147.39 L398.61,148.48 L398.95,149.56 L399.35,150.65 L399.75,151.74 L400.09,152.82 L400.32,153.91 L400.40,155.00 L401.65,156.25 L404.40,157.50 L404.40,157.50" fill="none" stroke="#f04a40" stroke-width="0.8"/>
<path d="M436.80,79.30 L436.80,79.30 L437.57,80.47 L439.05,81.65 L439.58,82.83 L439.80,84.00 L439.83,85.00 L439.93,86.00 L440.10,87.00 L440.32,88.00 L440.60,89.00 L440.93,90.00 L441.30,91.00 L441.70,92.00 L442.13,93.00 L442.58,94.00 L443.02,95.00 L443.47,96.00 L443.90,97.00 L444.30,98.00 L444.67,99.00 L445.00,100.00 L445.28,101.00 L445.50,102.00 L445.67,103.00 L445.77,104.00 L445.80,105.00 L445.80,106.02 L445.78,107.04 L445.76,108.07 L445.73,109.09 L445.69,110.11 L445.65,111.13 L445.60,112.16 L445.54,113.18 L445.48,114.20 L445.41,115.22 L445.34,116.24 L445.26,117.27 L445.19,118.29 L445.11,119.31 L445.04,120.33 L444.96,121.36 L444.89,122.38 L444.82,123.40 L444.76,124.42 L444.70,125.44 L444.65,126.47 L444.61,127.49 L444.57,128.51 L444.54,129.53 L444.52,130.56 L444.50,131.58 L444.50,132.60 L444.49,133.62 L444.48,134.64 L444.45,135.65 L444.40,136.67 L444.35,137.69 L444.29,138.71 L444.22,139.73 L444.15,140.75 L444.07,141.76 L443.99,142.78 L443.90,143.80 L443.81,144.82 L443.73,145.84 L443.65,146.85 L443.58,147.87 L443.51,148.89 L443.45,149.91 L443.40,150.93 L443.35,151.95 L443.32,152.96 L443.31,153.98 L443.30,155.00 L442.57,156.10 L440.80,157.20 L439.03,158.30 L436.80,159.40 L436.80,159.40 Z" fill="#b3b3fb" stroke="none"/>
<path d="M436.80,79.30 L436.80,79.30 L437.57,80.47 L439.05,81.65 L439.58,82.83 L439.80,84.00 L439.83,85.00 L439.93,86.00 L440.10,87.00 L440.32,88.00 L440.60,89.00 L440.93,90.00 L441.30,91.00 L441.70,92.00 L442.13,93.00 L442.58,94.00 L443.02,95.00 L443.47,96.00 L443.90,97.00 L444.30,98.00 L444.67,99.00 L445.00,100.00 L445.28,101.00 L445.50,102.00 L445.67,103.00 L445.77,104.00 L445.80,105.00 L445.80,106.02 L445.78,107.04 L445.76,108.07 L445.73,109.09 L445.69,110.11 L445.65,111.13 L445.60,112.16 L445.54,113.18 L445.48,114.20 L445.41,115.22 L445.34,116.24 L445.26,117.27 L445.19,118.29 L445.11,119.31 L445.04,120.33 L444.96,121.36 L444.89,122.38 L444.82,123.40 L444.76,124.42 L444.70,125.44 L444.65,126.47 L444.61,127.49 L444.57,128.51 L444.54,129.53 L444.52,130.56 L444.50,131.58 L444.50,132.60 L444.49,133.62 L444.48,134.64 L444.45,135.65 L444.40,136.67 L444.35,137.69 L444.29,138.71 L444.22,139.73 L444.15,140.75 L444.07,141.76 L443.99,142.78 L443.90,143.80 L443.81,144.82 L443.73,145.84 L443.65,146.85 L443.58,147.87 L443.51,148.89 L443.45,149.91 L443.40,150.93 L443.35,151.95 L443.32,152.96 L443.31,153.98 L443.30,155.00 L442.57,156.10 L440.80,157.20 L439.03,158.30 L436.80,159.40 L436.80,159.40" fill="none" stroke="#3c3cf0" stroke-width="0.8"/>
<g stroke="#d2d2d2" stroke-width="0.42"><line x1="407.89" y1="53.80" x2="433.46" y2="106.99"/><line x1="407.84" y1="81.16" x2="434.46" y2="103.64"/><line x1="407.38" y1="85.50" x2="433.87" y2="133.88"/><line x1="407.64" y1="89.20" x2="434.15" y2="99.27"/><line x1="407.92" y1="92.06" x2="433.92" y2="91.85"/><line x1="408.33" y1="94.34" x2="433.38" y2="103.15"/><line x1="407.60" y1="96.54" x2="434.43" y2="79.60"/><line x1="407.35" y1="99.46" x2="433.98" y2="137.87"/><line x1="408.46" y1="101.26" x2="433.94" y2="127.14"/><line x1="406.80" y1="103.12" x2="433.20" y2="144.34"/><line x1="408.20" y1="103.93" x2="432.99" y2="108.80"/><line x1="407.93" y1="106.55" x2="433.74" y2="106.03"/><line x1="407.70" y1="107.56" x2="434.19" y2="135.42"/><line x1="407.51" y1="109.84" x2="434.13" y2="124.22"/><line x1="408.05" y1="110.26" x2="433.33" y2="150.31"/><line x1="408.30" y1="113.26" x2="432.95" y2="152.96"/><line x1="408.01" y1="114.72" x2="433.63" y2="128.76"/><line x1="408.05" y1="115.63" x2="434.28" y2="95.38"/><line x1="406.76" y1="118.41" x2="432.99" y2="119.39"/><line x1="407.29" y1="119.26" x2="434.03" y2="149.28"/><line x1="406.95" y1="121.10" x2="433.01" y2="101.50"/><line x1="408.42" y1="123.53" x2="433.26" y2="140.23"/><line x1="408.30" y1="125.16" x2="432.80" y2="145.29"/><line x1="406.96" y1="127.72" x2="433.24" y2="125.76"/><line x1="407.76" y1="130.65" x2="433.39" y2="111.55"/><line x1="407.74" y1="132.37" x2="434.44" y2="96.71"/><line x1="406.78" y1="134.59" x2="434.43" y2="114.67"/><line x1="407.41" y1="136.17" x2="433.04" y2="117.78"/><line x1="408.05" y1="139.32" x2="433.26" y2="131.09"/><line x1="407.85" y1="141.87" x2="434.40" y2="116.19"/><line x1="407.21" y1="144.31" x2="433.06" y2="121.48"/><line x1="408.07" y1="147.79" x2="433.28" y2="112.65"/><line x1="407.22" y1="150.66" x2="433.49" y2="159.10"/><line x1="407.68" y1="157.20" x2="432.90" y2="141.04"/></g>
<line x1="404.4" y1="53.5" x2="404.4" y2="157.5" stroke="#5a5a5a" stroke-width="0.9"/>
<rect x="402.9" y="96.4" width="3" height="39.400000000000006" fill="#fff" stroke="#5a5a5a" stroke-width="0.8"/>
<line x1="402.9" y1="113.6" x2="405.9" y2="113.6" stroke="#5a5a5a" stroke-width="0.8"/>
<line x1="436.8" y1="79.3" x2="436.8" y2="159.4" stroke="#5a5a5a" stroke-width="0.9"/>
<rect x="435.3" y="106.0" width="3" height="39.400000000000006" fill="#fff" stroke="#5a5a5a" stroke-width="0.8"/>
<line x1="435.3" y1="129.3" x2="438.3" y2="129.3" stroke="#5a5a5a" stroke-width="0.8"/>
<g fill="#f26a62" fill-opacity="0.75" stroke="#f04a40" stroke-width="0.3"><circle cx="407.89" cy="53.80" r="1.15"/><circle cx="407.84" cy="81.16" r="1.15"/><circle cx="407.38" cy="85.50" r="1.15"/><circle cx="407.64" cy="89.20" r="1.15"/><circle cx="407.92" cy="92.06" r="1.15"/><circle cx="408.33" cy="94.34" r="1.15"/><circle cx="407.60" cy="96.54" r="1.15"/><circle cx="407.35" cy="99.46" r="1.15"/><circle cx="408.46" cy="101.26" r="1.15"/><circle cx="406.80" cy="103.12" r="1.15"/><circle cx="408.20" cy="103.93" r="1.15"/><circle cx="407.93" cy="106.55" r="1.15"/><circle cx="407.70" cy="107.56" r="1.15"/><circle cx="407.51" cy="109.84" r="1.15"/><circle cx="408.05" cy="110.26" r="1.15"/><circle cx="408.30" cy="113.26" r="1.15"/><circle cx="408.01" cy="114.72" r="1.15"/><circle cx="408.05" cy="115.63" r="1.15"/><circle cx="406.76" cy="118.41" r="1.15"/><circle cx="407.29" cy="119.26" r="1.15"/><circle cx="406.95" cy="121.10" r="1.15"/><circle cx="408.42" cy="123.53" r="1.15"/><circle cx="408.30" cy="125.16" r="1.15"/><circle cx="406.96" cy="127.72" r="1.15"/><circle cx="407.76" cy="130.65" r="1.15"/><circle cx="407.74" cy="132.37" r="1.15"/><circle cx="406.78" cy="134.59" r="1.15"/><circle cx="407.41" cy="136.17" r="1.15"/><circle cx="408.05" cy="139.32" r="1.15"/><circle cx="407.85" cy="141.87" r="1.15"/><circle cx="407.21" cy="144.31" r="1.15"/><circle cx="408.07" cy="147.79" r="1.15"/><circle cx="407.22" cy="150.66" r="1.15"/><circle cx="407.68" cy="157.20" r="1.15"/></g>
<g fill="#6f6ff2" fill-opacity="0.75" stroke="#3c3cf0" stroke-width="0.3"><circle cx="433.46" cy="106.99" r="1.15"/><circle cx="434.46" cy="103.64" r="1.15"/><circle cx="433.87" cy="133.88" r="1.15"/><circle cx="434.15" cy="99.27" r="1.15"/><circle cx="433.92" cy="91.85" r="1.15"/><circle cx="433.38" cy="103.15" r="1.15"/><circle cx="434.43" cy="79.60" r="1.15"/><circle cx="433.98" cy="137.87" r="1.15"/><circle cx="433.94" cy="127.14" r="1.15"/><circle cx="433.20" cy="144.34" r="1.15"/><circle cx="432.99" cy="108.80" r="1.15"/><circle cx="433.74" cy="106.03" r="1.15"/><circle cx="434.19" cy="135.42" r="1.15"/><circle cx="434.13" cy="124.22" r="1.15"/><circle cx="433.33" cy="150.31" r="1.15"/><circle cx="432.95" cy="152.96" r="1.15"/><circle cx="433.63" cy="128.76" r="1.15"/><circle cx="434.28" cy="95.38" r="1.15"/><circle cx="432.99" cy="119.39" r="1.15"/><circle cx="434.03" cy="149.28" r="1.15"/><circle cx="433.01" cy="101.50" r="1.15"/><circle cx="433.26" cy="140.23" r="1.15"/><circle cx="432.80" cy="145.29" r="1.15"/><circle cx="433.24" cy="125.76" r="1.15"/><circle cx="433.39" cy="111.55" r="1.15"/><circle cx="434.44" cy="96.71" r="1.15"/><circle cx="434.43" cy="114.67" r="1.15"/><circle cx="433.04" cy="117.78" r="1.15"/><circle cx="433.26" cy="131.09" r="1.15"/><circle cx="434.40" cy="116.19" r="1.15"/><circle cx="433.06" cy="121.48" r="1.15"/><circle cx="433.28" cy="112.65" r="1.15"/><circle cx="433.49" cy="159.10" r="1.15"/><circle cx="432.90" cy="141.04" r="1.15"/></g>
<line x1="407.5" y1="115.5" x2="433.4" y2="127.4" stroke="#111" stroke-width="1.3" stroke-dasharray="3.2,2.2"/>
<line x1="407.5" y1="111.5" x2="407.5" y2="119.5" stroke="#111" stroke-width="0.8"/>
<line x1="406.5" y1="111.5" x2="408.5" y2="111.5" stroke="#111" stroke-width="0.8"/>
<line x1="406.5" y1="119.5" x2="408.5" y2="119.5" stroke="#111" stroke-width="0.8"/>
<circle cx="407.5" cy="115.5" r="1.9" fill="#000"/>
<line x1="433.4" y1="123.4" x2="433.4" y2="131.4" stroke="#111" stroke-width="0.8"/>
<line x1="432.4" y1="123.4" x2="434.4" y2="123.4" stroke="#111" stroke-width="0.8"/>
<line x1="432.4" y1="131.4" x2="434.4" y2="131.4" stroke="#111" stroke-width="0.8"/>
<circle cx="433.4" cy="127.4" r="1.9" fill="#000"/>
<text x="0" y="0" font-size="12.5" font-weight="bold" fill="#000" stroke="#000" stroke-width="0.25" transform="translate(471.60 9.80) scale(1.032 1)">D</text>
<line x1="511.5" y1="17.2" x2="511.5" y2="166.8" stroke="#333" stroke-width="1"/>
<line x1="509.0" y1="23.9" x2="511.5" y2="23.9" stroke="#333" stroke-width="0.9"/>
<text x="507.20" y="27.50" font-size="10" fill="#333" text-anchor="end" stroke="#333" stroke-width="0.1" >0.8</text>
<line x1="509.0" y1="55.9" x2="511.5" y2="55.9" stroke="#333" stroke-width="0.9"/>
<text x="507.20" y="59.50" font-size="10" fill="#333" text-anchor="end" stroke="#333" stroke-width="0.1" >0.4</text>
<line x1="509.0" y1="88.2" x2="511.5" y2="88.2" stroke="#333" stroke-width="0.9"/>
<text x="507.20" y="91.80" font-size="10" fill="#333" text-anchor="end" stroke="#333" stroke-width="0.1" >0.0</text>
<line x1="509.0" y1="120.2" x2="511.5" y2="120.2" stroke="#333" stroke-width="0.9"/>
<text x="507.20" y="123.80" font-size="10" fill="#333" text-anchor="end" stroke="#333" stroke-width="0.1" >-0.4</text>
<line x1="509.0" y1="151.9" x2="511.5" y2="151.9" stroke="#333" stroke-width="0.9"/>
<text x="507.20" y="155.50" font-size="10" fill="#333" text-anchor="end" stroke="#333" stroke-width="0.1" >-0.8</text>
<line x1="511.5" y1="166.6" x2="592.4" y2="166.6" stroke="#333" stroke-width="1"/>
<line x1="542.5" y1="166.6" x2="542.5" y2="169.1" stroke="#333" stroke-width="0.9"/>
<text x="542.50" y="179.00" font-size="10" fill="#333" text-anchor="middle" stroke="#333" stroke-width="0.1" >HSC</text>
<line x1="568.4" y1="166.6" x2="568.4" y2="169.1" stroke="#333" stroke-width="0.9"/>
<text x="568.40" y="179.00" font-size="10" fill="#333" text-anchor="middle" stroke="#333" stroke-width="0.1" >LSC</text>
<line x1="597.3" y1="166.8" x2="678.2" y2="166.8" stroke="#333" stroke-width="1"/>
<line x1="628.5" y1="166.8" x2="628.5" y2="169.3" stroke="#333" stroke-width="0.9"/>
<text x="628.50" y="179.20" font-size="10" fill="#333" text-anchor="middle" stroke="#333" stroke-width="0.1" >HSC</text>
<line x1="654.4" y1="166.8" x2="654.4" y2="169.3" stroke="#333" stroke-width="0.9"/>
<text x="654.40" y="179.20" font-size="10" fill="#333" text-anchor="middle" stroke="#333" stroke-width="0.1" >LSC</text>
<text x="485.60" y="91.00" font-size="9.5" fill="#222" text-anchor="middle" stroke="#222" stroke-width="0.12" textLength="75.5" lengthAdjust="spacingAndGlyphs" transform="rotate(-90 485.60 91.00)" >Pattern Similarity</text>
<text x="556.80" y="191.00" font-size="8.8" fill="#222" text-anchor="middle" stroke="#222" stroke-width="0.22" textLength="72.9" lengthAdjust="spacingAndGlyphs" >Learning (<tspan font-style="italic">phase 1</tspan>)</text>
<text x="640.00" y="191.00" font-size="8.8" fill="#222" text-anchor="middle" stroke="#222" stroke-width="0.22" textLength="72" lengthAdjust="spacingAndGlyphs" >Creating (<tspan font-style="italic">phase 2</tspan>)</text>
<text x="591.90" y="208.00" font-size="8.8" fill="#222" text-anchor="middle" stroke="#222" stroke-width="0.22" font-style="italic" textLength="76.7" lengthAdjust="spacingAndGlyphs" >Compressed Spaces</text>
<line x1="539.7" y1="29.0" x2="573.7" y2="29.0" stroke="#555" stroke-width="1.3"/>
<path d="M553.50,21.15 L553.50,24.65 M555.02,22.02 L551.98,23.77 M555.02,23.77 L551.98,22.02 " stroke="#000" stroke-width="1.25" stroke-linecap="round"/>
<circle cx="553.5" cy="22.9" r="1.0" fill="#000"/>
<path d="M557.80,21.15 L557.80,24.65 M559.32,22.02 L556.28,23.77 M559.32,23.77 L556.28,22.02 " stroke="#000" stroke-width="1.25" stroke-linecap="round"/>
<circle cx="557.8" cy="22.9" r="1.0" fill="#000"/>
<path d="M562.10,21.15 L562.10,24.65 M563.62,22.02 L560.58,23.77 M563.62,23.77 L560.58,22.02 " stroke="#000" stroke-width="1.25" stroke-linecap="round"/>
<circle cx="562.1" cy="22.9" r="1.0" fill="#000"/>
<line x1="622.0" y1="46.3" x2="656.0" y2="46.3" stroke="#222" stroke-width="1.2"/>
<path d="M635.50,38.45 L635.50,41.95 M637.02,39.33 L633.98,41.08 M637.02,41.08 L633.98,39.33 " stroke="#000" stroke-width="1.25" stroke-linecap="round"/>
<circle cx="635.5" cy="40.2" r="1.0" fill="#000"/>
<path d="M639.90,38.45 L639.90,41.95 M641.42,39.33 L638.38,41.08 M641.42,41.08 L638.38,39.33 " stroke="#000" stroke-width="1.25" stroke-linecap="round"/>
<circle cx="639.9" cy="40.2" r="1.0" fill="#000"/>
<path d="M644.40,38.45 L644.40,41.95 M645.92,39.33 L642.88,41.08 M645.92,41.08 L642.88,39.33 " stroke="#000" stroke-width="1.25" stroke-linecap="round"/>
<circle cx="644.4" cy="40.2" r="1.0" fill="#000"/>
<path d="M539.40,33.40 L539.40,33.40 L539.38,34.45 L539.32,35.51 L539.22,36.56 L539.09,37.62 L538.95,38.67 L538.80,39.73 L538.66,40.78 L538.53,41.84 L538.43,42.89 L538.37,43.95 L538.35,45.00 L538.29,46.00 L538.11,47.00 L537.82,48.00 L537.44,49.00 L537.21,50.00 L537.07,51.00 L536.93,52.00 L536.79,53.00 L536.66,54.00 L536.55,55.00 L536.47,56.00 L536.42,57.00 L536.40,58.00 L536.35,59.00 L536.21,60.00 L535.99,61.00 L535.71,62.00 L535.40,63.00 L535.09,64.00 L534.81,65.00 L534.59,66.00 L534.45,67.00 L534.40,68.00 L534.35,69.04 L534.19,70.09 L533.95,71.13 L533.66,72.18 L533.34,73.22 L533.05,74.27 L532.81,75.31 L532.65,76.36 L532.60,77.40 L532.67,78.46 L532.87,79.52 L533.18,80.58 L533.57,81.64 L534.00,82.70 L534.43,83.76 L534.82,84.82 L535.13,85.88 L535.33,86.94 L535.40,88.00 L535.48,89.08 L535.69,90.16 L536.02,91.23 L536.43,92.31 L536.87,93.39 L537.27,94.47 L538.38,95.54 L539.14,96.62 L539.40,97.70 L539.40,97.70 Z" fill="#f9b9b4" stroke="none"/>
<path d="M539.40,33.40 L539.40,33.40 L539.38,34.45 L539.32,35.51 L539.22,36.56 L539.09,37.62 L538.95,38.67 L538.80,39.73 L538.66,40.78 L538.53,41.84 L538.43,42.89 L538.37,43.95 L538.35,45.00 L538.29,46.00 L538.11,47.00 L537.82,48.00 L537.44,49.00 L537.21,50.00 L537.07,51.00 L536.93,52.00 L536.79,53.00 L536.66,54.00 L536.55,55.00 L536.47,56.00 L536.42,57.00 L536.40,58.00 L536.35,59.00 L536.21,60.00 L535.99,61.00 L535.71,62.00 L535.40,63.00 L535.09,64.00 L534.81,65.00 L534.59,66.00 L534.45,67.00 L534.40,68.00 L534.35,69.04 L534.19,70.09 L533.95,71.13 L533.66,72.18 L533.34,73.22 L533.05,74.27 L532.81,75.31 L532.65,76.36 L532.60,77.40 L532.67,78.46 L532.87,79.52 L533.18,80.58 L533.57,81.64 L534.00,82.70 L534.43,83.76 L534.82,84.82 L535.13,85.88 L535.33,86.94 L535.40,88.00 L535.48,89.08 L535.69,90.16 L536.02,91.23 L536.43,92.31 L536.87,93.39 L537.27,94.47 L538.38,95.54 L539.14,96.62 L539.40,97.70 L539.40,97.70" fill="none" stroke="#f04a40" stroke-width="0.8"/>
<path d="M571.80,46.80 L571.80,46.80 L571.88,47.82 L572.10,48.83 L572.46,49.85 L572.93,50.86 L573.49,51.88 L573.96,52.89 L574.14,53.91 L574.32,54.92 L574.48,55.94 L574.61,56.95 L574.71,57.97 L574.78,58.98 L574.80,60.00 L574.82,61.00 L574.87,62.00 L574.95,63.00 L575.07,64.00 L575.21,65.00 L575.38,66.00 L575.56,67.00 L575.75,68.00 L575.95,69.00 L576.15,70.00 L576.34,71.00 L576.52,72.00 L576.69,73.00 L576.83,74.00 L576.95,75.00 L577.03,76.00 L577.08,77.00 L577.10,78.00 L577.12,79.00 L577.19,80.00 L577.30,81.00 L577.44,82.00 L577.61,83.00 L577.80,84.00 L578.00,85.00 L578.20,86.00 L578.39,87.00 L578.56,88.00 L578.70,89.00 L578.81,90.00 L578.88,91.00 L578.90,92.00 L578.88,93.00 L578.81,94.00 L578.70,95.00 L578.55,96.00 L578.38,97.00 L578.20,98.00 L578.00,99.00 L577.82,100.00 L577.65,101.00 L577.50,102.00 L577.39,103.00 L577.32,104.00 L577.30,105.00 L577.27,106.00 L577.19,107.00 L577.06,108.00 L576.89,109.00 L576.67,110.00 L576.44,111.00 L576.18,112.00 L575.92,113.00 L575.66,114.00 L575.42,115.00 L575.21,116.00 L575.04,117.00 L574.91,118.00 L574.83,119.00 L574.80,120.00 L574.79,121.00 L574.77,122.00 L574.74,123.00 L574.69,124.00 L574.64,125.00 L574.57,126.00 L574.50,127.00 L574.42,128.00 L574.34,129.00 L574.25,130.00 L574.16,131.00 L574.08,132.00 L574.00,133.00 L573.93,134.00 L573.76,135.00 L573.57,136.00 L573.41,137.00 L573.29,138.00 L573.22,139.00 L573.20,140.00 L573.18,141.02 L573.12,142.03 L573.02,143.05 L572.90,144.06 L572.75,145.08 L572.58,146.09 L572.42,147.11 L572.25,148.12 L572.10,149.14 L571.98,150.15 L571.88,151.17 L571.82,152.18 L571.80,153.20 L571.80,153.20 Z" fill="#b3b3fb" stroke="none"/>
<path d="M571.80,46.80 L571.80,46.80 L571.88,47.82 L572.10,48.83 L572.46,49.85 L572.93,50.86 L573.49,51.88 L573.96,52.89 L574.14,53.91 L574.32,54.92 L574.48,55.94 L574.61,56.95 L574.71,57.97 L574.78,58.98 L574.80,60.00 L574.82,61.00 L574.87,62.00 L574.95,63.00 L575.07,64.00 L575.21,65.00 L575.38,66.00 L575.56,67.00 L575.75,68.00 L575.95,69.00 L576.15,70.00 L576.34,71.00 L576.52,72.00 L576.69,73.00 L576.83,74.00 L576.95,75.00 L577.03,76.00 L577.08,77.00 L577.10,78.00 L577.12,79.00 L577.19,80.00 L577.30,81.00 L577.44,82.00 L577.61,83.00 L577.80,84.00 L578.00,85.00 L578.20,86.00 L578.39,87.00 L578.56,88.00 L578.70,89.00 L578.81,90.00 L578.88,91.00 L578.90,92.00 L578.88,93.00 L578.81,94.00 L578.70,95.00 L578.55,96.00 L578.38,97.00 L578.20,98.00 L578.00,99.00 L577.82,100.00 L577.65,101.00 L577.50,102.00 L577.39,103.00 L577.32,104.00 L577.30,105.00 L577.27,106.00 L577.19,107.00 L577.06,108.00 L576.89,109.00 L576.67,110.00 L576.44,111.00 L576.18,112.00 L575.92,113.00 L575.66,114.00 L575.42,115.00 L575.21,116.00 L575.04,117.00 L574.91,118.00 L574.83,119.00 L574.80,120.00 L574.79,121.00 L574.77,122.00 L574.74,123.00 L574.69,124.00 L574.64,125.00 L574.57,126.00 L574.50,127.00 L574.42,128.00 L574.34,129.00 L574.25,130.00 L574.16,131.00 L574.08,132.00 L574.00,133.00 L573.93,134.00 L573.76,135.00 L573.57,136.00 L573.41,137.00 L573.29,138.00 L573.22,139.00 L573.20,140.00 L573.18,141.02 L573.12,142.03 L573.02,143.05 L572.90,144.06 L572.75,145.08 L572.58,146.09 L572.42,147.11 L572.25,148.12 L572.10,149.14 L571.98,150.15 L571.88,151.17 L571.82,152.18 L571.80,153.20 L571.80,153.20" fill="none" stroke="#3c3cf0" stroke-width="0.8"/>
<g stroke="#d2d2d2" stroke-width="0.42"><line x1="542.29" y1="33.70" x2="568.66" y2="81.29"/><line x1="541.71" y1="51.82" x2="568.01" y2="71.66"/><line x1="542.83" y1="55.15" x2="569.16" y2="79.99"/><line x1="541.95" y1="59.20" x2="569.39" y2="93.97"/><line x1="542.20" y1="60.09" x2="569.05" y2="89.16"/><line x1="541.81" y1="62.01" x2="569.33" y2="61.78"/><line x1="542.50" y1="64.49" x2="568.19" y2="77.52"/><line x1="542.70" y1="65.25" x2="569.38" y2="85.89"/><line x1="543.15" y1="66.85" x2="567.73" y2="65.67"/><line x1="541.77" y1="67.78" x2="568.46" y2="47.10"/><line x1="543.19" y1="69.03" x2="567.84" y2="74.97"/><line x1="541.90" y1="69.67" x2="568.42" y2="95.11"/><line x1="542.10" y1="70.57" x2="568.83" y2="93.19"/><line x1="542.83" y1="72.08" x2="568.88" y2="104.03"/><line x1="542.31" y1="72.76" x2="568.42" y2="91.39"/><line x1="542.30" y1="73.69" x2="568.22" y2="123.08"/><line x1="542.72" y1="74.58" x2="567.94" y2="97.39"/><line x1="542.09" y1="75.42" x2="568.33" y2="83.13"/><line x1="543.13" y1="75.86" x2="568.11" y2="72.50"/><line x1="542.08" y1="76.67" x2="567.95" y2="118.97"/><line x1="543.21" y1="77.78" x2="568.92" y2="90.02"/><line x1="543.16" y1="78.26" x2="568.53" y2="68.15"/><line x1="542.67" y1="78.85" x2="568.39" y2="88.04"/><line x1="541.75" y1="79.87" x2="567.96" y2="104.59"/><line x1="543.10" y1="80.40" x2="568.87" y2="101.87"/><line x1="541.75" y1="81.66" x2="567.95" y2="99.97"/><line x1="542.61" y1="81.98" x2="568.08" y2="106.77"/><line x1="542.46" y1="83.72" x2="568.61" y2="84.88"/><line x1="541.81" y1="84.63" x2="568.86" y2="111.00"/><line x1="542.83" y1="85.70" x2="569.35" y2="98.42"/><line x1="543.00" y1="87.99" x2="568.95" y2="108.22"/><line x1="542.75" y1="88.61" x2="569.31" y2="128.31"/><line x1="542.42" y1="90.25" x2="569.26" y2="113.85"/><line x1="542.62" y1="97.40" x2="568.90" y2="152.90"/></g>
<line x1="539.4" y1="33.4" x2="539.4" y2="97.7" stroke="#5a5a5a" stroke-width="0.9"/>
<rect x="537.9" y="64.4" width="3" height="17.799999999999997" fill="#fff" stroke="#5a5a5a" stroke-width="0.8"/>
<line x1="537.9" y1="75.5" x2="540.9" y2="75.5" stroke="#5a5a5a" stroke-width="0.8"/>
<line x1="571.8" y1="46.8" x2="571.8" y2="153.2" stroke="#5a5a5a" stroke-width="0.9"/>
<rect x="570.3" y="82.2" width="3" height="24.599999999999994" fill="#fff" stroke="#5a5a5a" stroke-width="0.8"/>
<line x1="570.3" y1="93.4" x2="573.3" y2="93.4" stroke="#5a5a5a" stroke-width="0.8"/>
<g fill="#f26a62" fill-opacity="0.75" stroke="#f04a40" stroke-width="0.3"><circle cx="542.29" cy="33.70" r="1.15"/><circle cx="541.71" cy="51.82" r="1.15"/><circle cx="542.83" cy="55.15" r="1.15"/><circle cx="541.95" cy="59.20" r="1.15"/><circle cx="542.20" cy="60.09" r="1.15"/><circle cx="541.81" cy="62.01" r="1.15"/><circle cx="542.50" cy="64.49" r="1.15"/><circle cx="542.70" cy="65.25" r="1.15"/><circle cx="543.15" cy="66.85" r="1.15"/><circle cx="541.77" cy="67.78" r="1.15"/><circle cx="543.19" cy="69.03" r="1.15"/><circle cx="541.90" cy="69.67" r="1.15"/><circle cx="542.10" cy="70.57" r="1.15"/><circle cx="542.83" cy="72.08" r="1.15"/><circle cx="542.31" cy="72.76" r="1.15"/><circle cx="542.30" cy="73.69" r="1.15"/><circle cx="542.72" cy="74.58" r="1.15"/><circle cx="542.09" cy="75.42" r="1.15"/><circle cx="543.13" cy="75.86" r="1.15"/><circle cx="542.08" cy="76.67" r="1.15"/><circle cx="543.21" cy="77.78" r="1.15"/><circle cx="543.16" cy="78.26" r="1.15"/><circle cx="542.67" cy="78.85" r="1.15"/><circle cx="541.75" cy="79.87" r="1.15"/><circle cx="543.10" cy="80.40" r="1.15"/><circle cx="541.75" cy="81.66" r="1.15"/><circle cx="542.61" cy="81.98" r="1.15"/><circle cx="542.46" cy="83.72" r="1.15"/><circle cx="541.81" cy="84.63" r="1.15"/><circle cx="542.83" cy="85.70" r="1.15"/><circle cx="543.00" cy="87.99" r="1.15"/><circle cx="542.75" cy="88.61" r="1.15"/><circle cx="542.42" cy="90.25" r="1.15"/><circle cx="542.62" cy="97.40" r="1.15"/></g>
<g fill="#6f6ff2" fill-opacity="0.75" stroke="#3c3cf0" stroke-width="0.3"><circle cx="568.66" cy="81.29" r="1.15"/><circle cx="568.01" cy="71.66" r="1.15"/><circle cx="569.16" cy="79.99" r="1.15"/><circle cx="569.39" cy="93.97" r="1.15"/><circle cx="569.05" cy="89.16" r="1.15"/><circle cx="569.33" cy="61.78" r="1.15"/><circle cx="568.19" cy="77.52" r="1.15"/><circle cx="569.38" cy="85.89" r="1.15"/><circle cx="567.73" cy="65.67" r="1.15"/><circle cx="568.46" cy="47.10" r="1.15"/><circle cx="567.84" cy="74.97" r="1.15"/><circle cx="568.42" cy="95.11" r="1.15"/><circle cx="568.83" cy="93.19" r="1.15"/><circle cx="568.88" cy="104.03" r="1.15"/><circle cx="568.42" cy="91.39" r="1.15"/><circle cx="568.22" cy="123.08" r="1.15"/><circle cx="567.94" cy="97.39" r="1.15"/><circle cx="568.33" cy="83.13" r="1.15"/><circle cx="568.11" cy="72.50" r="1.15"/><circle cx="567.95" cy="118.97" r="1.15"/><circle cx="568.92" cy="90.02" r="1.15"/><circle cx="568.53" cy="68.15" r="1.15"/><circle cx="568.39" cy="88.04" r="1.15"/><circle cx="567.96" cy="104.59" r="1.15"/><circle cx="568.87" cy="101.87" r="1.15"/><circle cx="567.95" cy="99.97" r="1.15"/><circle cx="568.08" cy="106.77" r="1.15"/><circle cx="568.61" cy="84.88" r="1.15"/><circle cx="568.86" cy="111.00" r="1.15"/><circle cx="569.35" cy="98.42" r="1.15"/><circle cx="568.95" cy="108.22" r="1.15"/><circle cx="569.31" cy="128.31" r="1.15"/><circle cx="569.26" cy="113.85" r="1.15"/><circle cx="568.90" cy="152.90" r="1.15"/></g>
<line x1="542.5" y1="73.6" x2="568.4" y2="93.7" stroke="#111" stroke-width="1.3" stroke-dasharray="3.2,2.2"/>
<line x1="542.5" y1="69.6" x2="542.5" y2="77.6" stroke="#111" stroke-width="0.8"/>
<line x1="541.5" y1="69.6" x2="543.5" y2="69.6" stroke="#111" stroke-width="0.8"/>
<line x1="541.5" y1="77.6" x2="543.5" y2="77.6" stroke="#111" stroke-width="0.8"/>
<circle cx="542.5" cy="73.6" r="1.9" fill="#000"/>
<line x1="568.4" y1="89.7" x2="568.4" y2="97.7" stroke="#111" stroke-width="0.8"/>
<line x1="567.4" y1="89.7" x2="569.4" y2="89.7" stroke="#111" stroke-width="0.8"/>
<line x1="567.4" y1="97.7" x2="569.4" y2="97.7" stroke="#111" stroke-width="0.8"/>
<circle cx="568.4" cy="93.7" r="1.9" fill="#000"/>
<path d="M625.00,62.20 L625.00,62.20 L622.30,62.50 L621.10,62.80 L621.02,63.84 L620.82,64.88 L620.58,65.92 L620.38,66.96 L620.30,68.00 L620.21,69.01 L619.94,70.03 L619.56,71.04 L619.14,72.06 L618.76,73.07 L618.49,74.09 L618.40,75.10 L618.42,76.20 L618.46,77.30 L618.52,78.40 L618.61,79.50 L618.69,80.60 L618.77,81.70 L618.84,82.80 L618.88,83.90 L618.90,85.00 L618.95,86.00 L619.11,87.00 L619.35,88.00 L619.66,89.00 L620.00,90.00 L620.34,91.00 L620.65,92.00 L620.89,93.00 L621.05,94.00 L621.10,95.00 L621.45,96.12 L622.30,97.25 L623.77,98.38 L625.00,99.50 L625.00,99.50 Z" fill="#f9b9b4" stroke="none"/>
<path d="M625.00,62.20 L625.00,62.20 L622.30,62.50 L621.10,62.80 L621.02,63.84 L620.82,64.88 L620.58,65.92 L620.38,66.96 L620.30,68.00 L620.21,69.01 L619.94,70.03 L619.56,71.04 L619.14,72.06 L618.76,73.07 L618.49,74.09 L618.40,75.10 L618.42,76.20 L618.46,77.30 L618.52,78.40 L618.61,79.50 L618.69,80.60 L618.77,81.70 L618.84,82.80 L618.88,83.90 L618.90,85.00 L618.95,86.00 L619.11,87.00 L619.35,88.00 L619.66,89.00 L620.00,90.00 L620.34,91.00 L620.65,92.00 L620.89,93.00 L621.05,94.00 L621.10,95.00 L621.45,96.12 L622.30,97.25 L623.77,98.38 L625.00,99.50 L625.00,99.50" fill="none" stroke="#f04a40" stroke-width="0.8"/>
<path d="M657.70,52.90 L657.70,52.90 L658.58,53.20 L659.45,53.50 L659.49,54.52 L659.61,55.55 L659.80,56.57 L659.87,57.60 L659.97,58.62 L660.08,59.64 L660.20,60.67 L660.33,61.69 L660.48,62.71 L660.63,63.74 L660.77,64.76 L660.92,65.79 L661.07,66.81 L661.20,67.83 L661.32,68.86 L661.43,69.88 L661.53,70.90 L661.60,71.93 L661.66,72.95 L661.69,73.98 L661.70,75.00 L661.71,76.02 L661.72,77.05 L661.75,78.07 L661.79,79.09 L661.84,80.11 L661.91,81.14 L661.98,82.16 L662.06,83.18 L662.15,84.20 L662.24,85.23 L662.34,86.25 L662.45,87.27 L662.56,88.29 L662.68,89.32 L662.79,90.34 L662.91,91.36 L663.02,92.38 L663.14,93.41 L663.25,94.43 L663.36,95.45 L663.46,96.47 L663.55,97.50 L663.64,98.52 L663.72,99.54 L663.79,100.56 L663.86,101.59 L663.91,102.61 L663.95,103.63 L663.98,104.65 L663.99,105.68 L664.00,106.70 L663.98,107.72 L663.92,108.73 L663.83,109.75 L663.70,110.77 L663.54,111.78 L663.35,112.80 L663.14,113.82 L662.93,114.83 L662.70,115.85 L662.47,116.87 L662.26,117.88 L662.05,118.90 L661.86,119.92 L661.70,120.93 L661.57,121.95 L661.48,122.97 L661.42,123.98 L661.40,125.00 L661.38,126.00 L661.33,127.00 L661.24,128.00 L661.12,129.00 L660.98,130.00 L660.81,131.00 L660.64,132.00 L660.46,133.00 L660.29,134.00 L660.12,135.00 L659.98,136.00 L659.86,137.00 L659.71,138.00 L659.52,139.00 L659.45,140.00 L659.28,141.10 L658.85,142.20 L658.30,143.30 L657.87,144.40 L657.70,145.50 L657.70,145.50 Z" fill="#b3b3fb" stroke="none"/>
<path d="M657.70,52.90 L657.70,52.90 L658.58,53.20 L659.45,53.50 L659.49,54.52 L659.61,55.55 L659.80,56.57 L659.87,57.60 L659.97,58.62 L660.08,59.64 L660.20,60.67 L660.33,61.69 L660.48,62.71 L660.63,63.74 L660.77,64.76 L660.92,65.79 L661.07,66.81 L661.20,67.83 L661.32,68.86 L661.43,69.88 L661.53,70.90 L661.60,71.93 L661.66,72.95 L661.69,73.98 L661.70,75.00 L661.71,76.02 L661.72,77.05 L661.75,78.07 L661.79,79.09 L661.84,80.11 L661.91,81.14 L661.98,82.16 L662.06,83.18 L662.15,84.20 L662.24,85.23 L662.34,86.25 L662.45,87.27 L662.56,88.29 L662.68,89.32 L662.79,90.34 L662.91,91.36 L663.02,92.38 L663.14,93.41 L663.25,94.43 L663.36,95.45 L663.46,96.47 L663.55,97.50 L663.64,98.52 L663.72,99.54 L663.79,100.56 L663.86,101.59 L663.91,102.61 L663.95,103.63 L663.98,104.65 L663.99,105.68 L664.00,106.70 L663.98,107.72 L663.92,108.73 L663.83,109.75 L663.70,110.77 L663.54,111.78 L663.35,112.80 L663.14,113.82 L662.93,114.83 L662.70,115.85 L662.47,116.87 L662.26,117.88 L662.05,118.90 L661.86,119.92 L661.70,120.93 L661.57,121.95 L661.48,122.97 L661.42,123.98 L661.40,125.00 L661.38,126.00 L661.33,127.00 L661.24,128.00 L661.12,129.00 L660.98,130.00 L660.81,131.00 L660.64,132.00 L660.46,133.00 L660.29,134.00 L660.12,135.00 L659.98,136.00 L659.86,137.00 L659.71,138.00 L659.52,139.00 L659.45,140.00 L659.28,141.10 L658.85,142.20 L658.30,143.30 L657.87,144.40 L657.70,145.50 L657.70,145.50" fill="none" stroke="#3c3cf0" stroke-width="0.8"/>
<g stroke="#d2d2d2" stroke-width="0.42"><line x1="629.04" y1="62.50" x2="653.50" y2="78.33"/><line x1="627.67" y1="64.27" x2="654.38" y2="84.51"/><line x1="627.69" y1="65.89" x2="653.92" y2="94.09"/><line x1="628.03" y1="66.96" x2="654.11" y2="102.69"/><line x1="629.28" y1="69.12" x2="653.41" y2="79.68"/><line x1="628.00" y1="70.11" x2="654.74" y2="62.74"/><line x1="628.81" y1="71.06" x2="653.44" y2="116.23"/><line x1="629.27" y1="71.71" x2="654.89" y2="69.72"/><line x1="628.75" y1="72.67" x2="654.86" y2="101.28"/><line x1="629.25" y1="73.35" x2="654.22" y2="98.65"/><line x1="628.07" y1="74.48" x2="653.62" y2="123.20"/><line x1="627.88" y1="75.50" x2="654.57" y2="82.88"/><line x1="627.63" y1="75.79" x2="653.77" y2="108.13"/><line x1="628.96" y1="76.38" x2="654.17" y2="103.72"/><line x1="627.79" y1="77.25" x2="653.60" y2="97.61"/><line x1="629.35" y1="78.15" x2="655.16" y2="72.15"/><line x1="628.88" y1="79.33" x2="654.38" y2="53.20"/><line x1="627.94" y1="80.07" x2="654.03" y2="92.00"/><line x1="629.05" y1="80.62" x2="653.57" y2="104.62"/><line x1="627.89" y1="81.18" x2="654.71" y2="115.00"/><line x1="628.52" y1="82.01" x2="654.93" y2="130.21"/><line x1="627.79" y1="82.88" x2="654.93" y2="89.64"/><line x1="629.02" y1="84.21" x2="653.58" y2="75.52"/><line x1="629.20" y1="84.82" x2="654.06" y2="128.27"/><line x1="629.25" y1="86.08" x2="653.94" y2="110.81"/><line x1="627.60" y1="86.89" x2="654.77" y2="96.31"/><line x1="629.13" y1="87.70" x2="653.67" y2="90.34"/><line x1="628.60" y1="88.38" x2="654.49" y2="108.98"/><line x1="629.08" y1="89.72" x2="655.16" y2="112.83"/><line x1="628.50" y1="90.14" x2="654.78" y2="87.56"/><line x1="628.72" y1="91.32" x2="653.41" y2="120.26"/><line x1="628.67" y1="93.31" x2="653.53" y2="107.15"/><line x1="629.04" y1="94.82" x2="653.60" y2="118.73"/><line x1="627.74" y1="99.20" x2="654.65" y2="145.20"/></g>
<line x1="625.0" y1="62.2" x2="625.0" y2="99.5" stroke="#5a5a5a" stroke-width="0.9"/>
<rect x="623.5" y="71.5" width="3" height="16.5" fill="#fff" stroke="#5a5a5a" stroke-width="0.8"/>
<line x1="623.5" y1="77.3" x2="626.5" y2="77.3" stroke="#5a5a5a" stroke-width="0.8"/>
<line x1="657.7" y1="52.9" x2="657.7" y2="145.5" stroke="#5a5a5a" stroke-width="0.9"/>
<rect x="656.2" y="78.0" width="3" height="34.0" fill="#fff" stroke="#5a5a5a" stroke-width="0.8"/>
<line x1="656.2" y1="97.2" x2="659.2" y2="97.2" stroke="#5a5a5a" stroke-width="0.8"/>
<g fill="#f26a62" fill-opacity="0.75" stroke="#f04a40" stroke-width="0.3"><circle cx="629.04" cy="62.50" r="1.15"/><circle cx="627.67" cy="64.27" r="1.15"/><circle cx="627.69" cy="65.89" r="1.15"/><circle cx="628.03" cy="66.96" r="1.15"/><circle cx="629.28" cy="69.12" r="1.15"/><circle cx="628.00" cy="70.11" r="1.15"/><circle cx="628.81" cy="71.06" r="1.15"/><circle cx="629.27" cy="71.71" r="1.15"/><circle cx="628.75" cy="72.67" r="1.15"/><circle cx="629.25" cy="73.35" r="1.15"/><circle cx="628.07" cy="74.48" r="1.15"/><circle cx="627.88" cy="75.50" r="1.15"/><circle cx="627.63" cy="75.79" r="1.15"/><circle cx="628.96" cy="76.38" r="1.15"/><circle cx="627.79" cy="77.25" r="1.15"/><circle cx="629.35" cy="78.15" r="1.15"/><circle cx="628.88" cy="79.33" r="1.15"/><circle cx="627.94" cy="80.07" r="1.15"/><circle cx="629.05" cy="80.62" r="1.15"/><circle cx="627.89" cy="81.18" r="1.15"/><circle cx="628.52" cy="82.01" r="1.15"/><circle cx="627.79" cy="82.88" r="1.15"/><circle cx="629.02" cy="84.21" r="1.15"/><circle cx="629.20" cy="84.82" r="1.15"/><circle cx="629.25" cy="86.08" r="1.15"/><circle cx="627.60" cy="86.89" r="1.15"/><circle cx="629.13" cy="87.70" r="1.15"/><circle cx="628.60" cy="88.38" r="1.15"/><circle cx="629.08" cy="89.72" r="1.15"/><circle cx="628.50" cy="90.14" r="1.15"/><circle cx="628.72" cy="91.32" r="1.15"/><circle cx="628.67" cy="93.31" r="1.15"/><circle cx="629.04" cy="94.82" r="1.15"/><circle cx="627.74" cy="99.20" r="1.15"/></g>
<g fill="#6f6ff2" fill-opacity="0.75" stroke="#3c3cf0" stroke-width="0.3"><circle cx="653.50" cy="78.33" r="1.15"/><circle cx="654.38" cy="84.51" r="1.15"/><circle cx="653.92" cy="94.09" r="1.15"/><circle cx="654.11" cy="102.69" r="1.15"/><circle cx="653.41" cy="79.68" r="1.15"/><circle cx="654.74" cy="62.74" r="1.15"/><circle cx="653.44" cy="116.23" r="1.15"/><circle cx="654.89" cy="69.72" r="1.15"/><circle cx="654.86" cy="101.28" r="1.15"/><circle cx="654.22" cy="98.65" r="1.15"/><circle cx="653.62" cy="123.20" r="1.15"/><circle cx="654.57" cy="82.88" r="1.15"/><circle cx="653.77" cy="108.13" r="1.15"/><circle cx="654.17" cy="103.72" r="1.15"/><circle cx="653.60" cy="97.61" r="1.15"/><circle cx="655.16" cy="72.15" r="1.15"/><circle cx="654.38" cy="53.20" r="1.15"/><circle cx="654.03" cy="92.00" r="1.15"/><circle cx="653.57" cy="104.62" r="1.15"/><circle cx="654.71" cy="115.00" r="1.15"/><circle cx="654.93" cy="130.21" r="1.15"/><circle cx="654.93" cy="89.64" r="1.15"/><circle cx="653.58" cy="75.52" r="1.15"/><circle cx="654.06" cy="128.27" r="1.15"/><circle cx="653.94" cy="110.81" r="1.15"/><circle cx="654.77" cy="96.31" r="1.15"/><circle cx="653.67" cy="90.34" r="1.15"/><circle cx="654.49" cy="108.98" r="1.15"/><circle cx="655.16" cy="112.83" r="1.15"/><circle cx="654.78" cy="87.56" r="1.15"/><circle cx="653.41" cy="120.26" r="1.15"/><circle cx="653.53" cy="107.15" r="1.15"/><circle cx="653.60" cy="118.73" r="1.15"/><circle cx="654.65" cy="145.20" r="1.15"/></g>
<line x1="628.4" y1="79.5" x2="654.2" y2="96.6" stroke="#111" stroke-width="1.3" stroke-dasharray="3.2,2.2"/>
<line x1="628.4" y1="75.5" x2="628.4" y2="83.5" stroke="#111" stroke-width="0.8"/>
<line x1="627.4" y1="75.5" x2="629.4" y2="75.5" stroke="#111" stroke-width="0.8"/>
<line x1="627.4" y1="83.5" x2="629.4" y2="83.5" stroke="#111" stroke-width="0.8"/>
<circle cx="628.4" cy="79.5" r="1.9" fill="#000"/>
<line x1="654.2" y1="92.6" x2="654.2" y2="100.6" stroke="#111" stroke-width="0.8"/>
<line x1="653.2" y1="92.6" x2="655.2" y2="92.6" stroke="#111" stroke-width="0.8"/>
<line x1="653.2" y1="100.6" x2="655.2" y2="100.6" stroke="#111" stroke-width="0.8"/>
<circle cx="654.2" cy="96.6" r="1.9" fill="#000"/>
<text x="0" y="0" font-size="12.5" font-weight="bold" fill="#000" stroke="#000" stroke-width="0.25" transform="translate(4.41 222.00) scale(0.904 1)">E</text>
<line x1="50.0" y1="225.1" x2="50.0" y2="375.3" stroke="#333" stroke-width="1"/>
<line x1="47.5" y1="244.6" x2="50.0" y2="244.6" stroke="#333" stroke-width="0.9"/>
<text x="45.70" y="248.20" font-size="10" fill="#333" text-anchor="end" stroke="#333" stroke-width="0.1" >0.8</text>
<line x1="47.5" y1="269.5" x2="50.0" y2="269.5" stroke="#333" stroke-width="0.9"/>
<text x="45.70" y="273.10" font-size="10" fill="#333" text-anchor="end" stroke="#333" stroke-width="0.1" >0.6</text>
<line x1="47.5" y1="294.4" x2="50.0" y2="294.4" stroke="#333" stroke-width="0.9"/>
<text x="45.70" y="298.00" font-size="10" fill="#333" text-anchor="end" stroke="#333" stroke-width="0.1" >0.4</text>
<line x1="47.5" y1="319.2" x2="50.0" y2="319.2" stroke="#333" stroke-width="0.9"/>
<text x="45.70" y="322.80" font-size="10" fill="#333" text-anchor="end" stroke="#333" stroke-width="0.1" >0.2</text>
<line x1="47.5" y1="344.2" x2="50.0" y2="344.2" stroke="#333" stroke-width="0.9"/>
<text x="45.70" y="347.80" font-size="10" fill="#333" text-anchor="end" stroke="#333" stroke-width="0.1" >0.0</text>
<line x1="47.5" y1="369.3" x2="50.0" y2="369.3" stroke="#333" stroke-width="0.9"/>
<text x="45.70" y="372.90" font-size="10" fill="#333" text-anchor="end" stroke="#333" stroke-width="0.1" >-0.2</text>
<line x1="50.0" y1="375.1" x2="130.4" y2="375.1" stroke="#333" stroke-width="1"/>
<line x1="80.7" y1="375.1" x2="80.7" y2="377.6" stroke="#333" stroke-width="0.9"/>
<text x="80.70" y="387.50" font-size="10" fill="#333" text-anchor="middle" stroke="#333" stroke-width="0.1" >HSC</text>
<line x1="106.8" y1="375.1" x2="106.8" y2="377.6" stroke="#333" stroke-width="0.9"/>
<text x="106.80" y="387.50" font-size="10" fill="#333" text-anchor="middle" stroke="#333" stroke-width="0.1" >LSC</text>
<line x1="135.8" y1="375.1" x2="216.8" y2="375.1" stroke="#333" stroke-width="1"/>
<line x1="166.0" y1="375.1" x2="166.0" y2="377.6" stroke="#333" stroke-width="0.9"/>
<text x="166.00" y="387.50" font-size="10" fill="#333" text-anchor="middle" stroke="#333" stroke-width="0.1" >HSC</text>
<line x1="192.7" y1="375.1" x2="192.7" y2="377.6" stroke="#333" stroke-width="0.9"/>
<text x="192.70" y="387.50" font-size="10" fill="#333" text-anchor="middle" stroke="#333" stroke-width="0.1" >LSC</text>
<text x="23.90" y="300.50" font-size="9.5" fill="#222" text-anchor="middle" stroke="#222" stroke-width="0.12" textLength="74.5" lengthAdjust="spacingAndGlyphs" transform="rotate(-90 23.90 300.50)" >Pattern Similarity</text>
<text x="94.70" y="400.40" font-size="8.8" fill="#222" text-anchor="middle" stroke="#222" stroke-width="0.22" textLength="73.5" lengthAdjust="spacingAndGlyphs" >Learning (<tspan font-style="italic">phase 1</tspan>)</text>
<text x="178.10" y="400.40" font-size="8.8" fill="#222" text-anchor="middle" stroke="#222" stroke-width="0.22" textLength="72.2" lengthAdjust="spacingAndGlyphs" >Creating (<tspan font-style="italic">phase 2</tspan>)</text>
<text x="139.20" y="416.40" font-size="8.8" fill="#222" text-anchor="middle" stroke="#222" stroke-width="0.22" font-style="italic" textLength="87.4" lengthAdjust="spacingAndGlyphs" >Uncompressed Spaces</text>
<line x1="77.0" y1="241.1" x2="110.8" y2="241.1" stroke="#666" stroke-width="1.3"/>
<path d="M90.30,233.15 L90.30,236.65 M91.82,234.03 L88.78,235.78 M91.82,235.78 L88.78,234.03 " stroke="#000" stroke-width="1.25" stroke-linecap="round"/>
<circle cx="90.3" cy="234.9" r="1.0" fill="#000"/>
<path d="M94.60,233.15 L94.60,236.65 M96.12,234.03 L93.08,235.78 M96.12,235.78 L93.08,234.03 " stroke="#000" stroke-width="1.25" stroke-linecap="round"/>
<circle cx="94.6" cy="234.9" r="1.0" fill="#000"/>
<path d="M99.00,233.15 L99.00,236.65 M100.52,234.03 L97.48,235.78 M100.52,235.78 L97.48,234.03 " stroke="#000" stroke-width="1.25" stroke-linecap="round"/>
<circle cx="99.0" cy="234.9" r="1.0" fill="#000"/>
<line x1="162.0" y1="246.9" x2="195.8" y2="246.9" stroke="#777" stroke-width="1.3"/>
<text x="179.10" y="244.50" font-size="9.2" fill="#111" text-anchor="middle" stroke="#111" stroke-width="0.3" font-style="italic" textLength="12.5" lengthAdjust="spacingAndGlyphs" >n.s.</text>
<path d="M77.90,246.80 L77.90,246.80 L76.50,247.15 L75.60,247.50 L75.59,248.52 L75.56,249.54 L75.51,250.55 L75.45,251.57 L75.39,252.59 L75.31,253.61 L75.25,254.63 L75.19,255.65 L75.14,256.66 L75.11,257.68 L75.10,258.70 L75.03,259.73 L74.82,260.77 L74.48,261.80 L74.05,262.83 L73.54,263.87 L73.00,264.90 L72.46,265.93 L71.95,266.97 L71.52,268.00 L71.18,269.03 L70.97,270.07 L70.90,271.10 L70.93,272.13 L71.01,273.17 L71.12,274.20 L71.27,275.23 L71.43,276.27 L71.58,277.30 L71.69,278.33 L71.77,279.37 L71.80,280.40 L71.84,281.44 L71.96,282.48 L72.16,283.52 L72.43,284.56 L72.75,285.60 L73.11,286.64 L73.50,287.68 L73.90,288.72 L74.29,289.76 L74.65,290.80 L74.97,291.84 L75.24,292.88 L75.44,293.92 L75.56,294.96 L75.60,296.00 L75.61,297.00 L75.62,298.00 L75.65,299.00 L75.69,300.00 L75.74,301.00 L75.80,302.00 L76.02,303.00 L76.26,304.00 L76.50,305.00 L76.74,306.00 L76.98,307.00 L77.20,308.00 L77.40,309.00 L77.57,310.00 L77.71,311.00 L77.82,312.00 L77.88,313.00 L77.90,314.00 L77.90,314.00 Z" fill="#f9b9b4" stroke="none"/>
<path d="M77.90,246.80 L77.90,246.80 L76.50,247.15 L75.60,247.50 L75.59,248.52 L75.56,249.54 L75.51,250.55 L75.45,251.57 L75.39,252.59 L75.31,253.61 L75.25,254.63 L75.19,255.65 L75.14,256.66 L75.11,257.68 L75.10,258.70 L75.03,259.73 L74.82,260.77 L74.48,261.80 L74.05,262.83 L73.54,263.87 L73.00,264.90 L72.46,265.93 L71.95,266.97 L71.52,268.00 L71.18,269.03 L70.97,270.07 L70.90,271.10 L70.93,272.13 L71.01,273.17 L71.12,274.20 L71.27,275.23 L71.43,276.27 L71.58,277.30 L71.69,278.33 L71.77,279.37 L71.80,280.40 L71.84,281.44 L71.96,282.48 L72.16,283.52 L72.43,284.56 L72.75,285.60 L73.11,286.64 L73.50,287.68 L73.90,288.72 L74.29,289.76 L74.65,290.80 L74.97,291.84 L75.24,292.88 L75.44,293.92 L75.56,294.96 L75.60,296.00 L75.61,297.00 L75.62,298.00 L75.65,299.00 L75.69,300.00 L75.74,301.00 L75.80,302.00 L76.02,303.00 L76.26,304.00 L76.50,305.00 L76.74,306.00 L76.98,307.00 L77.20,308.00 L77.40,309.00 L77.57,310.00 L77.71,311.00 L77.82,312.00 L77.88,313.00 L77.90,314.00 L77.90,314.00" fill="none" stroke="#f04a40" stroke-width="0.8"/>
<path d="M109.80,260.20 L109.80,260.20 L112.80,261.10 L114.30,262.00 L114.35,263.01 L114.50,264.02 L114.72,265.03 L115.00,266.04 L115.30,267.06 L115.58,268.07 L115.80,269.08 L115.95,270.09 L116.00,271.10 L115.99,272.14 L115.97,273.18 L115.94,274.22 L115.90,275.26 L115.85,276.30 L115.79,277.34 L115.73,278.38 L115.67,279.42 L115.61,280.46 L115.55,281.50 L115.50,282.54 L115.46,283.58 L115.43,284.62 L115.41,285.66 L115.40,286.70 L115.38,287.73 L115.32,288.77 L115.22,289.80 L115.09,290.83 L114.92,291.87 L114.74,292.90 L114.55,293.93 L114.35,294.97 L114.16,296.00 L113.97,297.03 L113.81,298.07 L113.68,299.10 L113.58,300.13 L113.52,301.17 L113.50,302.20 L113.49,303.24 L113.46,304.28 L113.41,305.32 L113.34,306.36 L113.25,307.39 L113.15,308.43 L113.04,309.47 L112.92,310.51 L112.80,311.55 L112.68,312.59 L112.56,313.63 L112.45,314.67 L112.35,315.71 L112.26,316.74 L112.19,317.78 L112.14,318.82 L112.11,319.86 L112.10,320.90 L112.10,321.91 L112.08,322.91 L112.06,323.92 L112.03,324.92 L112.00,325.93 L111.95,326.93 L111.91,327.94 L111.74,328.94 L111.56,329.95 L111.37,330.95 L111.18,331.96 L111.01,332.96 L110.84,333.97 L110.69,334.97 L110.56,335.98 L110.46,336.98 L110.39,337.99 L110.34,338.99 L110.33,340.00 L110.32,341.04 L110.31,342.08 L110.29,343.13 L110.27,344.17 L110.24,345.21 L110.21,346.25 L110.17,347.29 L110.13,348.34 L110.08,349.38 L110.04,350.42 L110.00,351.46 L109.96,352.51 L109.92,353.55 L109.88,354.59 L109.86,355.63 L109.83,356.67 L109.81,357.72 L109.80,358.76 L109.80,359.80 L109.80,359.80 Z" fill="#b3b3fb" stroke="none"/>
<path d="M109.80,260.20 L109.80,260.20 L112.80,261.10 L114.30,262.00 L114.35,263.01 L114.50,264.02 L114.72,265.03 L115.00,266.04 L115.30,267.06 L115.58,268.07 L115.80,269.08 L115.95,270.09 L116.00,271.10 L115.99,272.14 L115.97,273.18 L115.94,274.22 L115.90,275.26 L115.85,276.30 L115.79,277.34 L115.73,278.38 L115.67,279.42 L115.61,280.46 L115.55,281.50 L115.50,282.54 L115.46,283.58 L115.43,284.62 L115.41,285.66 L115.40,286.70 L115.38,287.73 L115.32,288.77 L115.22,289.80 L115.09,290.83 L114.92,291.87 L114.74,292.90 L114.55,293.93 L114.35,294.97 L114.16,296.00 L113.97,297.03 L113.81,298.07 L113.68,299.10 L113.58,300.13 L113.52,301.17 L113.50,302.20 L113.49,303.24 L113.46,304.28 L113.41,305.32 L113.34,306.36 L113.25,307.39 L113.15,308.43 L113.04,309.47 L112.92,310.51 L112.80,311.55 L112.68,312.59 L112.56,313.63 L112.45,314.67 L112.35,315.71 L112.26,316.74 L112.19,317.78 L112.14,318.82 L112.11,319.86 L112.10,320.90 L112.10,321.91 L112.08,322.91 L112.06,323.92 L112.03,324.92 L112.00,325.93 L111.95,326.93 L111.91,327.94 L111.74,328.94 L111.56,329.95 L111.37,330.95 L111.18,331.96 L111.01,332.96 L110.84,333.97 L110.69,334.97 L110.56,335.98 L110.46,336.98 L110.39,337.99 L110.34,338.99 L110.33,340.00 L110.32,341.04 L110.31,342.08 L110.29,343.13 L110.27,344.17 L110.24,345.21 L110.21,346.25 L110.17,347.29 L110.13,348.34 L110.08,349.38 L110.04,350.42 L110.00,351.46 L109.96,352.51 L109.92,353.55 L109.88,354.59 L109.86,355.63 L109.83,356.67 L109.81,357.72 L109.80,358.76 L109.80,359.80 L109.80,359.80" fill="none" stroke="#3c3cf0" stroke-width="0.8"/>
<g stroke="#d2d2d2" stroke-width="0.42"><line x1="80.48" y1="247.10" x2="107.43" y2="307.44"/><line x1="80.85" y1="254.42" x2="106.13" y2="273.69"/><line x1="81.04" y1="257.81" x2="107.63" y2="270.17"/><line x1="81.54" y1="260.88" x2="106.55" y2="276.30"/><line x1="81.10" y1="263.41" x2="107.20" y2="271.99"/><line x1="81.61" y1="264.93" x2="106.15" y2="286.55"/><line x1="80.47" y1="266.38" x2="107.32" y2="288.88"/><line x1="81.98" y1="267.22" x2="106.35" y2="284.95"/><line x1="80.92" y1="268.20" x2="106.56" y2="263.50"/><line x1="81.80" y1="269.16" x2="106.84" y2="281.42"/><line x1="80.36" y1="269.94" x2="106.10" y2="288.49"/><line x1="81.79" y1="270.66" x2="106.35" y2="292.56"/><line x1="80.71" y1="270.97" x2="107.33" y2="268.15"/><line x1="81.84" y1="272.25" x2="106.41" y2="279.24"/><line x1="81.75" y1="273.19" x2="106.59" y2="274.93"/><line x1="81.51" y1="273.70" x2="107.28" y2="277.46"/><line x1="80.80" y1="274.88" x2="106.30" y2="282.14"/><line x1="80.32" y1="275.20" x2="106.25" y2="290.83"/><line x1="80.64" y1="276.69" x2="106.29" y2="326.66"/><line x1="81.93" y1="277.19" x2="106.59" y2="278.44"/><line x1="80.58" y1="278.34" x2="106.56" y2="266.48"/><line x1="81.49" y1="278.90" x2="107.05" y2="271.42"/><line x1="81.36" y1="279.90" x2="106.75" y2="315.75"/><line x1="81.49" y1="280.90" x2="107.47" y2="296.70"/><line x1="80.63" y1="281.85" x2="105.99" y2="301.37"/><line x1="80.56" y1="282.64" x2="107.09" y2="294.09"/><line x1="80.47" y1="284.00" x2="107.41" y2="311.04"/><line x1="82.07" y1="285.70" x2="106.32" y2="303.45"/><line x1="80.99" y1="286.60" x2="105.95" y2="359.50"/><line x1="81.47" y1="288.47" x2="106.69" y2="260.50"/><line x1="81.33" y1="290.12" x2="106.11" y2="306.83"/><line x1="80.70" y1="293.29" x2="106.73" y2="265.48"/><line x1="80.42" y1="299.38" x2="107.18" y2="297.83"/><line x1="80.33" y1="313.70" x2="106.07" y2="283.89"/></g>
<line x1="77.9" y1="246.8" x2="77.9" y2="314.0" stroke="#5a5a5a" stroke-width="0.9"/>
<rect x="76.4" y="272.0" width="3" height="15.399999999999977" fill="#fff" stroke="#5a5a5a" stroke-width="0.8"/>
<line x1="76.4" y1="279.0" x2="79.4" y2="279.0" stroke="#5a5a5a" stroke-width="0.8"/>
<line x1="109.8" y1="260.2" x2="109.8" y2="360.7" stroke="#5a5a5a" stroke-width="0.9"/>
<rect x="108.3" y="273.6" width="3" height="27.19999999999999" fill="#fff" stroke="#5a5a5a" stroke-width="0.8"/>
<line x1="108.3" y1="287.0" x2="111.3" y2="287.0" stroke="#5a5a5a" stroke-width="0.8"/>
<g fill="#f26a62" fill-opacity="0.75" stroke="#f04a40" stroke-width="0.3"><circle cx="80.48" cy="247.10" r="1.15"/><circle cx="80.85" cy="254.42" r="1.15"/><circle cx="81.04" cy="257.81" r="1.15"/><circle cx="81.54" cy="260.88" r="1.15"/><circle cx="81.10" cy="263.41" r="1.15"/><circle cx="81.61" cy="264.93" r="1.15"/><circle cx="80.47" cy="266.38" r="1.15"/><circle cx="81.98" cy="267.22" r="1.15"/><circle cx="80.92" cy="268.20" r="1.15"/><circle cx="81.80" cy="269.16" r="1.15"/><circle cx="80.36" cy="269.94" r="1.15"/><circle cx="81.79" cy="270.66" r="1.15"/><circle cx="80.71" cy="270.97" r="1.15"/><circle cx="81.84" cy="272.25" r="1.15"/><circle cx="81.75" cy="273.19" r="1.15"/><circle cx="81.51" cy="273.70" r="1.15"/><circle cx="80.80" cy="274.88" r="1.15"/><circle cx="80.32" cy="275.20" r="1.15"/><circle cx="80.64" cy="276.69" r="1.15"/><circle cx="81.93" cy="277.19" r="1.15"/><circle cx="80.58" cy="278.34" r="1.15"/><circle cx="81.49" cy="278.90" r="1.15"/><circle cx="81.36" cy="279.90" r="1.15"/><circle cx="81.49" cy="280.90" r="1.15"/><circle cx="80.63" cy="281.85" r="1.15"/><circle cx="80.56" cy="282.64" r="1.15"/><circle cx="80.47" cy="284.00" r="1.15"/><circle cx="82.07" cy="285.70" r="1.15"/><circle cx="80.99" cy="286.60" r="1.15"/><circle cx="81.47" cy="288.47" r="1.15"/><circle cx="81.33" cy="290.12" r="1.15"/><circle cx="80.70" cy="293.29" r="1.15"/><circle cx="80.42" cy="299.38" r="1.15"/><circle cx="80.33" cy="313.70" r="1.15"/></g>
<g fill="#6f6ff2" fill-opacity="0.75" stroke="#3c3cf0" stroke-width="0.3"><circle cx="107.43" cy="307.44" r="1.15"/><circle cx="106.13" cy="273.69" r="1.15"/><circle cx="107.63" cy="270.17" r="1.15"/><circle cx="106.55" cy="276.30" r="1.15"/><circle cx="107.20" cy="271.99" r="1.15"/><circle cx="106.15" cy="286.55" r="1.15"/><circle cx="107.32" cy="288.88" r="1.15"/><circle cx="106.35" cy="284.95" r="1.15"/><circle cx="106.56" cy="263.50" r="1.15"/><circle cx="106.84" cy="281.42" r="1.15"/><circle cx="106.10" cy="288.49" r="1.15"/><circle cx="106.35" cy="292.56" r="1.15"/><circle cx="107.33" cy="268.15" r="1.15"/><circle cx="106.41" cy="279.24" r="1.15"/><circle cx="106.59" cy="274.93" r="1.15"/><circle cx="107.28" cy="277.46" r="1.15"/><circle cx="106.30" cy="282.14" r="1.15"/><circle cx="106.25" cy="290.83" r="1.15"/><circle cx="106.29" cy="326.66" r="1.15"/><circle cx="106.59" cy="278.44" r="1.15"/><circle cx="106.56" cy="266.48" r="1.15"/><circle cx="107.05" cy="271.42" r="1.15"/><circle cx="106.75" cy="315.75" r="1.15"/><circle cx="107.47" cy="296.70" r="1.15"/><circle cx="105.99" cy="301.37" r="1.15"/><circle cx="107.09" cy="294.09" r="1.15"/><circle cx="107.41" cy="311.04" r="1.15"/><circle cx="106.32" cy="303.45" r="1.15"/><circle cx="105.95" cy="359.50" r="1.15"/><circle cx="106.69" cy="260.50" r="1.15"/><circle cx="106.11" cy="306.83" r="1.15"/><circle cx="106.73" cy="265.48" r="1.15"/><circle cx="107.18" cy="297.83" r="1.15"/><circle cx="106.07" cy="283.89" r="1.15"/></g>
<line x1="81.2" y1="279.3" x2="106.6" y2="291.2" stroke="#111" stroke-width="1.3" stroke-dasharray="3.2,2.2"/>
<line x1="81.2" y1="275.3" x2="81.2" y2="283.3" stroke="#111" stroke-width="0.8"/>
<line x1="80.2" y1="275.3" x2="82.2" y2="275.3" stroke="#111" stroke-width="0.8"/>
<line x1="80.2" y1="283.3" x2="82.2" y2="283.3" stroke="#111" stroke-width="0.8"/>
<circle cx="81.2" cy="279.3" r="1.9" fill="#000"/>
<line x1="106.6" y1="287.2" x2="106.6" y2="295.2" stroke="#111" stroke-width="0.8"/>
<line x1="105.6" y1="287.2" x2="107.6" y2="287.2" stroke="#111" stroke-width="0.8"/>
<line x1="105.6" y1="295.2" x2="107.6" y2="295.2" stroke="#111" stroke-width="0.8"/>
<circle cx="106.6" cy="291.2" r="1.9" fill="#000"/>
<path d="M163.80,256.90 L163.80,256.90 L162.93,257.45 L162.05,258.00 L161.80,259.06 L161.52,260.12 L161.21,261.19 L160.85,262.25 L160.49,263.31 L160.18,264.38 L159.97,265.44 L159.90,266.50 L159.84,267.50 L159.68,268.50 L159.42,269.50 L159.08,270.50 L158.68,271.50 L158.25,272.50 L157.82,273.50 L157.43,274.50 L157.08,275.50 L156.82,276.50 L156.66,277.50 L156.60,278.50 L156.67,279.56 L156.88,280.61 L157.20,281.67 L157.59,282.72 L158.01,283.78 L158.40,284.83 L158.72,285.89 L158.93,286.94 L159.00,288.00 L159.02,289.04 L159.06,290.09 L159.13,291.13 L159.23,292.18 L159.36,293.22 L159.49,294.26 L159.64,295.31 L159.80,296.35 L159.96,297.39 L160.11,298.44 L160.24,299.48 L160.37,300.52 L160.47,301.57 L160.54,302.61 L160.58,303.66 L160.60,304.70 L160.61,305.71 L160.63,306.72 L160.67,307.73 L160.73,308.74 L160.79,309.75 L160.87,310.76 L160.96,311.77 L161.05,312.78 L161.15,313.79 L161.25,314.81 L161.35,315.82 L161.44,316.83 L161.53,317.84 L161.61,318.85 L161.67,319.86 L161.80,320.87 L161.94,321.88 L162.02,322.89 L162.05,323.90 L162.08,324.94 L162.15,325.98 L162.27,327.02 L162.43,328.05 L162.61,329.09 L162.82,330.13 L163.03,331.17 L163.24,332.21 L163.42,333.25 L163.58,334.28 L163.70,335.32 L163.77,336.36 L163.80,337.40 L163.80,337.40 Z" fill="#f9b9b4" stroke="none"/>
<path d="M163.80,256.90 L163.80,256.90 L162.93,257.45 L162.05,258.00 L161.80,259.06 L161.52,260.12 L161.21,261.19 L160.85,262.25 L160.49,263.31 L160.18,264.38 L159.97,265.44 L159.90,266.50 L159.84,267.50 L159.68,268.50 L159.42,269.50 L159.08,270.50 L158.68,271.50 L158.25,272.50 L157.82,273.50 L157.43,274.50 L157.08,275.50 L156.82,276.50 L156.66,277.50 L156.60,278.50 L156.67,279.56 L156.88,280.61 L157.20,281.67 L157.59,282.72 L158.01,283.78 L158.40,284.83 L158.72,285.89 L158.93,286.94 L159.00,288.00 L159.02,289.04 L159.06,290.09 L159.13,291.13 L159.23,292.18 L159.36,293.22 L159.49,294.26 L159.64,295.31 L159.80,296.35 L159.96,297.39 L160.11,298.44 L160.24,299.48 L160.37,300.52 L160.47,301.57 L160.54,302.61 L160.58,303.66 L160.60,304.70 L160.61,305.71 L160.63,306.72 L160.67,307.73 L160.73,308.74 L160.79,309.75 L160.87,310.76 L160.96,311.77 L161.05,312.78 L161.15,313.79 L161.25,314.81 L161.35,315.82 L161.44,316.83 L161.53,317.84 L161.61,318.85 L161.67,319.86 L161.80,320.87 L161.94,321.88 L162.02,322.89 L162.05,323.90 L162.08,324.94 L162.15,325.98 L162.27,327.02 L162.43,328.05 L162.61,329.09 L162.82,330.13 L163.03,331.17 L163.24,332.21 L163.42,333.25 L163.58,334.28 L163.70,335.32 L163.77,336.36 L163.80,337.40 L163.80,337.40" fill="none" stroke="#f04a40" stroke-width="0.8"/>
<path d="M196.00,257.70 L196.00,257.70 L196.88,258.10 L197.75,258.50 L197.91,259.56 L198.18,260.61 L198.38,261.67 L198.62,262.72 L198.88,263.78 L199.12,264.83 L199.32,265.89 L199.45,266.94 L199.50,268.00 L199.53,269.00 L199.62,270.00 L199.77,271.00 L199.96,272.00 L200.20,273.00 L200.47,274.00 L200.75,275.00 L201.05,276.00 L201.33,277.00 L201.60,278.00 L201.84,279.00 L202.03,280.00 L202.18,281.00 L202.27,282.00 L202.30,283.00 L202.28,284.00 L202.24,285.00 L202.17,286.00 L202.07,287.00 L201.94,288.00 L201.80,289.00 L201.65,290.00 L201.48,291.00 L201.32,292.00 L201.15,293.00 L201.00,294.00 L200.86,295.00 L200.73,296.00 L200.63,297.00 L200.56,298.00 L200.52,299.00 L200.50,300.00 L200.48,301.00 L200.42,302.00 L200.33,303.00 L200.20,304.00 L200.05,305.00 L199.88,306.00 L199.69,307.00 L199.51,308.00 L199.32,309.00 L199.15,310.00 L199.00,311.00 L198.87,312.00 L198.78,313.00 L198.72,314.00 L198.70,315.00 L198.65,316.07 L198.52,317.15 L198.33,318.23 L198.10,319.30 L197.30,320.38 L196.62,321.45 L196.16,322.53 L196.00,323.60 L196.00,323.60 Z" fill="#b3b3fb" stroke="none"/>
<path d="M196.00,257.70 L196.00,257.70 L196.88,258.10 L197.75,258.50 L197.91,259.56 L198.18,260.61 L198.38,261.67 L198.62,262.72 L198.88,263.78 L199.12,264.83 L199.32,265.89 L199.45,266.94 L199.50,268.00 L199.53,269.00 L199.62,270.00 L199.77,271.00 L199.96,272.00 L200.20,273.00 L200.47,274.00 L200.75,275.00 L201.05,276.00 L201.33,277.00 L201.60,278.00 L201.84,279.00 L202.03,280.00 L202.18,281.00 L202.27,282.00 L202.30,283.00 L202.28,284.00 L202.24,285.00 L202.17,286.00 L202.07,287.00 L201.94,288.00 L201.80,289.00 L201.65,290.00 L201.48,291.00 L201.32,292.00 L201.15,293.00 L201.00,294.00 L200.86,295.00 L200.73,296.00 L200.63,297.00 L200.56,298.00 L200.52,299.00 L200.50,300.00 L200.48,301.00 L200.42,302.00 L200.33,303.00 L200.20,304.00 L200.05,305.00 L199.88,306.00 L199.69,307.00 L199.51,308.00 L199.32,309.00 L199.15,310.00 L199.00,311.00 L198.87,312.00 L198.78,313.00 L198.72,314.00 L198.70,315.00 L198.65,316.07 L198.52,317.15 L198.33,318.23 L198.10,319.30 L197.30,320.38 L196.62,321.45 L196.16,322.53 L196.00,323.60 L196.00,323.60" fill="none" stroke="#3c3cf0" stroke-width="0.8"/>
<g stroke="#d2d2d2" stroke-width="0.42"><line x1="167.38" y1="257.20" x2="192.95" y2="267.22"/><line x1="166.35" y1="264.23" x2="192.68" y2="278.95"/><line x1="166.53" y1="265.84" x2="192.42" y2="258.00"/><line x1="166.32" y1="268.01" x2="191.71" y2="272.47"/><line x1="167.83" y1="270.15" x2="191.94" y2="265.16"/><line x1="166.37" y1="271.23" x2="192.68" y2="278.31"/><line x1="166.35" y1="272.50" x2="192.56" y2="275.11"/><line x1="167.04" y1="273.95" x2="192.94" y2="290.52"/><line x1="167.15" y1="275.08" x2="193.12" y2="282.61"/><line x1="167.70" y1="276.42" x2="193.23" y2="273.77"/><line x1="166.20" y1="277.02" x2="191.85" y2="323.30"/><line x1="166.52" y1="277.52" x2="191.64" y2="295.85"/><line x1="166.40" y1="278.53" x2="193.12" y2="284.62"/><line x1="167.15" y1="279.83" x2="192.53" y2="280.48"/><line x1="166.91" y1="280.59" x2="191.83" y2="309.70"/><line x1="166.84" y1="281.81" x2="192.75" y2="293.71"/><line x1="167.70" y1="282.93" x2="191.96" y2="302.26"/><line x1="167.29" y1="283.95" x2="191.93" y2="312.05"/><line x1="167.65" y1="284.35" x2="192.16" y2="300.16"/><line x1="167.82" y1="286.72" x2="192.44" y2="298.01"/><line x1="166.58" y1="287.65" x2="192.72" y2="277.25"/><line x1="167.80" y1="288.77" x2="191.63" y2="285.75"/><line x1="166.83" y1="290.21" x2="192.83" y2="291.52"/><line x1="166.19" y1="292.82" x2="192.62" y2="271.37"/><line x1="167.75" y1="293.52" x2="192.35" y2="304.71"/><line x1="166.29" y1="295.10" x2="192.71" y2="306.38"/><line x1="166.13" y1="297.42" x2="192.94" y2="296.38"/><line x1="166.62" y1="301.25" x2="191.52" y2="281.78"/><line x1="166.62" y1="302.87" x2="192.36" y2="302.71"/><line x1="167.84" y1="306.53" x2="192.72" y2="292.95"/><line x1="167.67" y1="307.77" x2="192.78" y2="287.43"/><line x1="166.86" y1="312.32" x2="192.67" y2="283.35"/><line x1="167.05" y1="316.32" x2="191.82" y2="286.85"/><line x1="167.63" y1="337.10" x2="193.23" y2="289.20"/></g>
<line x1="163.8" y1="256.9" x2="163.8" y2="337.4" stroke="#5a5a5a" stroke-width="0.9"/>
<rect x="162.3" y="278.4" width="3" height="29.5" fill="#fff" stroke="#5a5a5a" stroke-width="0.8"/>
<line x1="162.3" y1="284.0" x2="165.3" y2="284.0" stroke="#5a5a5a" stroke-width="0.8"/>
<line x1="196.0" y1="257.7" x2="196.0" y2="323.6" stroke="#5a5a5a" stroke-width="0.9"/>
<rect x="194.5" y="281.4" width="3" height="23.30000000000001" fill="#fff" stroke="#5a5a5a" stroke-width="0.8"/>
<line x1="194.5" y1="290.2" x2="197.5" y2="290.2" stroke="#5a5a5a" stroke-width="0.8"/>
<g fill="#f26a62" fill-opacity="0.75" stroke="#f04a40" stroke-width="0.3"><circle cx="167.38" cy="257.20" r="1.15"/><circle cx="166.35" cy="264.23" r="1.15"/><circle cx="166.53" cy="265.84" r="1.15"/><circle cx="166.32" cy="268.01" r="1.15"/><circle cx="167.83" cy="270.15" r="1.15"/><circle cx="166.37" cy="271.23" r="1.15"/><circle cx="166.35" cy="272.50" r="1.15"/><circle cx="167.04" cy="273.95" r="1.15"/><circle cx="167.15" cy="275.08" r="1.15"/><circle cx="167.70" cy="276.42" r="1.15"/><circle cx="166.20" cy="277.02" r="1.15"/><circle cx="166.52" cy="277.52" r="1.15"/><circle cx="166.40" cy="278.53" r="1.15"/><circle cx="167.15" cy="279.83" r="1.15"/><circle cx="166.91" cy="280.59" r="1.15"/><circle cx="166.84" cy="281.81" r="1.15"/><circle cx="167.70" cy="282.93" r="1.15"/><circle cx="167.29" cy="283.95" r="1.15"/><circle cx="167.65" cy="284.35" r="1.15"/><circle cx="167.82" cy="286.72" r="1.15"/><circle cx="166.58" cy="287.65" r="1.15"/><circle cx="167.80" cy="288.77" r="1.15"/><circle cx="166.83" cy="290.21" r="1.15"/><circle cx="166.19" cy="292.82" r="1.15"/><circle cx="167.75" cy="293.52" r="1.15"/><circle cx="166.29" cy="295.10" r="1.15"/><circle cx="166.13" cy="297.42" r="1.15"/><circle cx="166.62" cy="301.25" r="1.15"/><circle cx="166.62" cy="302.87" r="1.15"/><circle cx="167.84" cy="306.53" r="1.15"/><circle cx="167.67" cy="307.77" r="1.15"/><circle cx="166.86" cy="312.32" r="1.15"/><circle cx="167.05" cy="316.32" r="1.15"/><circle cx="167.63" cy="337.10" r="1.15"/></g>
<g fill="#6f6ff2" fill-opacity="0.75" stroke="#3c3cf0" stroke-width="0.3"><circle cx="192.95" cy="267.22" r="1.15"/><circle cx="192.68" cy="278.95" r="1.15"/><circle cx="192.42" cy="258.00" r="1.15"/><circle cx="191.71" cy="272.47" r="1.15"/><circle cx="191.94" cy="265.16" r="1.15"/><circle cx="192.68" cy="278.31" r="1.15"/><circle cx="192.56" cy="275.11" r="1.15"/><circle cx="192.94" cy="290.52" r="1.15"/><circle cx="193.12" cy="282.61" r="1.15"/><circle cx="193.23" cy="273.77" r="1.15"/><circle cx="191.85" cy="323.30" r="1.15"/><circle cx="191.64" cy="295.85" r="1.15"/><circle cx="193.12" cy="284.62" r="1.15"/><circle cx="192.53" cy="280.48" r="1.15"/><circle cx="191.83" cy="309.70" r="1.15"/><circle cx="192.75" cy="293.71" r="1.15"/><circle cx="191.96" cy="302.26" r="1.15"/><circle cx="191.93" cy="312.05" r="1.15"/><circle cx="192.16" cy="300.16" r="1.15"/><circle cx="192.44" cy="298.01" r="1.15"/><circle cx="192.72" cy="277.25" r="1.15"/><circle cx="191.63" cy="285.75" r="1.15"/><circle cx="192.83" cy="291.52" r="1.15"/><circle cx="192.62" cy="271.37" r="1.15"/><circle cx="192.35" cy="304.71" r="1.15"/><circle cx="192.71" cy="306.38" r="1.15"/><circle cx="192.94" cy="296.38" r="1.15"/><circle cx="191.52" cy="281.78" r="1.15"/><circle cx="192.36" cy="302.71" r="1.15"/><circle cx="192.72" cy="292.95" r="1.15"/><circle cx="192.78" cy="287.43" r="1.15"/><circle cx="192.67" cy="283.35" r="1.15"/><circle cx="191.82" cy="286.85" r="1.15"/><circle cx="193.23" cy="289.20" r="1.15"/></g>
<line x1="166.9" y1="293.5" x2="192.3" y2="292.4" stroke="#111" stroke-width="1.3" stroke-dasharray="3.2,2.2"/>
<line x1="166.9" y1="289.5" x2="166.9" y2="297.5" stroke="#111" stroke-width="0.8"/>
<line x1="165.9" y1="289.5" x2="167.9" y2="289.5" stroke="#111" stroke-width="0.8"/>
<line x1="165.9" y1="297.5" x2="167.9" y2="297.5" stroke="#111" stroke-width="0.8"/>
<circle cx="166.9" cy="293.5" r="1.9" fill="#000"/>
<line x1="192.3" y1="288.4" x2="192.3" y2="296.4" stroke="#111" stroke-width="0.8"/>
<line x1="191.3" y1="288.4" x2="193.3" y2="288.4" stroke="#111" stroke-width="0.8"/>
<line x1="191.3" y1="296.4" x2="193.3" y2="296.4" stroke="#111" stroke-width="0.8"/>
<circle cx="192.3" cy="292.4" r="1.9" fill="#000"/>
<text x="0" y="0" font-size="12.5" font-weight="bold" fill="#000" stroke="#000" stroke-width="0.25" transform="translate(224.36 222.00) scale(0.960 1)">F</text>
<polyline points="258.6,243 258.6,355 371.4,402.3 440.8,354.4" fill="none" stroke="#777" stroke-width="0.9"/>
<text x="253.40" y="303.20" font-size="9.5" fill="#7a7a7a" text-anchor="middle" stroke="#7a7a7a" stroke-width="0.05" textLength="59" lengthAdjust="spacingAndGlyphs" transform="rotate(-90 253.40 303.20)" >Feature space</text>
<text x="0" y="0" font-size="9.5" fill="#7a7a7a" text-anchor="middle" textLength="60" lengthAdjust="spacingAndGlyphs" transform="translate(304.2 385.2) rotate(24.9)">Feature space</text>
<text x="0" y="0" font-size="9.5" fill="#7a7a7a" text-anchor="middle" textLength="61" lengthAdjust="spacingAndGlyphs" transform="translate(410.5 390.2) rotate(-36.2)">Feature space</text>
<path d="M292,295.2 L316,286.6 L388.9,317.4 L361.5,328.9 Z" fill="#b5b9bc" stroke="#b5b9bc" stroke-width="1.2" stroke-linejoin="round"/>
<polygon points="321.3,267.2 376,292.8 359.7,351.9 307.2,327.4" fill="none" stroke="#1e1e1e" stroke-width="1.5"/>
<circle cx="321.3" cy="267.2" r="5.5" fill="#8c1b1d"/>
<circle cx="376.0" cy="292.8" r="5.5" fill="#8c1b1d"/>
<circle cx="307.2" cy="327.4" r="5.5" fill="#2a4d92"/>
<circle cx="359.7" cy="351.9" r="5.5" fill="#2a4d92"/>
<text x="307.2" y="257.9" font-size="6.2" fill="#111" stroke="#111" stroke-width="0.2" textLength="39" lengthAdjust="spacingAndGlyphs"><tspan fill="#a52a2a" stroke="#a52a2a">HSC</tspan> (Learning)</text>
<text x="368.1" y="284.5" font-size="6.2" fill="#111" stroke="#111" stroke-width="0.2" textLength="38" lengthAdjust="spacingAndGlyphs"><tspan fill="#a52a2a" stroke="#a52a2a">HSC</tspan> (Creating)</text>
<text x="289.0" y="342.3" font-size="6.2" fill="#111" stroke="#111" stroke-width="0.2" textLength="37.8" lengthAdjust="spacingAndGlyphs"><tspan fill="#2a4d92" stroke="#2a4d92">LSC</tspan> (Learning)</text>
<text x="350.2" y="365.8" font-size="6.2" fill="#111" stroke="#111" stroke-width="0.2" textLength="37.5" lengthAdjust="spacingAndGlyphs"><tspan fill="#2a4d92" stroke="#2a4d92">LSC</tspan> (Creating)</text>
<text x="0" y="0" font-size="6.4" fill="#ecc21c" stroke="#ecc21c" stroke-width="0.25" textLength="41" lengthAdjust="spacingAndGlyphs" transform="translate(274.0 291.0) rotate(-23.6)">Train (Learning)</text>
<text x="0" y="0" font-size="6.4" fill="#ecc21c" stroke="#ecc21c" stroke-width="0.25" textLength="38" lengthAdjust="spacingAndGlyphs" transform="translate(372.5 345.8) rotate(-27.7)">Test (Creating)</text>
<line x1="297.3" y1="284.3" x2="303" y2="287.4" stroke="#222" stroke-width="0.6"/><path d="M304.6,288.3 L301.6,288.6 L302.8,286.4 Z" fill="#222"/>
<line x1="386.3" y1="332.9" x2="379.5" y2="327.5" stroke="#222" stroke-width="0.6"/><path d="M378,326.3 L381.2,326.9 L379.6,328.9 Z" fill="#222"/>
<text x="0" y="0" font-size="12.5" font-weight="bold" fill="#000" stroke="#000" stroke-width="0.25" transform="translate(470.04 222.00) scale(1.100 1)">G</text>
<path d="M506.8,238.9 C515,234 525,231 535,230.4 C550,230 565,230.2 575,230.6 C588,232 598,238 608,240 C618,241.5 628,241.2 636,242 C644,242.8 650,243.6 654.4,244.3 L654.4,248.5 L506.8,248.5 Z" fill="#ffbdbd" stroke="none"/>
<path d="M506.8,238.9 C515,234 525,231 535,230.4 C550,230 565,230.2 575,230.6 C588,232 598,238 608,240 C618,241.5 628,241.2 636,242 C644,242.8 650,243.6 654.4,244.3" fill="none" stroke="#f2584f" stroke-width="0.8"/>
<path d="M669.8,254.9 C674,262 681,273 683.3,281 C684.5,287 683,293 680,303 C677,315 673,330 670.5,343 C668,355 666.5,368 665.3,379 L663.4,379 L663.4,254.9 Z" fill="#b8b8fc" stroke="none"/>
<path d="M669.8,254.9 C674,262 681,273 683.3,281 C684.5,287 683,293 680,303 C677,315 673,330 670.5,343 C668,355 666.5,368 665.3,379" fill="none" stroke="#4848f0" stroke-width="0.8"/>
<rect x="499.3" y="248.5" width="162.3" height="136.60000000000002" fill="#fff" stroke="#c9c9c9" stroke-width="0.9"/>
<path d="M507,302 C530,298 548,297 560,295 L654.5,256.3 L654.5,302 C630,302 610,304 595,306 C570,312 540,325 507,336.3 Z" fill="#ececec"/>
<line x1="507" y1="319.2" x2="654.5" y2="279.6" stroke="#222" stroke-width="1.3"/>
<g fill="#3d7bd4"><circle cx="506.7" cy="271" r="1.5"/><circle cx="554.9" cy="258.1" r="1.5"/><circle cx="552.1" cy="262" r="1.5"/><circle cx="551.3" cy="263.3" r="1.5"/><circle cx="529.7" cy="277.7" r="1.5"/><circle cx="514.4" cy="287.6" r="1.5"/><circle cx="555.9" cy="283.8" r="1.5"/><circle cx="544.6" cy="293.9" r="1.5"/><circle cx="573.7" cy="288.2" r="1.5"/><circle cx="576.9" cy="287.2" r="1.5"/><circle cx="580.8" cy="282" r="1.5"/><circle cx="520.7" cy="310.8" r="1.5"/><circle cx="520.1" cy="318.8" r="1.5"/><circle cx="545.6" cy="313.6" r="1.5"/><circle cx="559.3" cy="302.9" r="1.5"/><circle cx="569.3" cy="300.2" r="1.5"/><circle cx="539.6" cy="325.4" r="1.5"/><circle cx="547.8" cy="325.4" r="1.5"/><circle cx="569.3" cy="327.3" r="1.5"/><circle cx="532" cy="331.1" r="1.5"/><circle cx="522.4" cy="340.5" r="1.5"/><circle cx="523" cy="348.3" r="1.5"/><circle cx="515.7" cy="352.5" r="1.5"/><circle cx="539.6" cy="352.5" r="1.5"/><circle cx="529.1" cy="368.2" r="1.5"/><circle cx="579.2" cy="379" r="1.5"/><circle cx="654.7" cy="254.9" r="1.5"/><circle cx="585.8" cy="280.7" r="1.5"/><circle cx="594" cy="281.8" r="1.5"/><circle cx="605.1" cy="278.1" r="1.5"/><circle cx="624.5" cy="282" r="1.5"/><circle cx="647.1" cy="278.6" r="1.5"/><circle cx="580.4" cy="289.3" r="1.5"/><circle cx="580.8" cy="292.1" r="1.5"/><circle cx="586.2" cy="293.6" r="1.5"/><circle cx="626" cy="302.9" r="1.5"/><circle cx="636" cy="304" r="1.5"/><circle cx="588.6" cy="314.1" r="1.5"/><circle cx="619.2" cy="325.2" r="1.5"/></g>
<line x1="499.3" y1="248.5" x2="499.3" y2="385.1" stroke="#333" stroke-width="1"/>
<line x1="499.3" y1="385.1" x2="661.6" y2="385.1" stroke="#333" stroke-width="1"/>
<line x1="496.8" y1="363.2" x2="499.3" y2="363.2" stroke="#333" stroke-width="0.9"/>
<text x="495.50" y="367.10" font-size="10.6" fill="#333" text-anchor="end" stroke="#333" stroke-width="0.1" >2</text>
<line x1="496.8" y1="332.8" x2="499.3" y2="332.8" stroke="#333" stroke-width="0.9"/>
<text x="495.50" y="336.70" font-size="10.6" fill="#333" text-anchor="end" stroke="#333" stroke-width="0.1" >3</text>
<line x1="496.8" y1="302.4" x2="499.3" y2="302.4" stroke="#333" stroke-width="0.9"/>
<text x="495.50" y="306.30" font-size="10.6" fill="#333" text-anchor="end" stroke="#333" stroke-width="0.1" >4</text>
<line x1="496.8" y1="272.0" x2="499.3" y2="272.0" stroke="#333" stroke-width="0.9"/>
<text x="495.50" y="275.90" font-size="10.6" fill="#333" text-anchor="end" stroke="#333" stroke-width="0.1" >5</text>
<line x1="510.7" y1="385.1" x2="510.7" y2="387.6" stroke="#333" stroke-width="0.9"/>
<text x="509.70" y="396.80" font-size="10.6" fill="#333" text-anchor="middle" stroke="#333" stroke-width="0.1" >-2</text>
<line x1="547.5" y1="385.1" x2="547.5" y2="387.6" stroke="#333" stroke-width="0.9"/>
<text x="547.50" y="396.80" font-size="10.6" fill="#333" text-anchor="middle" stroke="#333" stroke-width="0.1" >0</text>
<line x1="584.3" y1="385.1" x2="584.3" y2="387.6" stroke="#333" stroke-width="0.9"/>
<text x="584.30" y="396.80" font-size="10.6" fill="#333" text-anchor="middle" stroke="#333" stroke-width="0.1" >2</text>
<line x1="621.1" y1="385.1" x2="621.1" y2="387.6" stroke="#333" stroke-width="0.9"/>
<text x="621.10" y="396.80" font-size="10.6" fill="#333" text-anchor="middle" stroke="#333" stroke-width="0.1" >4</text>
<line x1="657.9" y1="385.1" x2="657.9" y2="387.6" stroke="#333" stroke-width="0.9"/>
<text x="657.90" y="396.80" font-size="10.6" fill="#333" text-anchor="middle" stroke="#333" stroke-width="0.1" >6</text>
<text x="486.00" y="316.70" font-size="9.8" fill="#222" text-anchor="middle" stroke="#222" stroke-width="0.12" textLength="96.4" lengthAdjust="spacingAndGlyphs" transform="rotate(-90 486.00 316.70)" >Creative Performance</text>
<text x="580.30" y="407.80" font-size="10" fill="#222" text-anchor="middle" stroke="#222" stroke-width="0.22" textLength="146" lengthAdjust="spacingAndGlyphs" >Cross-phase Decoding Accuracy</text>
<text x="582.5" y="262" font-size="7.6" fill="#111" textLength="61.4" lengthAdjust="spacingAndGlyphs"><tspan font-style="italic">r</tspan> = -0.34, <tspan font-style="italic">p</tspan> = 0.03</text>
</svg></body></html>
